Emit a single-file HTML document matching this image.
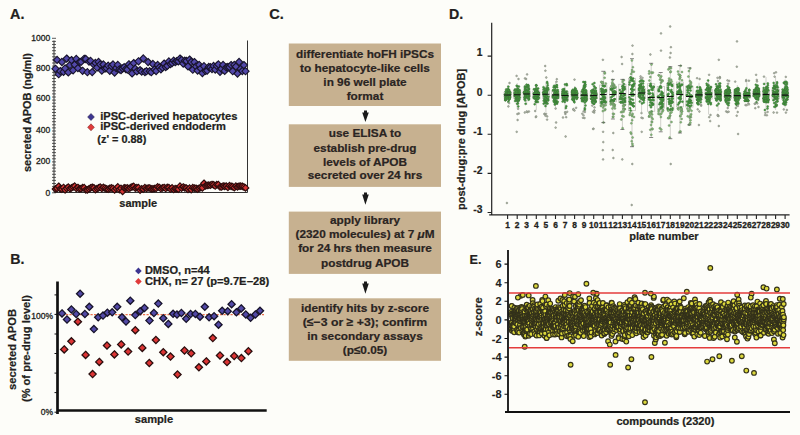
<!DOCTYPE html>
<html><head><meta charset="utf-8"><style>
html,body{margin:0;padding:0;background:#fdfdf9;width:800px;height:435px;overflow:hidden}
svg{display:block;font-family:"Liberation Sans",sans-serif}
</style></head><body>
<svg width="800" height="435" viewBox="0 0 800 435" font-family="Liberation Sans, sans-serif" font-weight="bold"><text x="10.0" y="18.9" font-size="14.4" text-anchor="start" fill="#231f20" stroke="#231f20" stroke-width="0.22">A.</text>
<text x="10.2" y="264.3" font-size="14.2" text-anchor="start" fill="#231f20" stroke="#231f20" stroke-width="0.22">B.</text>
<text x="269.2" y="18.9" font-size="14.6" text-anchor="start" fill="#231f20" stroke="#231f20" stroke-width="0.22">C.</text>
<text x="449.0" y="18.8" font-size="14.2" text-anchor="start" fill="#231f20" stroke="#231f20" stroke-width="0.22">D.</text>
<text x="469.6" y="264.3" font-size="12.6" text-anchor="start" fill="#231f20" stroke="#231f20" stroke-width="0.22">E.</text>
<g stroke="#333" stroke-width="1" fill="none">
<path d="M54 40.5V192.5H247.5V40.5"/>
</g>
<path d="M52 192.8h4M52 189.7h4M52 186.6h4M52 183.5h4M52 180.4h4M52 177.4h4M52 174.3h4M52 171.2h4M52 168.1h4M52 165h4M52 161.9h4M52 158.8h4M52 155.7h4M52 152.6h4M52 149.5h4M52 146.5h4M52 143.4h4M52 140.3h4M52 137.2h4M52 134.1h4M52 131h4M52 127.9h4M52 124.8h4M52 121.7h4M52 118.6h4M52 115.6h4M52 112.5h4M52 109.4h4M52 106.3h4M52 103.2h4M52 100.1h4M52 97h4M52 93.9h4M52 90.8h4M52 87.7h4M52 84.7h4M52 81.6h4M52 78.5h4M52 75.4h4M52 72.3h4M52 69.2h4M52 66.1h4M52 63h4M52 59.9h4M52 56.8h4M52 53.8h4M52 50.7h4M52 47.6h4M52 44.5h4M52 41.4h4M52 38.3h4" stroke="#333" stroke-width="0.8"/>
<text x="50.2" y="196" font-size="8.5" text-anchor="end" fill="#231f20" stroke="#231f20" stroke-width="0.3" font-weight="normal">0</text>
<text x="50.2" y="164.4" font-size="8.5" text-anchor="end" fill="#231f20" stroke="#231f20" stroke-width="0.3" font-weight="normal">200</text>
<text x="50.2" y="133" font-size="8.5" text-anchor="end" fill="#231f20" stroke="#231f20" stroke-width="0.3" font-weight="normal">400</text>
<text x="50.2" y="101.3" font-size="8.5" text-anchor="end" fill="#231f20" stroke="#231f20" stroke-width="0.3" font-weight="normal">600</text>
<text x="50.2" y="70.8" font-size="8.5" text-anchor="end" fill="#231f20" stroke="#231f20" stroke-width="0.3" font-weight="normal">800</text>
<text x="50.2" y="40.8" font-size="8.5" text-anchor="end" fill="#231f20" stroke="#231f20" stroke-width="0.3" font-weight="normal">1000</text>
<text x="31.0" y="112.5" font-size="10.6" text-anchor="middle" fill="#231f20" stroke="#231f20" stroke-width="0.22" textLength="119" lengthAdjust="spacingAndGlyphs" transform="rotate(-90 31.0 112.5)">secreted APOB (ng/ml)</text>
<text x="138.2" y="207.0" font-size="10.8" text-anchor="middle" fill="#231f20" stroke="#231f20" stroke-width="0.22" textLength="37.8" lengthAdjust="spacingAndGlyphs">sample</text>
<g fill="#5248aa" stroke="#18142c" stroke-width="1.1">
<path d="M55.5 65.2L59.1 68.8L55.5 72.4L51.9 68.8Z"/><path d="M57.1 56.3L60.7 59.9L57.1 63.5L53.5 59.9Z"/><path d="M58.7 70.6L62.3 74.2L58.7 77.8L55.1 74.2Z"/><path d="M60.3 67.5L63.9 71.1L60.3 74.7L56.7 71.1Z"/><path d="M61.9 58.4L65.5 62L61.9 65.6L58.3 62Z"/><path d="M63.5 68.3L67.1 71.9L63.5 75.5L59.9 71.9Z"/><path d="M65.1 64.8L68.7 68.4L65.1 72L61.5 68.4Z"/><path d="M66.7 55L70.3 58.6L66.7 62.2L63.1 58.6Z"/><path d="M68.3 68.8L71.9 72.4L68.3 76L64.7 72.4Z"/><path d="M69.9 61.5L73.5 65.1L69.9 68.7L66.3 65.1Z"/><path d="M71.5 56.5L75.1 60.1L71.5 63.7L67.9 60.1Z"/><path d="M73.1 66.7L76.7 70.3L73.1 73.9L69.5 70.3Z"/><path d="M74.7 61.1L78.3 64.7L74.7 68.3L71.1 64.7Z"/><path d="M76.3 55.3L79.9 58.9L76.3 62.5L72.7 58.9Z"/><path d="M77.9 64.5L81.5 68.1L77.9 71.7L74.3 68.1Z"/><path d="M79.4 58.5L83 62.1L79.4 65.7L75.8 62.1Z"/><path d="M81 58.3L84.6 61.9L81 65.5L77.4 61.9Z"/><path d="M82.6 67.2L86.2 70.8L82.6 74.4L79 70.8Z"/><path d="M84.2 55.2L87.8 58.8L84.2 62.4L80.6 58.8Z"/><path d="M85.8 55.4L89.4 59L85.8 62.6L82.2 59Z"/><path d="M87.4 68.6L91 72.2L87.4 75.8L83.8 72.2Z"/><path d="M89 58L92.6 61.6L89 65.2L85.4 61.6Z"/><path d="M90.6 57.3L94.2 60.9L90.6 64.5L87 60.9Z"/><path d="M92.2 68.5L95.8 72.1L92.2 75.7L88.6 72.1Z"/><path d="M93.8 61L97.4 64.6L93.8 68.2L90.2 64.6Z"/><path d="M95.4 59.3L99 62.9L95.4 66.5L91.8 62.9Z"/><path d="M97 64L100.6 67.6L97 71.2L93.4 67.6Z"/><path d="M98.6 58.3L102.2 61.9L98.6 65.5L95 61.9Z"/><path d="M100.2 60.9L103.8 64.5L100.2 68.1L96.6 64.5Z"/><path d="M101.8 67L105.4 70.6L101.8 74.2L98.2 70.6Z"/><path d="M103.4 60.9L107 64.5L103.4 68.1L99.8 64.5Z"/><path d="M105 64.9L108.6 68.5L105 72.1L101.4 68.5Z"/><path d="M106.6 64.5L110.2 68.1L106.6 71.7L103 68.1Z"/><path d="M108.2 62.1L111.8 65.7L108.2 69.3L104.6 65.7Z"/><path d="M109.8 67.2L113.4 70.8L109.8 74.4L106.2 70.8Z"/><path d="M111.4 62.5L115 66.1L111.4 69.7L107.8 66.1Z"/><path d="M113 60.9L116.6 64.5L113 68.1L109.4 64.5Z"/><path d="M114.6 68.9L118.2 72.5L114.6 76.1L111 72.5Z"/><path d="M116.2 64.4L119.8 68L116.2 71.6L112.6 68Z"/><path d="M117.8 61.3L121.4 64.9L117.8 68.5L114.2 64.9Z"/><path d="M119.4 65.8L123 69.4L119.4 73L115.8 69.4Z"/><path d="M121 66.5L124.6 70.1L121 73.7L117.4 70.1Z"/><path d="M122.6 64.9L126.2 68.5L122.6 72.1L119 68.5Z"/><path d="M124.2 63.6L127.8 67.2L124.2 70.8L120.6 67.2Z"/><path d="M125.8 65.5L129.4 69.1L125.8 72.7L122.2 69.1Z"/><path d="M127.3 65.9L130.9 69.5L127.3 73.1L123.7 69.5Z"/><path d="M128.9 60.7L132.5 64.3L128.9 67.9L125.3 64.3Z"/><path d="M130.5 62.9L134.1 66.5L130.5 70.1L126.9 66.5Z"/><path d="M132.1 69.8L135.7 73.4L132.1 77L128.5 73.4Z"/><path d="M133.7 59.5L137.3 63.1L133.7 66.7L130.1 63.1Z"/><path d="M135.3 65.1L138.9 68.7L135.3 72.3L131.7 68.7Z"/><path d="M136.9 67.8L140.5 71.4L136.9 75L133.3 71.4Z"/><path d="M138.5 57.7L142.1 61.3L138.5 64.9L134.9 61.3Z"/><path d="M140.1 66.6L143.7 70.2L140.1 73.8L136.5 70.2Z"/><path d="M141.7 68L145.3 71.6L141.7 75.2L138.1 71.6Z"/><path d="M143.3 54.9L146.9 58.5L143.3 62.1L139.7 58.5Z"/><path d="M144.9 68.5L148.5 72.1L144.9 75.7L141.3 72.1Z"/><path d="M146.5 67.6L150.1 71.2L146.5 74.8L142.9 71.2Z"/><path d="M148.1 58.5L151.7 62.1L148.1 65.7L144.5 62.1Z"/><path d="M149.7 67.6L153.3 71.2L149.7 74.8L146.1 71.2Z"/><path d="M151.3 68.6L154.9 72.2L151.3 75.8L147.7 72.2Z"/><path d="M152.9 60.4L156.5 64L152.9 67.6L149.3 64Z"/><path d="M154.5 65.9L158.1 69.5L154.5 73.1L150.9 69.5Z"/><path d="M156.1 67.4L159.7 71L156.1 74.6L152.5 71Z"/><path d="M157.7 61.4L161.3 65L157.7 68.6L154.1 65Z"/><path d="M159.3 63.9L162.9 67.5L159.3 71.1L155.7 67.5Z"/><path d="M160.9 65.7L164.5 69.3L160.9 72.9L157.3 69.3Z"/><path d="M162.5 64L166.1 67.6L162.5 71.2L158.9 67.6Z"/><path d="M164.1 60L167.7 63.6L164.1 67.2L160.5 63.6Z"/><path d="M165.7 63.4L169.3 67L165.7 70.6L162.1 67Z"/><path d="M167.3 62.3L170.9 65.9L167.3 69.5L163.7 65.9Z"/><path d="M168.9 57.8L172.5 61.4L168.9 65L165.3 61.4Z"/><path d="M170.5 60.4L174.1 64L170.5 67.6L166.9 64Z"/><path d="M172.1 59.4L175.7 63L172.1 66.6L168.5 63Z"/><path d="M173.7 57.1L177.3 60.7L173.7 64.3L170.1 60.7Z"/><path d="M175.2 58.5L178.8 62.1L175.2 65.7L171.6 62.1Z"/><path d="M176.8 57.6L180.4 61.2L176.8 64.8L173.2 61.2Z"/><path d="M178.4 57.8L182 61.4L178.4 65L174.8 61.4Z"/><path d="M180 55L183.6 58.6L180 62.2L176.4 58.6Z"/><path d="M181.6 56.4L185.2 60L181.6 63.6L178 60Z"/><path d="M183.2 60L186.8 63.6L183.2 67.2L179.6 63.6Z"/><path d="M184.8 57.1L188.4 60.7L184.8 64.3L181.2 60.7Z"/><path d="M186.4 57.4L190 61L186.4 64.6L182.8 61Z"/><path d="M188 62.8L191.6 66.4L188 70L184.4 66.4Z"/><path d="M189.6 56L193.2 59.6L189.6 63.2L186 59.6Z"/><path d="M191.2 58.4L194.8 62L191.2 65.6L187.6 62Z"/><path d="M192.8 66.1L196.4 69.7L192.8 73.3L189.2 69.7Z"/><path d="M194.4 58.5L198 62.1L194.4 65.7L190.8 62.1Z"/><path d="M196 62.9L199.6 66.5L196 70.1L192.4 66.5Z"/><path d="M197.6 66.9L201.2 70.5L197.6 74.1L194 70.5Z"/><path d="M199.2 61.3L202.8 64.9L199.2 68.5L195.6 64.9Z"/><path d="M200.8 64.8L204.4 68.4L200.8 72L197.2 68.4Z"/><path d="M202.4 69.5L206 73.1L202.4 76.7L198.8 73.1Z"/><path d="M204 62.6L207.6 66.2L204 69.8L200.4 66.2Z"/><path d="M205.6 67.3L209.2 70.9L205.6 74.5L202 70.9Z"/><path d="M207.2 67L210.8 70.6L207.2 74.2L203.6 70.6Z"/><path d="M208.8 63.4L212.4 67L208.8 70.6L205.2 67Z"/><path d="M210.4 63.6L214 67.2L210.4 70.8L206.8 67.2Z"/><path d="M212 65.4L215.6 69L212 72.6L208.4 69Z"/><path d="M213.6 62.4L217.2 66L213.6 69.6L210 66Z"/><path d="M215.2 65.9L218.8 69.5L215.2 73.1L211.6 69.5Z"/><path d="M216.8 62.2L220.4 65.8L216.8 69.4L213.2 65.8Z"/><path d="M218.4 60.8L222 64.4L218.4 68L214.8 64.4Z"/><path d="M220 68.2L223.6 71.8L220 75.4L216.4 71.8Z"/><path d="M221.6 65.2L225.2 68.8L221.6 72.4L218 68.8Z"/><path d="M223.1 61.3L226.7 64.9L223.1 68.5L219.5 64.9Z"/><path d="M224.7 67.3L228.3 70.9L224.7 74.5L221.1 70.9Z"/><path d="M226.3 63.7L229.9 67.3L226.3 70.9L222.7 67.3Z"/><path d="M227.9 63.4L231.5 67L227.9 70.6L224.3 67Z"/><path d="M229.5 63.5L233.1 67.1L229.5 70.7L225.9 67.1Z"/><path d="M231.1 61.5L234.7 65.1L231.1 68.7L227.5 65.1Z"/><path d="M232.7 67.6L236.3 71.2L232.7 74.8L229.1 71.2Z"/><path d="M234.3 61.3L237.9 64.9L234.3 68.5L230.7 64.9Z"/><path d="M235.9 63L239.5 66.6L235.9 70.2L232.3 66.6Z"/><path d="M237.5 69.9L241.1 73.5L237.5 77.1L233.9 73.5Z"/><path d="M239.1 58.4L242.7 62L239.1 65.6L235.5 62Z"/><path d="M240.7 65.3L244.3 68.9L240.7 72.5L237.1 68.9Z"/><path d="M242.3 67.4L245.9 71L242.3 74.6L238.7 71Z"/><path d="M243.9 61.5L247.5 65.1L243.9 68.7L240.3 65.1Z"/><path d="M245.5 67.6L249.1 71.2L245.5 74.8L241.9 71.2Z"/>
</g>
<g fill="#d43434" stroke="#2e0c0c" stroke-width="1.15">
<path d="M55.5 185.6L58.8 188.9L55.5 192.2L52.2 188.9Z"/><path d="M57.1 185.1L60.4 188.4L57.1 191.7L53.8 188.4Z"/><path d="M58.7 183L62 186.3L58.7 189.6L55.4 186.3Z"/><path d="M60.3 185.5L63.6 188.8L60.3 192.1L57 188.8Z"/><path d="M61.9 185.8L65.2 189.1L61.9 192.4L58.6 189.1Z"/><path d="M63.5 184.2L66.8 187.5L63.5 190.8L60.2 187.5Z"/><path d="M65.1 186.5L68.4 189.8L65.1 193.1L61.8 189.8Z"/><path d="M66.7 185L70 188.3L66.7 191.6L63.4 188.3Z"/><path d="M68.3 183.8L71.6 187.1L68.3 190.4L65 187.1Z"/><path d="M69.9 185.4L73.2 188.7L69.9 192L66.6 188.7Z"/><path d="M71.5 184.6L74.8 187.9L71.5 191.2L68.2 187.9Z"/><path d="M73.1 183.7L76.4 187L73.1 190.3L69.8 187Z"/><path d="M74.7 182.9L78 186.2L74.7 189.5L71.4 186.2Z"/><path d="M76.3 185.1L79.6 188.4L76.3 191.7L73 188.4Z"/><path d="M77.9 184.2L81.2 187.5L77.9 190.8L74.6 187.5Z"/><path d="M79.4 185.5L82.7 188.8L79.4 192.1L76.1 188.8Z"/><path d="M81 185.3L84.3 188.6L81 191.9L77.7 188.6Z"/><path d="M82.6 184.4L85.9 187.7L82.6 191L79.3 187.7Z"/><path d="M84.2 184.4L87.5 187.7L84.2 191L80.9 187.7Z"/><path d="M85.8 186.5L89.1 189.8L85.8 193.1L82.5 189.8Z"/><path d="M87.4 186.5L90.7 189.8L87.4 193.1L84.1 189.8Z"/><path d="M89 185.6L92.3 188.9L89 192.2L85.7 188.9Z"/><path d="M90.6 184.6L93.9 187.9L90.6 191.2L87.3 187.9Z"/><path d="M92.2 184L95.5 187.3L92.2 190.6L88.9 187.3Z"/><path d="M93.8 184.5L97.1 187.8L93.8 191.1L90.5 187.8Z"/><path d="M95.4 186.4L98.7 189.7L95.4 193L92.1 189.7Z"/><path d="M97 185.3L100.3 188.6L97 191.9L93.7 188.6Z"/><path d="M98.6 184.6L101.9 187.9L98.6 191.2L95.3 187.9Z"/><path d="M100.2 183.8L103.5 187.1L100.2 190.4L96.9 187.1Z"/><path d="M101.8 185.1L105.1 188.4L101.8 191.7L98.5 188.4Z"/><path d="M103.4 184.1L106.7 187.4L103.4 190.7L100.1 187.4Z"/><path d="M105 184.9L108.3 188.2L105 191.5L101.7 188.2Z"/><path d="M106.6 185.6L109.9 188.9L106.6 192.2L103.3 188.9Z"/><path d="M108.2 185.9L111.5 189.2L108.2 192.5L104.9 189.2Z"/><path d="M109.8 185L113.1 188.3L109.8 191.6L106.5 188.3Z"/><path d="M111.4 184.6L114.7 187.9L111.4 191.2L108.1 187.9Z"/><path d="M113 185.1L116.3 188.4L113 191.7L109.7 188.4Z"/><path d="M114.6 186.6L117.9 189.9L114.6 193.2L111.3 189.9Z"/><path d="M116.2 185.2L119.5 188.5L116.2 191.8L112.9 188.5Z"/><path d="M117.8 183.6L121.1 186.9L117.8 190.2L114.5 186.9Z"/><path d="M119.4 186.3L122.7 189.6L119.4 192.9L116.1 189.6Z"/><path d="M121 185.1L124.3 188.4L121 191.7L117.7 188.4Z"/><path d="M122.6 188.1L125.9 191.4L122.6 194.7L119.3 191.4Z"/><path d="M124.2 184.5L127.5 187.8L124.2 191.1L120.9 187.8Z"/><path d="M125.8 184.8L129.1 188.1L125.8 191.4L122.5 188.1Z"/><path d="M127.3 184.6L130.6 187.9L127.3 191.2L124 187.9Z"/><path d="M128.9 185.2L132.2 188.5L128.9 191.8L125.6 188.5Z"/><path d="M130.5 184.4L133.8 187.7L130.5 191L127.2 187.7Z"/><path d="M132.1 183.5L135.4 186.8L132.1 190.1L128.8 186.8Z"/><path d="M133.7 183.1L137 186.4L133.7 189.7L130.4 186.4Z"/><path d="M135.3 184.8L138.6 188.1L135.3 191.4L132 188.1Z"/><path d="M136.9 184.4L140.2 187.7L136.9 191L133.6 187.7Z"/><path d="M138.5 184.4L141.8 187.7L138.5 191L135.2 187.7Z"/><path d="M140.1 186.8L143.4 190.1L140.1 193.4L136.8 190.1Z"/><path d="M141.7 185.6L145 188.9L141.7 192.2L138.4 188.9Z"/><path d="M143.3 185.9L146.6 189.2L143.3 192.5L140 189.2Z"/><path d="M144.9 184.4L148.2 187.7L144.9 191L141.6 187.7Z"/><path d="M146.5 185.2L149.8 188.5L146.5 191.8L143.2 188.5Z"/><path d="M148.1 184.7L151.4 188L148.1 191.3L144.8 188Z"/><path d="M149.7 184.7L153 188L149.7 191.3L146.4 188Z"/><path d="M151.3 185.6L154.6 188.9L151.3 192.2L148 188.9Z"/><path d="M152.9 185.5L156.2 188.8L152.9 192.1L149.6 188.8Z"/><path d="M154.5 185.2L157.8 188.5L154.5 191.8L151.2 188.5Z"/><path d="M156.1 185L159.4 188.3L156.1 191.6L152.8 188.3Z"/><path d="M157.7 183.6L161 186.9L157.7 190.2L154.4 186.9Z"/><path d="M159.3 184.2L162.6 187.5L159.3 190.8L156 187.5Z"/><path d="M160.9 185.2L164.2 188.5L160.9 191.8L157.6 188.5Z"/><path d="M162.5 184.6L165.8 187.9L162.5 191.2L159.2 187.9Z"/><path d="M164.1 184.2L167.4 187.5L164.1 190.8L160.8 187.5Z"/><path d="M165.7 185.2L169 188.5L165.7 191.8L162.4 188.5Z"/><path d="M167.3 184.1L170.6 187.4L167.3 190.7L164 187.4Z"/><path d="M168.9 184.3L172.2 187.6L168.9 190.9L165.6 187.6Z"/><path d="M170.5 185.7L173.8 189L170.5 192.3L167.2 189Z"/><path d="M172.1 184.6L175.4 187.9L172.1 191.2L168.8 187.9Z"/><path d="M173.7 186.2L177 189.5L173.7 192.8L170.4 189.5Z"/><path d="M175.2 185.4L178.5 188.7L175.2 192L171.9 188.7Z"/><path d="M176.8 185.6L180.1 188.9L176.8 192.2L173.5 188.9Z"/><path d="M178.4 185.9L181.7 189.2L178.4 192.5L175.1 189.2Z"/><path d="M180 182.9L183.3 186.2L180 189.5L176.7 186.2Z"/><path d="M181.6 184.8L184.9 188.1L181.6 191.4L178.3 188.1Z"/><path d="M183.2 183.7L186.5 187L183.2 190.3L179.9 187Z"/><path d="M184.8 184.5L188.1 187.8L184.8 191.1L181.5 187.8Z"/><path d="M186.4 184.8L189.7 188.1L186.4 191.4L183.1 188.1Z"/><path d="M188 186L191.3 189.3L188 192.6L184.7 189.3Z"/><path d="M189.6 184.9L192.9 188.2L189.6 191.5L186.3 188.2Z"/><path d="M191.2 186.4L194.5 189.7L191.2 193L187.9 189.7Z"/><path d="M192.8 184.4L196.1 187.7L192.8 191L189.5 187.7Z"/><path d="M194.4 184.8L197.7 188.1L194.4 191.4L191.1 188.1Z"/><path d="M196 185L199.3 188.3L196 191.6L192.7 188.3Z"/><path d="M197.6 185.8L200.9 189.1L197.6 192.4L194.3 189.1Z"/><path d="M199.2 184.9L202.5 188.2L199.2 191.5L195.9 188.2Z"/><path d="M200.8 184.3L204.1 187.6L200.8 190.9L197.5 187.6Z"/><path d="M202.4 184.6L205.7 187.9L202.4 191.2L199.1 187.9Z"/><path d="M204 180L207.3 183.3L204 186.6L200.7 183.3Z"/><path d="M205.6 182.5L208.9 185.8L205.6 189.1L202.3 185.8Z"/><path d="M207.2 182.1L210.5 185.4L207.2 188.7L203.9 185.4Z"/><path d="M208.8 181.9L212.1 185.2L208.8 188.5L205.5 185.2Z"/><path d="M210.4 181.9L213.7 185.2L210.4 188.5L207.1 185.2Z"/><path d="M212 181.2L215.3 184.5L212 187.8L208.7 184.5Z"/><path d="M213.6 181.5L216.9 184.8L213.6 188.1L210.3 184.8Z"/><path d="M215.2 182.7L218.5 186L215.2 189.3L211.9 186Z"/><path d="M216.8 181.3L220.1 184.6L216.8 187.9L213.5 184.6Z"/><path d="M218.4 181.4L221.7 184.7L218.4 188L215.1 184.7Z"/><path d="M220 183.7L223.3 187L220 190.3L216.7 187Z"/><path d="M221.6 183.7L224.9 187L221.6 190.3L218.3 187Z"/><path d="M223.1 182.7L226.4 186L223.1 189.3L219.8 186Z"/><path d="M224.7 183L228 186.3L224.7 189.6L221.4 186.3Z"/><path d="M226.3 182.8L229.6 186.1L226.3 189.4L223 186.1Z"/><path d="M227.9 184L231.2 187.3L227.9 190.6L224.6 187.3Z"/><path d="M229.5 182.4L232.8 185.7L229.5 189L226.2 185.7Z"/><path d="M231.1 183L234.4 186.3L231.1 189.6L227.8 186.3Z"/><path d="M232.7 183.4L236 186.7L232.7 190L229.4 186.7Z"/><path d="M234.3 184.4L237.6 187.7L234.3 191L231 187.7Z"/><path d="M235.9 182.9L239.2 186.2L235.9 189.5L232.6 186.2Z"/><path d="M237.5 183.5L240.8 186.8L237.5 190.1L234.2 186.8Z"/><path d="M239.1 182.9L242.4 186.2L239.1 189.5L235.8 186.2Z"/><path d="M240.7 182.9L244 186.2L240.7 189.5L237.4 186.2Z"/><path d="M242.3 183L245.6 186.3L242.3 189.6L239 186.3Z"/><path d="M243.9 183.7L247.2 187L243.9 190.3L240.6 187Z"/><path d="M245.5 184.6L248.8 187.9L245.5 191.2L242.2 187.9Z"/>
</g>
<g stroke="#221d40" stroke-width="0.5">
<path fill="#3d3590" d="M91 113.5L94.4 117L91 120.5L87.6 117Z"/>
<path fill="#e03a3a" stroke="#6a1a1a" d="M91 123.8L94.4 127.3L91 130.8L87.6 127.3Z"/>
</g>
<text x="100.2" y="119.6" font-size="10.4" text-anchor="start" fill="#231f20" stroke="#231f20" stroke-width="0.22" textLength="137.2" lengthAdjust="spacingAndGlyphs">iPSC-derived hepatocytes</text>
<text x="100.2" y="130.3" font-size="10.4" text-anchor="start" fill="#231f20" stroke="#231f20" stroke-width="0.22" textLength="125.8" lengthAdjust="spacingAndGlyphs">iPSC-derived endoderm</text>
<text x="97.3" y="142.6" font-size="10.4" text-anchor="start" fill="#231f20" stroke="#231f20" stroke-width="0.22" textLength="49" lengthAdjust="spacingAndGlyphs">(z' = 0.88)</text>
<path d="M57.5 281.5V414M56.2 410.5H266.7" stroke="#111" stroke-width="2.7" fill="none"/>
<path d="M54.5 412.2h3M54.5 392.6h3M54.5 373.1h3M54.5 353.5h3M54.5 334h3M54.5 314.4h3M54.5 294.9h3" stroke="#111" stroke-width="1"/>
<text x="53.1" y="318.6" font-size="8.5" text-anchor="end" fill="#231f20" stroke="#231f20" stroke-width="0.3" font-weight="normal">100%</text>
<text x="53.1" y="414.9" font-size="8.5" text-anchor="end" fill="#231f20" stroke="#231f20" stroke-width="0.3" font-weight="normal">0%</text>
<path d="M59 314.6H264" stroke="#e8603a" stroke-width="1.2" stroke-dasharray="2.2 1.3" opacity="0.9"/>
<text x="15.9" y="349.5" font-size="10" text-anchor="middle" fill="#231f20" stroke="#231f20" stroke-width="0.22" textLength="81" lengthAdjust="spacingAndGlyphs" transform="rotate(-90 15.9 349.5)">secreted APOB</text>
<text x="29.6" y="348.5" font-size="10" text-anchor="middle" fill="#231f20" stroke="#231f20" stroke-width="0.22" textLength="107" lengthAdjust="spacingAndGlyphs" transform="rotate(-90 29.6 348.5)">(% of pre-drug level)</text>
<text x="154" y="423.3" font-size="10.8" text-anchor="middle" fill="#231f20" stroke="#231f20" stroke-width="0.22" textLength="38.3" lengthAdjust="spacingAndGlyphs">sample</text>
<g fill="#5249a6" stroke="#17132a" stroke-width="1.3">
<path d="M62 309.8L65.6 313.4L62 317L58.4 313.4Z"/><path d="M67 315.9L70.6 319.5L67 323.1L63.4 319.5Z"/><path d="M71.4 305.9L75 309.5L71.4 313.1L67.8 309.5Z"/><path d="M76.2 310.4L79.8 314L76.2 317.6L72.6 314Z"/><path d="M80.1 290.1L83.7 293.7L80.1 297.3L76.5 293.7Z"/><path d="M84.9 310.4L88.5 314L84.9 317.6L81.3 314Z"/><path d="M89.3 303.2L92.9 306.8L89.3 310.4L85.7 306.8Z"/><path d="M93.9 325.5L97.5 329.1L93.9 332.7L90.3 329.1Z"/><path d="M98.2 313.7L101.8 317.3L98.2 320.9L94.6 317.3Z"/><path d="M103 312L106.6 315.6L103 319.2L99.4 315.6Z"/><path d="M107.4 309.1L111 312.7L107.4 316.3L103.8 312.7Z"/><path d="M112.2 308.7L115.8 312.3L112.2 315.9L108.6 312.3Z"/><path d="M117.2 303.2L120.8 306.8L117.2 310.4L113.6 306.8Z"/><path d="M122 313.7L125.6 317.3L122 320.9L118.4 317.3Z"/><path d="M126 317.9L129.6 321.5L126 325.1L122.4 321.5Z"/><path d="M130.3 297.1L133.9 300.7L130.3 304.3L126.7 300.7Z"/><path d="M135.3 311.5L138.9 315.1L135.3 318.7L131.7 315.1Z"/><path d="M140.2 307.6L143.8 311.2L140.2 314.8L136.6 311.2Z"/><path d="M144.5 304.4L148.1 308L144.5 311.6L140.9 308Z"/><path d="M149.5 317L153.1 320.6L149.5 324.2L145.9 320.6Z"/><path d="M153.9 309.4L157.5 313L153.9 316.6L150.3 313Z"/><path d="M158.3 300L161.9 303.6L158.3 307.2L154.7 303.6Z"/><path d="M163.3 314.6L166.9 318.2L163.3 321.8L159.7 318.2Z"/><path d="M168.3 320.3L171.9 323.9L168.3 327.5L164.7 323.9Z"/><path d="M173.1 310.2L176.7 313.8L173.1 317.4L169.5 313.8Z"/><path d="M177 310.9L180.6 314.5L177 318.1L173.4 314.5Z"/><path d="M181.4 309.4L185 313L181.4 316.6L177.8 313Z"/><path d="M186.2 315.2L189.8 318.8L186.2 322.4L182.6 318.8Z"/><path d="M190.6 310.4L194.2 314L190.6 317.6L187 314Z"/><path d="M195.4 310.4L199 314L195.4 317.6L191.8 314Z"/><path d="M200 313.1L203.6 316.7L200 320.3L196.4 316.7Z"/><path d="M204.8 303.2L208.4 306.8L204.8 310.4L201.2 306.8Z"/><path d="M209.1 313.7L212.7 317.3L209.1 320.9L205.5 317.3Z"/><path d="M214.1 312.6L217.7 316.2L214.1 319.8L210.5 316.2Z"/><path d="M218.5 321.1L222.1 324.7L218.5 328.3L214.9 324.7Z"/><path d="M222.2 307.2L225.8 310.8L222.2 314.4L218.6 310.8Z"/><path d="M227.7 307.6L231.3 311.2L227.7 314.8L224.1 311.2Z"/><path d="M231.6 300.6L235.2 304.2L231.6 307.8L228 304.2Z"/><path d="M236.4 308.7L240 312.3L236.4 315.9L232.8 312.3Z"/><path d="M241.2 304.8L244.8 308.4L241.2 312L237.6 308.4Z"/><path d="M245.8 310.9L249.4 314.5L245.8 318.1L242.2 314.5Z"/><path d="M250.6 314.2L254.2 317.8L250.6 321.4L247 317.8Z"/><path d="M255.4 310.9L259 314.5L255.4 318.1L251.8 314.5Z"/><path d="M260 307.2L263.6 310.8L260 314.4L256.4 310.8Z"/>
</g>
<g fill="#dc3434" stroke="#2a0e0e" stroke-width="1.3">
<path d="M64.2 345.8L67.8 349.4L64.2 353L60.6 349.4Z"/><path d="M71.4 337.7L75 341.3L71.4 344.9L67.8 341.3Z"/><path d="M77.9 318.1L81.5 321.7L77.9 325.3L74.3 321.7Z"/><path d="M85.6 351.3L89.2 354.9L85.6 358.5L82 354.9Z"/><path d="M92.6 370.5L96.2 374.1L92.6 377.7L89 374.1Z"/><path d="M99.3 358.3L102.9 361.9L99.3 365.5L95.7 361.9Z"/><path d="M107 341.9L110.6 345.5L107 349.1L103.4 345.5Z"/><path d="M114.4 350.8L118 354.4L114.4 358L110.8 354.4Z"/><path d="M121.2 340.8L124.8 344.4L121.2 348L117.6 344.4Z"/><path d="M128.1 348L131.7 351.6L128.1 355.2L124.5 351.6Z"/><path d="M135.3 326.6L138.9 330.2L135.3 333.8L131.7 330.2Z"/><path d="M142.3 344.3L145.9 347.9L142.3 351.5L138.7 347.9Z"/><path d="M149.3 359.4L152.9 363L149.3 366.6L145.7 363Z"/><path d="M155.9 336.4L159.5 340L155.9 343.6L152.3 340Z"/><path d="M163.3 348.6L166.9 352.2L163.3 355.8L159.7 352.2Z"/><path d="M170.5 353L174.1 356.6L170.5 360.2L166.9 356.6Z"/><path d="M177.5 370.9L181.1 374.5L177.5 378.1L173.9 374.5Z"/><path d="M184.5 346.9L188.1 350.5L184.5 354.1L180.9 350.5Z"/><path d="M191.2 349.7L194.8 353.3L191.2 356.9L187.6 353.3Z"/><path d="M198.9 363.7L202.5 367.3L198.9 370.9L195.3 367.3Z"/><path d="M206.3 357.8L209.9 361.4L206.3 365L202.7 361.4Z"/><path d="M212.8 334.5L216.4 338.1L212.8 341.7L209.2 338.1Z"/><path d="M220 351.9L223.6 355.5L220 359.1L216.4 355.5Z"/><path d="M227 358.5L230.6 362.1L227 365.7L223.4 362.1Z"/><path d="M234.2 352.4L237.8 356L234.2 359.6L230.6 356Z"/><path d="M241.4 354.5L245 358.1L241.4 361.7L237.8 358.1Z"/><path d="M248.4 347.6L252 351.2L248.4 354.8L244.8 351.2Z"/>
</g>
<path fill="#3d3590" d="M138.4 267.6L141.7 270.9L138.4 274.2L135.1 270.9Z"/>
<path fill="#e03a3a" d="M138.4 278.1L141.7 281.4L138.4 284.7L135.1 281.4Z"/>
<text x="144.9" y="274.1" font-size="10.3" text-anchor="start" fill="#231f20" stroke="#231f20" stroke-width="0.22" textLength="64.8" lengthAdjust="spacingAndGlyphs">DMSO, n=44</text>
<text x="144.9" y="284.6" font-size="10.3" text-anchor="start" fill="#231f20" stroke="#231f20" stroke-width="0.22" textLength="124.3" lengthAdjust="spacingAndGlyphs">CHX, n= 27 (p=9.7E−28)</text>
<rect x="288.8" y="43.5" width="152.2" height="62.5" fill="#c7b190"/>
<rect x="288.8" y="124.3" width="152.2" height="62.6" fill="#c7b190"/>
<rect x="288.8" y="211.6" width="152.2" height="62.3" fill="#c7b190"/>
<rect x="288.8" y="298.3" width="152.2" height="62.5" fill="#c7b190"/>
<text x="365" y="58" font-size="11.8" text-anchor="middle" fill="#2a2422" stroke="#2a2422" stroke-width="0.22" textLength="138" lengthAdjust="spacingAndGlyphs">differentiate hoFH iPSCs</text>
<text x="365" y="72.2" font-size="11.8" text-anchor="middle" fill="#2a2422" stroke="#2a2422" stroke-width="0.22">to hepatocyte-like cells</text>
<text x="365" y="86.3" font-size="11.8" text-anchor="middle" fill="#2a2422" stroke="#2a2422" stroke-width="0.22">in 96 well plate</text>
<text x="365" y="100.4" font-size="11.8" text-anchor="middle" fill="#2a2422" stroke="#2a2422" stroke-width="0.22">format</text>
<text x="365" y="137.2" font-size="11.8" text-anchor="middle" fill="#2a2422" stroke="#2a2422" stroke-width="0.22">use ELISA to</text>
<text x="365" y="151.9" font-size="11.8" text-anchor="middle" fill="#2a2422" stroke="#2a2422" stroke-width="0.22">establish pre-drug</text>
<text x="365" y="165.7" font-size="11.8" text-anchor="middle" fill="#2a2422" stroke="#2a2422" stroke-width="0.22">levels of APOB</text>
<text x="365" y="179.4" font-size="11.8" text-anchor="middle" fill="#2a2422" stroke="#2a2422" stroke-width="0.22" textLength="114.5" lengthAdjust="spacingAndGlyphs">secreted over 24 hrs</text>
<text x="365" y="224.3" font-size="11.8" text-anchor="middle" fill="#2a2422" stroke="#2a2422" stroke-width="0.22">apply library</text>
<text x="365" y="238" font-size="11.8" text-anchor="middle" fill="#2a2422" stroke="#2a2422" stroke-width="0.22">(2320 molecules) at 7 <tspan font-style="italic">μ</tspan>M</text>
<text x="365" y="252.4" font-size="11.8" text-anchor="middle" fill="#2a2422" stroke="#2a2422" stroke-width="0.22">for 24 hrs then measure</text>
<text x="365" y="267" font-size="11.8" text-anchor="middle" fill="#2a2422" stroke="#2a2422" stroke-width="0.22">postdrug APOB</text>
<text x="365" y="311.7" font-size="11.8" text-anchor="middle" fill="#2a2422" stroke="#2a2422" stroke-width="0.22" textLength="128" lengthAdjust="spacingAndGlyphs">identify hits by z-score</text>
<text x="365" y="325.6" font-size="11.8" text-anchor="middle" fill="#2a2422" stroke="#2a2422" stroke-width="0.22" textLength="124.5" lengthAdjust="spacingAndGlyphs">(≤−3 or ≥ +3); confirm</text>
<text x="365" y="339.7" font-size="11.8" text-anchor="middle" fill="#2a2422" stroke="#2a2422" stroke-width="0.22">in secondary assays</text>
<text x="365" y="353.8" font-size="11.8" text-anchor="middle" fill="#2a2422" stroke="#2a2422" stroke-width="0.22">(p≤0.05)</text>
<path d="M364 110.5H367V112.5H368.8L365.4 122L362.2 112.5H364Z" fill="#1a1a1a"/>
<path d="M364 192.4H367V194.4H368.8L365.4 204.8L362.2 194.4H364Z" fill="#1a1a1a"/>
<path d="M364 281.4H367V283.4H368.8L365.4 293.8L362.2 283.4H364Z" fill="#1a1a1a"/>
<path d="M491.7 22.8V215.5M489.2 214.8H789.6" stroke="#222" stroke-width="1.2" fill="none"/>
<path d="M487.6 56.1h4M487.6 95.2h4M487.6 134.3h4M487.6 173.4h4M487.6 212.5h4M507.6 215v4M517.2 215v4M526.7 215v4M536.3 215v4M545.9 215v4M555.5 215v4M565 215v4M574.6 215v4M584.2 215v4M593.7 215v4M603.3 215v4M612.9 215v4M622.4 215v4M632 215v4M641.6 215v4M651.2 215v4M660.7 215v4M670.3 215v4M679.9 215v4M689.4 215v4M699 215v4M708.6 215v4M718.1 215v4M727.7 215v4M737.3 215v4M746.9 215v4M756.4 215v4M766 215v4M775.6 215v4M785.1 215v4" stroke="#222" stroke-width="1.1"/>
<text x="482.4" y="56.4" font-size="10.3" text-anchor="end" fill="#231f20" stroke="#231f20" stroke-width="0.22">1</text>
<text x="482.4" y="95.5" font-size="10.3" text-anchor="end" fill="#231f20" stroke="#231f20" stroke-width="0.22">0</text>
<text x="482.4" y="134.6" font-size="10.3" text-anchor="end" fill="#231f20" stroke="#231f20" stroke-width="0.22">-1</text>
<text x="482.4" y="173.7" font-size="10.3" text-anchor="end" fill="#231f20" stroke="#231f20" stroke-width="0.22">-2</text>
<text x="482.4" y="212.8" font-size="10.3" text-anchor="end" fill="#231f20" stroke="#231f20" stroke-width="0.22">-3</text>
<text x="507.6" y="227.7" font-size="8.4" text-anchor="middle" fill="#231f20" stroke="#231f20" stroke-width="0.3">1</text>
<text x="517.2" y="227.7" font-size="8.4" text-anchor="middle" fill="#231f20" stroke="#231f20" stroke-width="0.3">2</text>
<text x="526.7" y="227.7" font-size="8.4" text-anchor="middle" fill="#231f20" stroke="#231f20" stroke-width="0.3">3</text>
<text x="536.3" y="227.7" font-size="8.4" text-anchor="middle" fill="#231f20" stroke="#231f20" stroke-width="0.3">4</text>
<text x="545.9" y="227.7" font-size="8.4" text-anchor="middle" fill="#231f20" stroke="#231f20" stroke-width="0.3">5</text>
<text x="555.5" y="227.7" font-size="8.4" text-anchor="middle" fill="#231f20" stroke="#231f20" stroke-width="0.3">6</text>
<text x="565" y="227.7" font-size="8.4" text-anchor="middle" fill="#231f20" stroke="#231f20" stroke-width="0.3">7</text>
<text x="574.6" y="227.7" font-size="8.4" text-anchor="middle" fill="#231f20" stroke="#231f20" stroke-width="0.3">8</text>
<text x="584.2" y="227.7" font-size="8.4" text-anchor="middle" fill="#231f20" stroke="#231f20" stroke-width="0.3">9</text>
<text x="593.7" y="227.7" font-size="8.4" text-anchor="middle" fill="#231f20" stroke="#231f20" stroke-width="0.3">10</text>
<text x="603.3" y="227.7" font-size="8.4" text-anchor="middle" fill="#231f20" stroke="#231f20" stroke-width="0.3">11</text>
<text x="612.9" y="227.7" font-size="8.4" text-anchor="middle" fill="#231f20" stroke="#231f20" stroke-width="0.3">12</text>
<text x="622.4" y="227.7" font-size="8.4" text-anchor="middle" fill="#231f20" stroke="#231f20" stroke-width="0.3">13</text>
<text x="632" y="227.7" font-size="8.4" text-anchor="middle" fill="#231f20" stroke="#231f20" stroke-width="0.3">14</text>
<text x="641.6" y="227.7" font-size="8.4" text-anchor="middle" fill="#231f20" stroke="#231f20" stroke-width="0.3">15</text>
<text x="651.2" y="227.7" font-size="8.4" text-anchor="middle" fill="#231f20" stroke="#231f20" stroke-width="0.3">16</text>
<text x="660.7" y="227.7" font-size="8.4" text-anchor="middle" fill="#231f20" stroke="#231f20" stroke-width="0.3">17</text>
<text x="670.3" y="227.7" font-size="8.4" text-anchor="middle" fill="#231f20" stroke="#231f20" stroke-width="0.3">18</text>
<text x="679.9" y="227.7" font-size="8.4" text-anchor="middle" fill="#231f20" stroke="#231f20" stroke-width="0.3">19</text>
<text x="689.4" y="227.7" font-size="8.4" text-anchor="middle" fill="#231f20" stroke="#231f20" stroke-width="0.3">20</text>
<text x="699" y="227.7" font-size="8.4" text-anchor="middle" fill="#231f20" stroke="#231f20" stroke-width="0.3">21</text>
<text x="708.6" y="227.7" font-size="8.4" text-anchor="middle" fill="#231f20" stroke="#231f20" stroke-width="0.3">22</text>
<text x="718.1" y="227.7" font-size="8.4" text-anchor="middle" fill="#231f20" stroke="#231f20" stroke-width="0.3">23</text>
<text x="727.7" y="227.7" font-size="8.4" text-anchor="middle" fill="#231f20" stroke="#231f20" stroke-width="0.3">24</text>
<text x="737.3" y="227.7" font-size="8.4" text-anchor="middle" fill="#231f20" stroke="#231f20" stroke-width="0.3">25</text>
<text x="746.9" y="227.7" font-size="8.4" text-anchor="middle" fill="#231f20" stroke="#231f20" stroke-width="0.3">26</text>
<text x="756.4" y="227.7" font-size="8.4" text-anchor="middle" fill="#231f20" stroke="#231f20" stroke-width="0.3">27</text>
<text x="766" y="227.7" font-size="8.4" text-anchor="middle" fill="#231f20" stroke="#231f20" stroke-width="0.3">28</text>
<text x="775.6" y="227.7" font-size="8.4" text-anchor="middle" fill="#231f20" stroke="#231f20" stroke-width="0.3">29</text>
<text x="785.1" y="227.7" font-size="8.4" text-anchor="middle" fill="#231f20" stroke="#231f20" stroke-width="0.3">30</text>
<text x="663.9" y="240" font-size="10.2" text-anchor="middle" fill="#231f20" stroke="#231f20" stroke-width="0.22" textLength="69.4" lengthAdjust="spacingAndGlyphs">plate number</text>
<text x="465.4" y="139.4" font-size="10.8" text-anchor="middle" fill="#231f20" stroke="#231f20" stroke-width="0.22" textLength="141" lengthAdjust="spacingAndGlyphs" transform="rotate(-90 465.4 139.4)">post-drug:pre drug [APOB]</text>
<g fill="none" stroke="#b4b4ac" stroke-width="0.6"><rect x="504" y="92.5" width="7.2" height="5"/><path d="M507.6 85.2V92.5M507.6 97.5V102.8"/><rect x="513.6" y="91.1" width="7.2" height="7.1"/><path d="M517.2 83V91.1M517.2 98.2V108"/><rect x="523.1" y="90.9" width="7.2" height="6.3"/><path d="M526.7 83V90.9M526.7 97.2V105"/><rect x="532.7" y="90.9" width="7.2" height="7.1"/><path d="M536.3 85V90.9M536.3 98V110"/><rect x="542.3" y="89.9" width="7.2" height="8.6"/><path d="M545.9 82V89.9M545.9 98.5V112"/><rect x="551.9" y="91.3" width="7.2" height="7.1"/><path d="M555.5 82V91.3M555.5 98.5V107"/><rect x="561.4" y="91.8" width="7.2" height="7.4"/><path d="M565 84V91.8M565 99.2V110"/><rect x="571" y="92.5" width="7.2" height="5.1"/><path d="M574.6 86V92.5M574.6 97.6V104"/><rect x="580.6" y="91.1" width="7.2" height="8"/><path d="M584.2 82V91.1M584.2 99.1V110"/><rect x="590.1" y="92.3" width="7.2" height="6.4"/><path d="M593.7 83V92.3M593.7 98.7V105.3"/><rect x="599.7" y="85" width="7.2" height="19"/><path d="M603.3 71.3V85M603.3 104V122.6"/><rect x="609.3" y="87.2" width="7.2" height="14.6"/><path d="M612.9 79.4V87.2M612.9 101.8V119"/><rect x="618.8" y="84.2" width="7.2" height="18.5"/><path d="M622.4 79.4V84.2M622.4 102.8V129.5"/><rect x="628.4" y="78.2" width="7.2" height="32.5"/><path d="M632 58.7V78.2M632 110.8V146.7"/><rect x="638" y="88.5" width="7.2" height="9"/><path d="M641.6 80.5V88.5M641.6 97.5V112"/><rect x="647.6" y="83.8" width="7.2" height="27.4"/><path d="M651.2 63.3V83.8M651.2 111.2V137.5"/><rect x="657.1" y="86.5" width="7.2" height="21.9"/><path d="M660.7 72.5V86.5M660.7 108.5V131.8"/><rect x="666.7" y="83.2" width="7.2" height="26.6"/><path d="M670.3 66.7V83.2M670.3 109.8V138.7"/><rect x="676.3" y="82" width="7.2" height="24.9"/><path d="M679.9 65.6V82M679.9 107V133"/><rect x="685.8" y="86" width="7.2" height="21.1"/><path d="M689.4 67.9V86M689.4 107V124.9"/><rect x="695.4" y="91.9" width="7.2" height="6.1"/><path d="M699 82.8V91.9M699 98V104.2"/><rect x="705" y="89.4" width="7.2" height="9.7"/><path d="M708.6 80.5V89.4M708.6 99.1V114.5"/><rect x="714.5" y="90" width="7.2" height="8.4"/><path d="M718.1 81.7V90M718.1 98.3V111"/><rect x="724.1" y="92.6" width="7.2" height="6.1"/><path d="M727.7 85V92.6M727.7 98.7V106.5"/><rect x="733.7" y="92.7" width="7.2" height="5.8"/><path d="M737.3 85V92.7M737.3 98.5V105.3"/><rect x="743.2" y="93" width="7.2" height="5.1"/><path d="M746.9 82.8V93M746.9 98.1V100.7"/><rect x="752.8" y="91.3" width="7.2" height="5.4"/><path d="M756.4 84V91.3M756.4 96.7V103"/><rect x="762.4" y="89.7" width="7.2" height="9.4"/><path d="M766 77V89.7M766 99.1V110"/><rect x="772" y="89.5" width="7.2" height="9.4"/><path d="M775.6 77V89.5M775.6 99V110"/><rect x="781.5" y="91.1" width="7.2" height="8.1"/><path d="M785.1 79.4V91.1M785.1 99.1V107.6"/></g>
<g fill="#40a03a" stroke="#3f6c3a" stroke-width="0.45"><circle cx="508.7" cy="93.1" r="1"/><circle cx="506.2" cy="97.7" r="1"/><circle cx="509.1" cy="99.1" r="1"/><circle cx="505.7" cy="99.8" r="1"/><circle cx="507.5" cy="91.4" r="1"/><circle cx="508.5" cy="90.2" r="1"/><circle cx="508.2" cy="89" r="1"/><circle cx="507.6" cy="97.7" r="1"/><circle cx="509" cy="90.5" r="1"/><circle cx="505.2" cy="94.5" r="1"/><circle cx="509.2" cy="90.1" r="1"/><circle cx="507.3" cy="92.6" r="1"/><circle cx="508.4" cy="93.8" r="1"/><circle cx="509.6" cy="95.9" r="1"/><circle cx="510" cy="97.2" r="1"/><circle cx="506" cy="95.5" r="1"/><circle cx="508.4" cy="101.8" r="1"/><circle cx="508.3" cy="96.7" r="1"/><circle cx="506.2" cy="89.4" r="1"/><circle cx="506.2" cy="95.7" r="1"/><circle cx="509.7" cy="98.8" r="1"/><circle cx="509.2" cy="95" r="1"/><circle cx="505.5" cy="98.6" r="1"/><circle cx="510.1" cy="92" r="1"/><circle cx="505.9" cy="91.6" r="1"/><circle cx="505.3" cy="96.6" r="1"/><circle cx="508.8" cy="96.6" r="1"/><circle cx="508.3" cy="96.1" r="1"/><circle cx="507.3" cy="96.8" r="1"/><circle cx="506.9" cy="97.7" r="1"/><circle cx="507.2" cy="89.8" r="1"/><circle cx="508.9" cy="99.6" r="1"/><circle cx="507.7" cy="96.5" r="1"/><circle cx="505.7" cy="97.1" r="1"/><circle cx="505" cy="94.7" r="1"/><circle cx="509" cy="97" r="1"/><circle cx="508.6" cy="94.4" r="1"/><circle cx="509.7" cy="97.4" r="1"/><circle cx="510.3" cy="94.2" r="1"/><circle cx="507.9" cy="95.1" r="1"/><circle cx="505.7" cy="97.9" r="1"/><circle cx="507.5" cy="93.5" r="1"/><circle cx="508.9" cy="99.7" r="1"/><circle cx="506.3" cy="93.1" r="1"/><circle cx="507.1" cy="93.3" r="1"/><circle cx="505.7" cy="91.6" r="1"/><circle cx="507.8" cy="96.6" r="1"/><circle cx="507.4" cy="94.4" r="1"/><circle cx="508.7" cy="93.6" r="1"/><circle cx="509.2" cy="92.6" r="1"/><circle cx="510" cy="92.5" r="1"/><circle cx="508.4" cy="90.2" r="1"/><circle cx="506.4" cy="96.2" r="1"/><circle cx="507.6" cy="96.9" r="1"/><circle cx="506.3" cy="97.4" r="1"/><circle cx="508.7" cy="95.4" r="1"/><circle cx="509.1" cy="98" r="1"/><circle cx="509.6" cy="96.6" r="1"/><circle cx="509.6" cy="98.2" r="1"/><circle cx="505.3" cy="94.5" r="1"/><circle cx="509" cy="93.6" r="1"/><circle cx="507" cy="98.5" r="1"/><circle cx="509" cy="93.9" r="1"/><circle cx="505.3" cy="100.3" r="1"/><circle cx="506.4" cy="94.6" r="1"/><circle cx="509.9" cy="93" r="1"/><circle cx="505.6" cy="95.3" r="1"/><circle cx="505.4" cy="100" r="1"/><circle cx="505.9" cy="99.5" r="1"/><circle cx="508.6" cy="93.2" r="1"/><circle cx="508.4" cy="86.7" r="1"/><circle cx="505.2" cy="98.9" r="1"/><circle cx="517.7" cy="101.4" r="1"/><circle cx="518.7" cy="100" r="1"/><circle cx="516.5" cy="90.8" r="1"/><circle cx="514.5" cy="93.1" r="1"/><circle cx="517.2" cy="93.8" r="1"/><circle cx="517.6" cy="97.1" r="1"/><circle cx="515.6" cy="90.5" r="1"/><circle cx="516.6" cy="94.7" r="1"/><circle cx="516.3" cy="100.5" r="1"/><circle cx="514.6" cy="95.9" r="1"/><circle cx="516.2" cy="94.6" r="1"/><circle cx="516.5" cy="93.5" r="1"/><circle cx="517.1" cy="103.8" r="1"/><circle cx="518" cy="103.4" r="1"/><circle cx="516.6" cy="97" r="1"/><circle cx="519.6" cy="90.2" r="1"/><circle cx="518.9" cy="94.1" r="1"/><circle cx="518.3" cy="106.4" r="1"/><circle cx="518.1" cy="100.5" r="1"/><circle cx="518.1" cy="95.3" r="1"/><circle cx="517.4" cy="96.9" r="1"/><circle cx="518.8" cy="96.9" r="1"/><circle cx="516.4" cy="92.9" r="1"/><circle cx="517.7" cy="96.9" r="1"/><circle cx="518.1" cy="92.6" r="1"/><circle cx="517.3" cy="92.7" r="1"/><circle cx="516.1" cy="98.4" r="1"/><circle cx="514.9" cy="94.3" r="1"/><circle cx="515.1" cy="89.4" r="1"/><circle cx="516.4" cy="90.5" r="1"/><circle cx="517.6" cy="99.7" r="1"/><circle cx="518.4" cy="101" r="1"/><circle cx="518.3" cy="90" r="1"/><circle cx="516.1" cy="96.7" r="1"/><circle cx="519.4" cy="92.1" r="1"/><circle cx="516" cy="99.1" r="1"/><circle cx="518.3" cy="95.5" r="1"/><circle cx="515.1" cy="101" r="1"/><circle cx="518.5" cy="95.4" r="1"/><circle cx="518.1" cy="96" r="1"/><circle cx="519.6" cy="93.3" r="1"/><circle cx="519.3" cy="92.2" r="1"/><circle cx="518.1" cy="89.2" r="1"/><circle cx="519" cy="95.6" r="1"/><circle cx="518.4" cy="97.2" r="1"/><circle cx="517.8" cy="94.7" r="1"/><circle cx="515.7" cy="98.9" r="1"/><circle cx="517.3" cy="88.8" r="1"/><circle cx="519.3" cy="94.7" r="1"/><circle cx="515.8" cy="94.9" r="1"/><circle cx="519.7" cy="97.6" r="1"/><circle cx="517.4" cy="92.8" r="1"/><circle cx="516.6" cy="93.4" r="1"/><circle cx="514.6" cy="90.4" r="1"/><circle cx="516.6" cy="91.6" r="1"/><circle cx="515.4" cy="95.4" r="1"/><circle cx="518" cy="96.4" r="1"/><circle cx="519.2" cy="91" r="1"/><circle cx="518.9" cy="86.6" r="1"/><circle cx="517.8" cy="93.9" r="1"/><circle cx="516.6" cy="95.7" r="1"/><circle cx="515.2" cy="90.2" r="1"/><circle cx="518.2" cy="97.8" r="1"/><circle cx="517.4" cy="86.5" r="1"/><circle cx="518.2" cy="89.3" r="1"/><circle cx="516.7" cy="85.8" r="1"/><circle cx="519.1" cy="99.8" r="1"/><circle cx="515.6" cy="96.8" r="1"/><circle cx="516.1" cy="93.1" r="1"/><circle cx="515.9" cy="96.8" r="1"/><circle cx="517.8" cy="95" r="1"/><circle cx="519.2" cy="99.3" r="1"/><circle cx="526.5" cy="86.8" r="1"/><circle cx="525.3" cy="90.8" r="1"/><circle cx="529.1" cy="98.9" r="1"/><circle cx="525.6" cy="89.3" r="1"/><circle cx="527.9" cy="90.2" r="1"/><circle cx="524.9" cy="96.2" r="1"/><circle cx="528.2" cy="85.1" r="1"/><circle cx="527" cy="92.4" r="1"/><circle cx="526.4" cy="92.9" r="1"/><circle cx="525.1" cy="97.2" r="1"/><circle cx="527.9" cy="85.4" r="1"/><circle cx="528.3" cy="87.3" r="1"/><circle cx="525.4" cy="94.4" r="1"/><circle cx="526.5" cy="95" r="1"/><circle cx="524.9" cy="98" r="1"/><circle cx="524.6" cy="97.6" r="1"/><circle cx="528.4" cy="91.9" r="1"/><circle cx="524.8" cy="92.4" r="1"/><circle cx="528.4" cy="96.1" r="1"/><circle cx="524.5" cy="99.3" r="1"/><circle cx="527.1" cy="90.1" r="1"/><circle cx="528.9" cy="88.9" r="1"/><circle cx="528.7" cy="93.8" r="1"/><circle cx="524.5" cy="92.5" r="1"/><circle cx="528.5" cy="86.1" r="1"/><circle cx="525.1" cy="94.8" r="1"/><circle cx="528.3" cy="97.6" r="1"/><circle cx="524.1" cy="93" r="1"/><circle cx="526.8" cy="97.6" r="1"/><circle cx="528.9" cy="89.1" r="1"/><circle cx="527.3" cy="96.7" r="1"/><circle cx="528.6" cy="92.7" r="1"/><circle cx="526.6" cy="91.4" r="1"/><circle cx="524.9" cy="86.4" r="1"/><circle cx="524.9" cy="92.1" r="1"/><circle cx="528.2" cy="94.3" r="1"/><circle cx="526.7" cy="94.9" r="1"/><circle cx="528.6" cy="96.3" r="1"/><circle cx="529.1" cy="96" r="1"/><circle cx="527.6" cy="95.3" r="1"/><circle cx="527.4" cy="92.5" r="1"/><circle cx="527.2" cy="92.7" r="1"/><circle cx="525.2" cy="94.4" r="1"/><circle cx="526.4" cy="87.2" r="1"/><circle cx="527.9" cy="97.1" r="1"/><circle cx="528.1" cy="87.1" r="1"/><circle cx="528.5" cy="91.8" r="1"/><circle cx="526.5" cy="84.8" r="1"/><circle cx="528.6" cy="99.7" r="1"/><circle cx="524.1" cy="92.4" r="1"/><circle cx="528.4" cy="95.9" r="1"/><circle cx="524.9" cy="93.6" r="1"/><circle cx="525.9" cy="95.2" r="1"/><circle cx="525.7" cy="94.9" r="1"/><circle cx="525.1" cy="95.1" r="1"/><circle cx="528.4" cy="97.9" r="1"/><circle cx="524.8" cy="87.9" r="1"/><circle cx="526" cy="95.6" r="1"/><circle cx="526.2" cy="93.9" r="1"/><circle cx="525.1" cy="92.3" r="1"/><circle cx="524.9" cy="89.7" r="1"/><circle cx="526" cy="97" r="1"/><circle cx="524.1" cy="92.5" r="1"/><circle cx="527.5" cy="95.5" r="1"/><circle cx="528.1" cy="90.7" r="1"/><circle cx="528.1" cy="91.7" r="1"/><circle cx="524.5" cy="92" r="1"/><circle cx="527.7" cy="89.5" r="1"/><circle cx="525.6" cy="103.8" r="1"/><circle cx="526.3" cy="91.7" r="1"/><circle cx="525.2" cy="100.4" r="1"/><circle cx="527.5" cy="97.1" r="1"/><circle cx="533.9" cy="89.3" r="1"/><circle cx="535" cy="95.9" r="1"/><circle cx="534.6" cy="98.5" r="1"/><circle cx="537.9" cy="96.6" r="1"/><circle cx="537.4" cy="93.9" r="1"/><circle cx="536.8" cy="93.9" r="1"/><circle cx="538.3" cy="95.2" r="1"/><circle cx="538.5" cy="92.6" r="1"/><circle cx="538" cy="99.2" r="1"/><circle cx="536.8" cy="99.6" r="1"/><circle cx="536.7" cy="92.8" r="1"/><circle cx="538.4" cy="97.3" r="1"/><circle cx="535.5" cy="91.7" r="1"/><circle cx="534.7" cy="104.2" r="1"/><circle cx="536.1" cy="99.2" r="1"/><circle cx="537.3" cy="90.7" r="1"/><circle cx="536.9" cy="94" r="1"/><circle cx="537.2" cy="96.7" r="1"/><circle cx="537.1" cy="91.2" r="1"/><circle cx="533.8" cy="96.9" r="1"/><circle cx="535.9" cy="99.5" r="1"/><circle cx="535.8" cy="91.1" r="1"/><circle cx="536.4" cy="85.4" r="1"/><circle cx="536" cy="97.8" r="1"/><circle cx="536.7" cy="97" r="1"/><circle cx="536.5" cy="93.9" r="1"/><circle cx="537.4" cy="95.2" r="1"/><circle cx="537.4" cy="94.6" r="1"/><circle cx="537.5" cy="91.8" r="1"/><circle cx="536.8" cy="96.8" r="1"/><circle cx="533.8" cy="93.6" r="1"/><circle cx="537.5" cy="93.1" r="1"/><circle cx="535.3" cy="97.7" r="1"/><circle cx="536.4" cy="94.8" r="1"/><circle cx="536.5" cy="95.3" r="1"/><circle cx="537.9" cy="102" r="1"/><circle cx="538.8" cy="94.8" r="1"/><circle cx="537.2" cy="98.5" r="1"/><circle cx="535.1" cy="95.6" r="1"/><circle cx="535.8" cy="91.2" r="1"/><circle cx="535.3" cy="91" r="1"/><circle cx="536.1" cy="85.2" r="1"/><circle cx="535.2" cy="95.5" r="1"/><circle cx="538.2" cy="88.5" r="1"/><circle cx="535.4" cy="92.4" r="1"/><circle cx="537.2" cy="95.3" r="1"/><circle cx="536.3" cy="101.9" r="1"/><circle cx="535.7" cy="101.7" r="1"/><circle cx="537.1" cy="91" r="1"/><circle cx="538.7" cy="92.9" r="1"/><circle cx="535.4" cy="88.9" r="1"/><circle cx="536.9" cy="91.3" r="1"/><circle cx="536.1" cy="90.9" r="1"/><circle cx="534.5" cy="97.4" r="1"/><circle cx="538.9" cy="98.1" r="1"/><circle cx="537" cy="89.2" r="1"/><circle cx="536" cy="91.6" r="1"/><circle cx="536.4" cy="88.2" r="1"/><circle cx="535.8" cy="97.6" r="1"/><circle cx="534.7" cy="95.6" r="1"/><circle cx="538.5" cy="92.9" r="1"/><circle cx="534.5" cy="93" r="1"/><circle cx="536.3" cy="85.7" r="1"/><circle cx="538.7" cy="93.7" r="1"/><circle cx="535.5" cy="91.1" r="1"/><circle cx="533.8" cy="98" r="1"/><circle cx="536" cy="92.8" r="1"/><circle cx="536.7" cy="94.9" r="1"/><circle cx="536.3" cy="100.6" r="1"/><circle cx="538.7" cy="94.6" r="1"/><circle cx="534.8" cy="93.2" r="1"/><circle cx="534.9" cy="93.9" r="1"/><circle cx="546.6" cy="90.1" r="1"/><circle cx="547.1" cy="92.8" r="1"/><circle cx="544.6" cy="91.1" r="1"/><circle cx="545.7" cy="101.5" r="1"/><circle cx="546.8" cy="96.2" r="1"/><circle cx="547.4" cy="99.9" r="1"/><circle cx="545.8" cy="98.1" r="1"/><circle cx="544.8" cy="88.5" r="1"/><circle cx="547.7" cy="85.3" r="1"/><circle cx="546.6" cy="95" r="1"/><circle cx="546.8" cy="103.2" r="1"/><circle cx="546.1" cy="99.6" r="1"/><circle cx="546.2" cy="93.2" r="1"/><circle cx="544.3" cy="91.6" r="1"/><circle cx="543.7" cy="103.7" r="1"/><circle cx="546.3" cy="100.8" r="1"/><circle cx="545.8" cy="92.1" r="1"/><circle cx="547.5" cy="103.6" r="1"/><circle cx="547.8" cy="98.5" r="1"/><circle cx="546" cy="103.1" r="1"/><circle cx="546.4" cy="90.8" r="1"/><circle cx="546.4" cy="93.3" r="1"/><circle cx="543.6" cy="89.3" r="1"/><circle cx="544.9" cy="102.6" r="1"/><circle cx="546" cy="103.3" r="1"/><circle cx="544.8" cy="100.8" r="1"/><circle cx="545.2" cy="97.9" r="1"/><circle cx="547.3" cy="90.9" r="1"/><circle cx="544.7" cy="92.8" r="1"/><circle cx="544.3" cy="99.2" r="1"/><circle cx="548.2" cy="100.1" r="1"/><circle cx="543.4" cy="94.2" r="1"/><circle cx="545.8" cy="96.2" r="1"/><circle cx="544" cy="95.1" r="1"/><circle cx="548.4" cy="96.7" r="1"/><circle cx="545.4" cy="94.8" r="1"/><circle cx="544.7" cy="93" r="1"/><circle cx="547.1" cy="82" r="1"/><circle cx="546.4" cy="88.9" r="1"/><circle cx="545.7" cy="97.7" r="1"/><circle cx="548" cy="99.6" r="1"/><circle cx="546" cy="96.8" r="1"/><circle cx="545" cy="100.8" r="1"/><circle cx="546.9" cy="91.5" r="1"/><circle cx="547.4" cy="89.2" r="1"/><circle cx="543.5" cy="87.2" r="1"/><circle cx="546.3" cy="91.8" r="1"/><circle cx="546.7" cy="99.1" r="1"/><circle cx="546.1" cy="99.2" r="1"/><circle cx="545.8" cy="96.8" r="1"/><circle cx="545.7" cy="96.3" r="1"/><circle cx="545.2" cy="98" r="1"/><circle cx="544.4" cy="92.3" r="1"/><circle cx="543.2" cy="92.5" r="1"/><circle cx="548.3" cy="89.4" r="1"/><circle cx="547.1" cy="87.2" r="1"/><circle cx="544.1" cy="92.1" r="1"/><circle cx="544.1" cy="96.1" r="1"/><circle cx="545.9" cy="92" r="1"/><circle cx="546.7" cy="100.1" r="1"/><circle cx="545.3" cy="94.9" r="1"/><circle cx="543.7" cy="92.7" r="1"/><circle cx="545.5" cy="106.1" r="1"/><circle cx="547.4" cy="83.3" r="1"/><circle cx="546.6" cy="99.8" r="1"/><circle cx="548" cy="100.4" r="1"/><circle cx="544.3" cy="95.8" r="1"/><circle cx="544.5" cy="97.6" r="1"/><circle cx="543.7" cy="100.8" r="1"/><circle cx="548.1" cy="88.1" r="1"/><circle cx="545.2" cy="98.6" r="1"/><circle cx="546.3" cy="96.3" r="1"/><circle cx="556.5" cy="97.7" r="1"/><circle cx="555.3" cy="87" r="1"/><circle cx="557.2" cy="93.4" r="1"/><circle cx="556.8" cy="85" r="1"/><circle cx="556.7" cy="94.6" r="1"/><circle cx="557.5" cy="94.8" r="1"/><circle cx="555.4" cy="90.1" r="1"/><circle cx="554.7" cy="97.3" r="1"/><circle cx="558.1" cy="96" r="1"/><circle cx="556.6" cy="97.8" r="1"/><circle cx="554.8" cy="99.6" r="1"/><circle cx="557" cy="103.7" r="1"/><circle cx="554.3" cy="99.2" r="1"/><circle cx="555.8" cy="91.7" r="1"/><circle cx="557.5" cy="94.4" r="1"/><circle cx="554.5" cy="96.7" r="1"/><circle cx="558" cy="95.8" r="1"/><circle cx="555.1" cy="87.6" r="1"/><circle cx="554.9" cy="90.8" r="1"/><circle cx="555.8" cy="91.4" r="1"/><circle cx="557.8" cy="90.1" r="1"/><circle cx="553" cy="90.5" r="1"/><circle cx="555.4" cy="102.7" r="1"/><circle cx="553.5" cy="89.8" r="1"/><circle cx="555.5" cy="96.8" r="1"/><circle cx="556.7" cy="101.5" r="1"/><circle cx="555.4" cy="89.6" r="1"/><circle cx="553.2" cy="96.8" r="1"/><circle cx="556.1" cy="102.1" r="1"/><circle cx="554.5" cy="93.4" r="1"/><circle cx="553.2" cy="96.7" r="1"/><circle cx="554.6" cy="100.5" r="1"/><circle cx="553.7" cy="97.1" r="1"/><circle cx="554.7" cy="93" r="1"/><circle cx="556.9" cy="93.9" r="1"/><circle cx="553" cy="95.7" r="1"/><circle cx="556.1" cy="97.8" r="1"/><circle cx="557" cy="96" r="1"/><circle cx="557.7" cy="98.2" r="1"/><circle cx="557.5" cy="91.5" r="1"/><circle cx="556.9" cy="95.2" r="1"/><circle cx="557.4" cy="92.6" r="1"/><circle cx="556.4" cy="92.6" r="1"/><circle cx="553.2" cy="96.9" r="1"/><circle cx="555.4" cy="101.8" r="1"/><circle cx="557.1" cy="102.4" r="1"/><circle cx="554.2" cy="102.2" r="1"/><circle cx="554.8" cy="104.6" r="1"/><circle cx="555" cy="94" r="1"/><circle cx="556" cy="100.6" r="1"/><circle cx="555.8" cy="97.1" r="1"/><circle cx="557.6" cy="101.8" r="1"/><circle cx="555.5" cy="96.9" r="1"/><circle cx="557.4" cy="91.7" r="1"/><circle cx="557.2" cy="97.8" r="1"/><circle cx="555.9" cy="96.8" r="1"/><circle cx="553.6" cy="87.2" r="1"/><circle cx="554.8" cy="99" r="1"/><circle cx="555" cy="99.5" r="1"/><circle cx="554.2" cy="85.8" r="1"/><circle cx="556" cy="86.6" r="1"/><circle cx="555.1" cy="91.6" r="1"/><circle cx="558.1" cy="94.2" r="1"/><circle cx="557.1" cy="87.2" r="1"/><circle cx="554.7" cy="96.7" r="1"/><circle cx="553.6" cy="100.9" r="1"/><circle cx="554.5" cy="92.9" r="1"/><circle cx="556.7" cy="85.5" r="1"/><circle cx="555.4" cy="103.4" r="1"/><circle cx="553" cy="97.4" r="1"/><circle cx="557.9" cy="97.7" r="1"/><circle cx="556.5" cy="94.4" r="1"/><circle cx="566.6" cy="93.5" r="1"/><circle cx="563.6" cy="100.6" r="1"/><circle cx="564.8" cy="100.2" r="1"/><circle cx="562.6" cy="91.6" r="1"/><circle cx="563" cy="93.3" r="1"/><circle cx="563.4" cy="95.3" r="1"/><circle cx="566.9" cy="85.3" r="1"/><circle cx="564" cy="94.8" r="1"/><circle cx="563.7" cy="92.7" r="1"/><circle cx="562.7" cy="97.2" r="1"/><circle cx="562.9" cy="94" r="1"/><circle cx="566.7" cy="84.1" r="1"/><circle cx="566.3" cy="96.8" r="1"/><circle cx="567.3" cy="96.8" r="1"/><circle cx="566.8" cy="94.9" r="1"/><circle cx="566.5" cy="96.7" r="1"/><circle cx="563.7" cy="96.7" r="1"/><circle cx="563.3" cy="90.5" r="1"/><circle cx="563.8" cy="97.7" r="1"/><circle cx="562.7" cy="94.6" r="1"/><circle cx="563.3" cy="98.2" r="1"/><circle cx="566.2" cy="95.7" r="1"/><circle cx="565" cy="93.3" r="1"/><circle cx="562.6" cy="101.5" r="1"/><circle cx="564.1" cy="89" r="1"/><circle cx="566.8" cy="91.4" r="1"/><circle cx="566.3" cy="106.2" r="1"/><circle cx="566.2" cy="98.8" r="1"/><circle cx="566.3" cy="94.4" r="1"/><circle cx="567.2" cy="99.5" r="1"/><circle cx="565.3" cy="92.2" r="1"/><circle cx="564.4" cy="97" r="1"/><circle cx="565.4" cy="91.7" r="1"/><circle cx="563.9" cy="97.2" r="1"/><circle cx="562.5" cy="93.4" r="1"/><circle cx="563.8" cy="89.8" r="1"/><circle cx="564.8" cy="101.9" r="1"/><circle cx="563" cy="95.4" r="1"/><circle cx="562.9" cy="91.1" r="1"/><circle cx="563.7" cy="98.9" r="1"/><circle cx="564.3" cy="94.1" r="1"/><circle cx="567.5" cy="95.8" r="1"/><circle cx="565" cy="84.4" r="1"/><circle cx="565.9" cy="108" r="1"/><circle cx="566.3" cy="96.7" r="1"/><circle cx="565.5" cy="93.8" r="1"/><circle cx="564.1" cy="91.8" r="1"/><circle cx="564.4" cy="97" r="1"/><circle cx="564.1" cy="99.5" r="1"/><circle cx="565.7" cy="93.3" r="1"/><circle cx="566.9" cy="93.8" r="1"/><circle cx="566.6" cy="93.7" r="1"/><circle cx="564" cy="91.1" r="1"/><circle cx="563.2" cy="98.6" r="1"/><circle cx="562.4" cy="95.2" r="1"/><circle cx="565.5" cy="98.3" r="1"/><circle cx="563.6" cy="97.4" r="1"/><circle cx="562.6" cy="89.6" r="1"/><circle cx="564" cy="93.5" r="1"/><circle cx="563.6" cy="97.9" r="1"/><circle cx="563.4" cy="96.2" r="1"/><circle cx="565.9" cy="95.4" r="1"/><circle cx="565.5" cy="93.8" r="1"/><circle cx="563.9" cy="91.6" r="1"/><circle cx="566.3" cy="96.5" r="1"/><circle cx="563.5" cy="98.2" r="1"/><circle cx="567.2" cy="100.6" r="1"/><circle cx="563" cy="92.3" r="1"/><circle cx="565.5" cy="99.1" r="1"/><circle cx="566.1" cy="98.8" r="1"/><circle cx="566.3" cy="96.6" r="1"/><circle cx="565" cy="98.6" r="1"/><circle cx="572.7" cy="94.5" r="1"/><circle cx="572.6" cy="93.7" r="1"/><circle cx="574.3" cy="96.5" r="1"/><circle cx="574.4" cy="98.6" r="1"/><circle cx="575.4" cy="93.6" r="1"/><circle cx="572" cy="94.6" r="1"/><circle cx="575.5" cy="94.9" r="1"/><circle cx="572.1" cy="91.9" r="1"/><circle cx="575.5" cy="90.9" r="1"/><circle cx="575.6" cy="95.7" r="1"/><circle cx="572.7" cy="96.6" r="1"/><circle cx="572.6" cy="92.6" r="1"/><circle cx="572.4" cy="90.7" r="1"/><circle cx="576" cy="93.3" r="1"/><circle cx="576.4" cy="93.4" r="1"/><circle cx="574.3" cy="92.6" r="1"/><circle cx="572.9" cy="94.3" r="1"/><circle cx="572.7" cy="98.8" r="1"/><circle cx="572.3" cy="91.1" r="1"/><circle cx="576.1" cy="92.1" r="1"/><circle cx="574.3" cy="97.5" r="1"/><circle cx="577.1" cy="97.8" r="1"/><circle cx="574.7" cy="92.9" r="1"/><circle cx="576" cy="94.2" r="1"/><circle cx="574" cy="101.3" r="1"/><circle cx="573.3" cy="99.8" r="1"/><circle cx="573" cy="99" r="1"/><circle cx="574.7" cy="95.6" r="1"/><circle cx="576.5" cy="94.8" r="1"/><circle cx="576.7" cy="95.9" r="1"/><circle cx="573.6" cy="94.8" r="1"/><circle cx="576" cy="97.1" r="1"/><circle cx="574.9" cy="88.9" r="1"/><circle cx="572.3" cy="99.4" r="1"/><circle cx="577.1" cy="97.8" r="1"/><circle cx="573" cy="96.6" r="1"/><circle cx="574.8" cy="93.4" r="1"/><circle cx="573.4" cy="90.5" r="1"/><circle cx="577" cy="97.5" r="1"/><circle cx="573.1" cy="95.4" r="1"/><circle cx="575.5" cy="93.6" r="1"/><circle cx="574.4" cy="102.2" r="1"/><circle cx="572.3" cy="92.6" r="1"/><circle cx="574.6" cy="96" r="1"/><circle cx="576.6" cy="91.1" r="1"/><circle cx="573.2" cy="95.5" r="1"/><circle cx="574.2" cy="98" r="1"/><circle cx="573.2" cy="99.1" r="1"/><circle cx="574.2" cy="94.3" r="1"/><circle cx="573.7" cy="91.2" r="1"/><circle cx="575.8" cy="89.3" r="1"/><circle cx="573.2" cy="93.7" r="1"/><circle cx="573.6" cy="99.6" r="1"/><circle cx="573.2" cy="93.8" r="1"/><circle cx="576.6" cy="98.9" r="1"/><circle cx="576" cy="96.2" r="1"/><circle cx="577.2" cy="93.4" r="1"/><circle cx="572.5" cy="92.4" r="1"/><circle cx="574.9" cy="93.7" r="1"/><circle cx="573.3" cy="92" r="1"/><circle cx="574.7" cy="91.5" r="1"/><circle cx="575.2" cy="91.9" r="1"/><circle cx="572.3" cy="91.3" r="1"/><circle cx="575.2" cy="88.2" r="1"/><circle cx="576.5" cy="93.6" r="1"/><circle cx="572.8" cy="89.8" r="1"/><circle cx="573.5" cy="94.3" r="1"/><circle cx="572.7" cy="92.7" r="1"/><circle cx="576.7" cy="91.4" r="1"/><circle cx="573.2" cy="91.9" r="1"/><circle cx="573.8" cy="100.4" r="1"/><circle cx="572.9" cy="97.2" r="1"/><circle cx="584.2" cy="93.1" r="1"/><circle cx="585" cy="96.8" r="1"/><circle cx="583.5" cy="98.4" r="1"/><circle cx="583.2" cy="89.5" r="1"/><circle cx="584.3" cy="93.3" r="1"/><circle cx="585.5" cy="96.5" r="1"/><circle cx="583.5" cy="98.9" r="1"/><circle cx="585.7" cy="97.7" r="1"/><circle cx="586" cy="92.4" r="1"/><circle cx="583.5" cy="94" r="1"/><circle cx="583.7" cy="93.7" r="1"/><circle cx="584.6" cy="87.7" r="1"/><circle cx="583.8" cy="86.1" r="1"/><circle cx="585.5" cy="105.5" r="1"/><circle cx="582.7" cy="97.9" r="1"/><circle cx="582.5" cy="91.9" r="1"/><circle cx="584.8" cy="82.4" r="1"/><circle cx="586.3" cy="100.4" r="1"/><circle cx="583.4" cy="101.2" r="1"/><circle cx="581.7" cy="95.4" r="1"/><circle cx="585.7" cy="93.9" r="1"/><circle cx="585.2" cy="82" r="1"/><circle cx="583.8" cy="100.3" r="1"/><circle cx="584.3" cy="98.8" r="1"/><circle cx="584.8" cy="109.8" r="1"/><circle cx="585" cy="102.5" r="1"/><circle cx="582.2" cy="100.5" r="1"/><circle cx="586.7" cy="99.6" r="1"/><circle cx="583.5" cy="91.1" r="1"/><circle cx="583.6" cy="90.1" r="1"/><circle cx="584.5" cy="92.4" r="1"/><circle cx="583.5" cy="97.3" r="1"/><circle cx="583.2" cy="92.2" r="1"/><circle cx="582.8" cy="89.7" r="1"/><circle cx="582.4" cy="91.5" r="1"/><circle cx="583.3" cy="94.6" r="1"/><circle cx="586" cy="94.8" r="1"/><circle cx="583.1" cy="93.9" r="1"/><circle cx="583.3" cy="91" r="1"/><circle cx="582.8" cy="91.4" r="1"/><circle cx="586.1" cy="100.9" r="1"/><circle cx="586.3" cy="93.6" r="1"/><circle cx="585.1" cy="84.5" r="1"/><circle cx="583.3" cy="90.8" r="1"/><circle cx="582" cy="98.5" r="1"/><circle cx="584.1" cy="92.8" r="1"/><circle cx="586.7" cy="96" r="1"/><circle cx="582.1" cy="101.2" r="1"/><circle cx="582.3" cy="95" r="1"/><circle cx="583.3" cy="99.3" r="1"/><circle cx="584.9" cy="84.6" r="1"/><circle cx="585.3" cy="85.9" r="1"/><circle cx="583.3" cy="82" r="1"/><circle cx="582.6" cy="90.4" r="1"/><circle cx="583.7" cy="87.8" r="1"/><circle cx="586.7" cy="98.3" r="1"/><circle cx="582.9" cy="93.3" r="1"/><circle cx="584.9" cy="95.4" r="1"/><circle cx="586.3" cy="96.9" r="1"/><circle cx="581.7" cy="98.5" r="1"/><circle cx="585.3" cy="84.4" r="1"/><circle cx="584.7" cy="93.9" r="1"/><circle cx="582.1" cy="98" r="1"/><circle cx="585.5" cy="99.1" r="1"/><circle cx="584.2" cy="91.5" r="1"/><circle cx="585.1" cy="86.6" r="1"/><circle cx="584.5" cy="91.7" r="1"/><circle cx="585.2" cy="96.7" r="1"/><circle cx="584.8" cy="108.3" r="1"/><circle cx="585.9" cy="90.3" r="1"/><circle cx="586.1" cy="90.9" r="1"/><circle cx="584.5" cy="89.5" r="1"/><circle cx="593" cy="99.4" r="1"/><circle cx="595" cy="98.9" r="1"/><circle cx="594.7" cy="91.9" r="1"/><circle cx="593.4" cy="89.4" r="1"/><circle cx="595.7" cy="91.1" r="1"/><circle cx="592.6" cy="84.2" r="1"/><circle cx="593.9" cy="92.8" r="1"/><circle cx="595.4" cy="101.5" r="1"/><circle cx="595.8" cy="96.7" r="1"/><circle cx="592.2" cy="99.6" r="1"/><circle cx="595.3" cy="98.6" r="1"/><circle cx="593.9" cy="100.4" r="1"/><circle cx="594.4" cy="83" r="1"/><circle cx="592.8" cy="96.9" r="1"/><circle cx="594.6" cy="91.8" r="1"/><circle cx="594.5" cy="98.3" r="1"/><circle cx="596.4" cy="94.8" r="1"/><circle cx="592.9" cy="91.9" r="1"/><circle cx="593.2" cy="98.9" r="1"/><circle cx="591.7" cy="96.3" r="1"/><circle cx="594.7" cy="90.9" r="1"/><circle cx="591.5" cy="99" r="1"/><circle cx="595.6" cy="96" r="1"/><circle cx="591.9" cy="92.4" r="1"/><circle cx="592.1" cy="97.2" r="1"/><circle cx="595.7" cy="88.1" r="1"/><circle cx="593.7" cy="97.2" r="1"/><circle cx="595.1" cy="96.5" r="1"/><circle cx="593" cy="90.4" r="1"/><circle cx="592.4" cy="98.9" r="1"/><circle cx="593" cy="98.6" r="1"/><circle cx="596.3" cy="98" r="1"/><circle cx="592.3" cy="101.3" r="1"/><circle cx="595.6" cy="102" r="1"/><circle cx="595.6" cy="101.1" r="1"/><circle cx="594.7" cy="96.8" r="1"/><circle cx="592.5" cy="92.8" r="1"/><circle cx="594.8" cy="101.1" r="1"/><circle cx="595.9" cy="95.1" r="1"/><circle cx="594.1" cy="103.7" r="1"/><circle cx="592.5" cy="103" r="1"/><circle cx="594.3" cy="95.1" r="1"/><circle cx="596.2" cy="93.6" r="1"/><circle cx="594.2" cy="93.5" r="1"/><circle cx="592.1" cy="101.8" r="1"/><circle cx="592.1" cy="93.3" r="1"/><circle cx="594.2" cy="86.3" r="1"/><circle cx="591.3" cy="95.7" r="1"/><circle cx="591.1" cy="98.7" r="1"/><circle cx="593.1" cy="96.9" r="1"/><circle cx="592.5" cy="91.5" r="1"/><circle cx="593.7" cy="91.5" r="1"/><circle cx="591.4" cy="95.6" r="1"/><circle cx="594.1" cy="96.9" r="1"/><circle cx="594.6" cy="99.1" r="1"/><circle cx="592.8" cy="98.4" r="1"/><circle cx="594.1" cy="103.7" r="1"/><circle cx="593.9" cy="99.9" r="1"/><circle cx="595.3" cy="93.9" r="1"/><circle cx="594.1" cy="96.1" r="1"/><circle cx="594.5" cy="95.5" r="1"/><circle cx="594.1" cy="93.6" r="1"/><circle cx="595.4" cy="92.6" r="1"/><circle cx="591.6" cy="95.2" r="1"/><circle cx="591.8" cy="90.5" r="1"/><circle cx="595.6" cy="91.6" r="1"/><circle cx="595.1" cy="87.7" r="1"/><circle cx="591.2" cy="91.1" r="1"/><circle cx="595.7" cy="90.5" r="1"/><circle cx="594.3" cy="95.4" r="1"/><circle cx="595.6" cy="97.3" r="1"/><circle cx="594.8" cy="97" r="1"/><circle cx="602.1" cy="91.4" r="1"/><circle cx="602.6" cy="93.1" r="1"/><circle cx="603.1" cy="89.6" r="1"/><circle cx="605.3" cy="102.6" r="1"/><circle cx="604.3" cy="97.8" r="1"/><circle cx="604.3" cy="101.1" r="1"/><circle cx="603.9" cy="93.1" r="1"/><circle cx="603.1" cy="97.3" r="1"/><circle cx="603.3" cy="92.3" r="1"/><circle cx="603.6" cy="96.7" r="1"/><circle cx="603.8" cy="102.1" r="1"/><circle cx="604.2" cy="91.2" r="1"/><circle cx="603.2" cy="99.4" r="1"/><circle cx="605.7" cy="90.7" r="1"/><circle cx="605.9" cy="102" r="1"/><circle cx="605.9" cy="90.1" r="1"/><circle cx="605.7" cy="91.6" r="1"/><circle cx="600.9" cy="98.9" r="1"/><circle cx="602.4" cy="91.4" r="1"/><circle cx="603.6" cy="98.9" r="1"/><circle cx="602" cy="99.3" r="1"/><circle cx="602" cy="98.7" r="1"/><circle cx="601.4" cy="101.8" r="1"/><circle cx="601.4" cy="91.1" r="1"/><circle cx="604.6" cy="100.3" r="1"/><circle cx="601.7" cy="88.7" r="1"/><circle cx="603.9" cy="92.3" r="1"/><circle cx="601.4" cy="102.8" r="1"/><circle cx="605.1" cy="97.9" r="1"/><circle cx="604.1" cy="98.8" r="1"/><circle cx="605.3" cy="90.4" r="1"/><circle cx="604.5" cy="96.2" r="1"/><circle cx="604.5" cy="86" r="1"/><circle cx="602" cy="93.3" r="1"/><circle cx="602.9" cy="95.7" r="1"/><circle cx="602.7" cy="85.8" r="1"/><circle cx="603" cy="101.7" r="1"/><circle cx="604.9" cy="91.1" r="1"/><circle cx="601.1" cy="89.1" r="1"/><circle cx="601.8" cy="103.8" r="1"/><circle cx="603.7" cy="86.2" r="1"/><circle cx="604.8" cy="86.2" r="1"/><circle cx="601.9" cy="92.3" r="1"/><circle cx="601.9" cy="95" r="1"/><circle cx="615.1" cy="87.6" r="1"/><circle cx="610.7" cy="101.8" r="1"/><circle cx="611" cy="89.5" r="1"/><circle cx="615.3" cy="92.7" r="1"/><circle cx="615.2" cy="92" r="1"/><circle cx="611" cy="97.5" r="1"/><circle cx="613.8" cy="100.9" r="1"/><circle cx="612.7" cy="91.5" r="1"/><circle cx="611.5" cy="100.1" r="1"/><circle cx="614.2" cy="87" r="1"/><circle cx="614.1" cy="91.6" r="1"/><circle cx="612.3" cy="101.2" r="1"/><circle cx="612.7" cy="100.5" r="1"/><circle cx="612" cy="88.7" r="1"/><circle cx="615.4" cy="91.9" r="1"/><circle cx="614.5" cy="91.3" r="1"/><circle cx="611" cy="88.9" r="1"/><circle cx="613.8" cy="94.9" r="1"/><circle cx="615.2" cy="93.9" r="1"/><circle cx="613.5" cy="88.4" r="1"/><circle cx="612.2" cy="96.4" r="1"/><circle cx="614.8" cy="99.1" r="1"/><circle cx="613.6" cy="95.6" r="1"/><circle cx="615" cy="93.9" r="1"/><circle cx="614.4" cy="99.5" r="1"/><circle cx="611.2" cy="100.3" r="1"/><circle cx="614.5" cy="93.8" r="1"/><circle cx="613.3" cy="92.2" r="1"/><circle cx="612.8" cy="94.3" r="1"/><circle cx="612" cy="100.8" r="1"/><circle cx="613.1" cy="101.3" r="1"/><circle cx="613.1" cy="93.1" r="1"/><circle cx="611.7" cy="89.7" r="1"/><circle cx="611.6" cy="88.7" r="1"/><circle cx="613.5" cy="99.7" r="1"/><circle cx="625.1" cy="98.1" r="1"/><circle cx="620.5" cy="102.1" r="1"/><circle cx="621.1" cy="93.2" r="1"/><circle cx="620.8" cy="94.9" r="1"/><circle cx="620.7" cy="98.3" r="1"/><circle cx="624.7" cy="86.9" r="1"/><circle cx="622.8" cy="89.1" r="1"/><circle cx="622.4" cy="98.6" r="1"/><circle cx="622.4" cy="99" r="1"/><circle cx="624.9" cy="89.1" r="1"/><circle cx="620.4" cy="96.8" r="1"/><circle cx="621" cy="102.6" r="1"/><circle cx="622.9" cy="85.9" r="1"/><circle cx="623.9" cy="89.6" r="1"/><circle cx="623" cy="90.6" r="1"/><circle cx="621.5" cy="99" r="1"/><circle cx="624.7" cy="101.2" r="1"/><circle cx="622.6" cy="88.2" r="1"/><circle cx="619.9" cy="90.1" r="1"/><circle cx="623.2" cy="99.5" r="1"/><circle cx="625" cy="102" r="1"/><circle cx="623.1" cy="96.4" r="1"/><circle cx="622.4" cy="92.7" r="1"/><circle cx="622.2" cy="91.6" r="1"/><circle cx="623.1" cy="102.7" r="1"/><circle cx="623" cy="86.4" r="1"/><circle cx="622.4" cy="101.6" r="1"/><circle cx="624.6" cy="95.1" r="1"/><circle cx="624.5" cy="94.8" r="1"/><circle cx="623.9" cy="84.1" r="1"/><circle cx="623.6" cy="93.8" r="1"/><circle cx="620.8" cy="98.1" r="1"/><circle cx="622.4" cy="86.4" r="1"/><circle cx="621.2" cy="102.1" r="1"/><circle cx="624.8" cy="100.3" r="1"/><circle cx="621" cy="93" r="1"/><circle cx="624.1" cy="88.6" r="1"/><circle cx="624.2" cy="99.1" r="1"/><circle cx="619.9" cy="99" r="1"/><circle cx="620.7" cy="92.6" r="1"/><circle cx="621.7" cy="95.3" r="1"/><circle cx="623" cy="99.2" r="1"/><circle cx="620.6" cy="93.2" r="1"/><circle cx="623.3" cy="89.2" r="1"/><circle cx="633.7" cy="84.5" r="1"/><circle cx="630.4" cy="80.2" r="1"/><circle cx="632.9" cy="99.7" r="1"/><circle cx="630.8" cy="77.4" r="1"/><circle cx="630.5" cy="103" r="1"/><circle cx="631.9" cy="85.7" r="1"/><circle cx="634.4" cy="83.5" r="1"/><circle cx="632.1" cy="80.8" r="1"/><circle cx="631.3" cy="89.3" r="1"/><circle cx="631.8" cy="80.1" r="1"/><circle cx="633.1" cy="93.8" r="1"/><circle cx="631.5" cy="88.9" r="1"/><circle cx="632.4" cy="91.2" r="1"/><circle cx="631.6" cy="95.6" r="1"/><circle cx="633.1" cy="78.6" r="1"/><circle cx="631.2" cy="92.9" r="1"/><circle cx="632.7" cy="85.1" r="1"/><circle cx="630.5" cy="77.6" r="1"/><circle cx="631.9" cy="89.4" r="1"/><circle cx="632" cy="78.9" r="1"/><circle cx="629.4" cy="97.3" r="1"/><circle cx="631.8" cy="103.3" r="1"/><circle cx="633.4" cy="95.4" r="1"/><circle cx="633.6" cy="106.3" r="1"/><circle cx="633.9" cy="89.7" r="1"/><circle cx="633.6" cy="103.1" r="1"/><circle cx="630.4" cy="101.7" r="1"/><circle cx="630.1" cy="108.3" r="1"/><circle cx="633.6" cy="86" r="1"/><circle cx="630.3" cy="99.2" r="1"/><circle cx="630.1" cy="104.3" r="1"/><circle cx="630.5" cy="102.7" r="1"/><circle cx="630.7" cy="110.6" r="1"/><circle cx="632.5" cy="95.2" r="1"/><circle cx="633.1" cy="85.5" r="1"/><circle cx="629.6" cy="82.2" r="1"/><circle cx="632.4" cy="87.4" r="1"/><circle cx="632.3" cy="105.1" r="1"/><circle cx="632.1" cy="104.2" r="1"/><circle cx="633.6" cy="106.2" r="1"/><circle cx="633.7" cy="81.3" r="1"/><circle cx="631.1" cy="99.2" r="1"/><circle cx="629.6" cy="101.6" r="1"/><circle cx="629.5" cy="84.5" r="1"/><circle cx="641.8" cy="90.3" r="1"/><circle cx="643.7" cy="89.8" r="1"/><circle cx="639.9" cy="97.6" r="1"/><circle cx="639.3" cy="88" r="1"/><circle cx="642.6" cy="89.1" r="1"/><circle cx="644.2" cy="92.2" r="1"/><circle cx="639.1" cy="96.3" r="1"/><circle cx="643.5" cy="87.1" r="1"/><circle cx="643.7" cy="92.4" r="1"/><circle cx="639.8" cy="81.5" r="1"/><circle cx="640.8" cy="85.1" r="1"/><circle cx="643.4" cy="92" r="1"/><circle cx="639.2" cy="88.7" r="1"/><circle cx="643.6" cy="94" r="1"/><circle cx="640.8" cy="97.1" r="1"/><circle cx="641" cy="80.5" r="1"/><circle cx="643.1" cy="94.5" r="1"/><circle cx="641.7" cy="93.3" r="1"/><circle cx="639.3" cy="90.6" r="1"/><circle cx="639.9" cy="93.5" r="1"/><circle cx="640.9" cy="87.9" r="1"/><circle cx="640.1" cy="95.1" r="1"/><circle cx="639.4" cy="93.6" r="1"/><circle cx="642" cy="103.4" r="1"/><circle cx="643.4" cy="81.2" r="1"/><circle cx="639.9" cy="86.4" r="1"/><circle cx="643" cy="95" r="1"/><circle cx="643.9" cy="98.5" r="1"/><circle cx="639.3" cy="85.3" r="1"/><circle cx="640.9" cy="86.1" r="1"/><circle cx="639.5" cy="89.5" r="1"/><circle cx="639.1" cy="94.7" r="1"/><circle cx="640.9" cy="87.1" r="1"/><circle cx="644" cy="98.1" r="1"/><circle cx="639.8" cy="101.5" r="1"/><circle cx="643.1" cy="91.2" r="1"/><circle cx="642.8" cy="99.4" r="1"/><circle cx="641.3" cy="83.6" r="1"/><circle cx="643.2" cy="86.6" r="1"/><circle cx="639.2" cy="96.1" r="1"/><circle cx="643" cy="97.8" r="1"/><circle cx="640.4" cy="84.7" r="1"/><circle cx="643.6" cy="89.9" r="1"/><circle cx="642.8" cy="95.3" r="1"/><circle cx="641.9" cy="92.4" r="1"/><circle cx="642" cy="88" r="1"/><circle cx="642.1" cy="92.6" r="1"/><circle cx="643.9" cy="97.5" r="1"/><circle cx="639.1" cy="89.7" r="1"/><circle cx="640" cy="85" r="1"/><circle cx="643.9" cy="100.4" r="1"/><circle cx="643.5" cy="89.9" r="1"/><circle cx="642.2" cy="80.6" r="1"/><circle cx="639.8" cy="94.3" r="1"/><circle cx="643.8" cy="98.2" r="1"/><circle cx="642.9" cy="99.1" r="1"/><circle cx="643.5" cy="98.4" r="1"/><circle cx="640" cy="92.6" r="1"/><circle cx="642.6" cy="94.7" r="1"/><circle cx="639.9" cy="95.4" r="1"/><circle cx="643.7" cy="102.6" r="1"/><circle cx="640.3" cy="94.7" r="1"/><circle cx="643" cy="83.5" r="1"/><circle cx="641" cy="98.8" r="1"/><circle cx="641.4" cy="93.7" r="1"/><circle cx="641.7" cy="91.8" r="1"/><circle cx="643.5" cy="91.4" r="1"/><circle cx="642.8" cy="97.4" r="1"/><circle cx="639.8" cy="92.9" r="1"/><circle cx="639.1" cy="94.4" r="1"/><circle cx="643.7" cy="92.8" r="1"/><circle cx="642.6" cy="98.5" r="1"/><circle cx="651" cy="107.3" r="1"/><circle cx="650.8" cy="100.3" r="1"/><circle cx="651.1" cy="85.5" r="1"/><circle cx="649.3" cy="94" r="1"/><circle cx="653.5" cy="100.3" r="1"/><circle cx="649.8" cy="99.7" r="1"/><circle cx="652.8" cy="99.5" r="1"/><circle cx="652.6" cy="88.3" r="1"/><circle cx="653" cy="104.7" r="1"/><circle cx="649.1" cy="90.6" r="1"/><circle cx="649.7" cy="97.4" r="1"/><circle cx="652.1" cy="103.9" r="1"/><circle cx="652.3" cy="97.1" r="1"/><circle cx="650.1" cy="85.8" r="1"/><circle cx="648.7" cy="93.4" r="1"/><circle cx="651.2" cy="86.9" r="1"/><circle cx="649.9" cy="105.3" r="1"/><circle cx="653.7" cy="87" r="1"/><circle cx="651.3" cy="96.7" r="1"/><circle cx="650.2" cy="93.3" r="1"/><circle cx="650.3" cy="102.4" r="1"/><circle cx="653.2" cy="95.1" r="1"/><circle cx="653.5" cy="86.8" r="1"/><circle cx="652.1" cy="103.2" r="1"/><circle cx="648.9" cy="99.4" r="1"/><circle cx="653.5" cy="97.1" r="1"/><circle cx="652" cy="102.7" r="1"/><circle cx="649.4" cy="98.4" r="1"/><circle cx="650.1" cy="85.6" r="1"/><circle cx="651.6" cy="111.4" r="1"/><circle cx="653.1" cy="103.9" r="1"/><circle cx="651.5" cy="105.6" r="1"/><circle cx="652.6" cy="93.4" r="1"/><circle cx="650.6" cy="83.8" r="1"/><circle cx="651.4" cy="89.4" r="1"/><circle cx="651" cy="100.2" r="1"/><circle cx="652.6" cy="89.9" r="1"/><circle cx="648.6" cy="90.8" r="1"/><circle cx="661.8" cy="102.8" r="1"/><circle cx="662.2" cy="101.4" r="1"/><circle cx="661.1" cy="99.9" r="1"/><circle cx="662.7" cy="92.9" r="1"/><circle cx="662.5" cy="107.1" r="1"/><circle cx="660.2" cy="102.7" r="1"/><circle cx="658.5" cy="97.1" r="1"/><circle cx="661.6" cy="94.5" r="1"/><circle cx="661.9" cy="103.6" r="1"/><circle cx="660.5" cy="86.2" r="1"/><circle cx="660.1" cy="99" r="1"/><circle cx="662" cy="106.4" r="1"/><circle cx="658.1" cy="97.1" r="1"/><circle cx="659" cy="91.2" r="1"/><circle cx="661.2" cy="87.7" r="1"/><circle cx="658.6" cy="90.8" r="1"/><circle cx="658.1" cy="96.9" r="1"/><circle cx="661.8" cy="93.3" r="1"/><circle cx="659.4" cy="104.3" r="1"/><circle cx="661.6" cy="107.7" r="1"/><circle cx="662.4" cy="94.1" r="1"/><circle cx="660.6" cy="107.2" r="1"/><circle cx="659.7" cy="87.4" r="1"/><circle cx="658.4" cy="96.4" r="1"/><circle cx="663.4" cy="96" r="1"/><circle cx="663" cy="100.8" r="1"/><circle cx="663" cy="96.2" r="1"/><circle cx="660.6" cy="102.5" r="1"/><circle cx="663.2" cy="99.5" r="1"/><circle cx="660.4" cy="86.9" r="1"/><circle cx="661.7" cy="92.9" r="1"/><circle cx="659.1" cy="90.4" r="1"/><circle cx="660.8" cy="104.1" r="1"/><circle cx="661.6" cy="91.7" r="1"/><circle cx="660.7" cy="108.6" r="1"/><circle cx="660.2" cy="94.7" r="1"/><circle cx="662.6" cy="105.7" r="1"/><circle cx="661.8" cy="98.7" r="1"/><circle cx="662" cy="96.1" r="1"/><circle cx="662.9" cy="104" r="1"/><circle cx="662.8" cy="98.7" r="1"/><circle cx="658.7" cy="89.2" r="1"/><circle cx="668.5" cy="99.3" r="1"/><circle cx="668.1" cy="94.9" r="1"/><circle cx="671.4" cy="89.9" r="1"/><circle cx="672.1" cy="98.5" r="1"/><circle cx="669.5" cy="98.7" r="1"/><circle cx="669.3" cy="84.3" r="1"/><circle cx="672.5" cy="92.8" r="1"/><circle cx="672.2" cy="85" r="1"/><circle cx="671.2" cy="100.8" r="1"/><circle cx="672.7" cy="98.6" r="1"/><circle cx="672.7" cy="95.4" r="1"/><circle cx="668.3" cy="85.5" r="1"/><circle cx="668.1" cy="89.5" r="1"/><circle cx="668.5" cy="83.4" r="1"/><circle cx="670" cy="110.1" r="1"/><circle cx="667.8" cy="108.3" r="1"/><circle cx="671.9" cy="92" r="1"/><circle cx="671.4" cy="96.5" r="1"/><circle cx="671.1" cy="103.5" r="1"/><circle cx="672.5" cy="108.3" r="1"/><circle cx="667.8" cy="94.9" r="1"/><circle cx="669.9" cy="100.8" r="1"/><circle cx="668" cy="87.7" r="1"/><circle cx="672.7" cy="102.1" r="1"/><circle cx="668.1" cy="83.5" r="1"/><circle cx="668.9" cy="101.9" r="1"/><circle cx="672.2" cy="86.1" r="1"/><circle cx="670.8" cy="106.1" r="1"/><circle cx="672.3" cy="110" r="1"/><circle cx="670.7" cy="91.6" r="1"/><circle cx="670" cy="103.1" r="1"/><circle cx="668.6" cy="89.9" r="1"/><circle cx="672.7" cy="94.6" r="1"/><circle cx="668" cy="109.9" r="1"/><circle cx="671.8" cy="102.6" r="1"/><circle cx="669.2" cy="104" r="1"/><circle cx="671.4" cy="85.1" r="1"/><circle cx="670.6" cy="109.1" r="1"/><circle cx="671.6" cy="100.6" r="1"/><circle cx="670.6" cy="83" r="1"/><circle cx="668.5" cy="93.8" r="1"/><circle cx="672" cy="92.9" r="1"/><circle cx="679.1" cy="93.1" r="1"/><circle cx="677.8" cy="86.6" r="1"/><circle cx="680.9" cy="92.2" r="1"/><circle cx="678.4" cy="91.5" r="1"/><circle cx="679.9" cy="85.4" r="1"/><circle cx="679.3" cy="98.4" r="1"/><circle cx="681.2" cy="94.9" r="1"/><circle cx="677.8" cy="87.5" r="1"/><circle cx="680.5" cy="99" r="1"/><circle cx="682.4" cy="101.7" r="1"/><circle cx="679.2" cy="90.3" r="1"/><circle cx="680.6" cy="91.3" r="1"/><circle cx="679.3" cy="102.7" r="1"/><circle cx="681" cy="91.8" r="1"/><circle cx="679.6" cy="86.6" r="1"/><circle cx="679.9" cy="86" r="1"/><circle cx="680.3" cy="101.2" r="1"/><circle cx="680.4" cy="96.9" r="1"/><circle cx="680.2" cy="89.7" r="1"/><circle cx="678.1" cy="104.6" r="1"/><circle cx="681" cy="95.2" r="1"/><circle cx="677.7" cy="93.9" r="1"/><circle cx="682" cy="84.5" r="1"/><circle cx="680.8" cy="98.6" r="1"/><circle cx="677.3" cy="93.5" r="1"/><circle cx="679.1" cy="102.8" r="1"/><circle cx="677.9" cy="93.5" r="1"/><circle cx="680" cy="88" r="1"/><circle cx="681.4" cy="93.9" r="1"/><circle cx="680.5" cy="91.8" r="1"/><circle cx="680.3" cy="96.8" r="1"/><circle cx="677.5" cy="91.7" r="1"/><circle cx="681" cy="107.4" r="1"/><circle cx="681.5" cy="85.3" r="1"/><circle cx="678.6" cy="98" r="1"/><circle cx="679.3" cy="83.6" r="1"/><circle cx="677.4" cy="84.7" r="1"/><circle cx="690.4" cy="97" r="1"/><circle cx="689.4" cy="102.6" r="1"/><circle cx="689.6" cy="102.3" r="1"/><circle cx="690.6" cy="90.5" r="1"/><circle cx="687.3" cy="95.7" r="1"/><circle cx="689.4" cy="106" r="1"/><circle cx="687.1" cy="86.8" r="1"/><circle cx="687" cy="94.7" r="1"/><circle cx="689.3" cy="99.2" r="1"/><circle cx="687.1" cy="95.6" r="1"/><circle cx="691.9" cy="96.3" r="1"/><circle cx="690.2" cy="95.6" r="1"/><circle cx="688.6" cy="101.6" r="1"/><circle cx="689.3" cy="93.2" r="1"/><circle cx="687.9" cy="105.4" r="1"/><circle cx="687.1" cy="101.6" r="1"/><circle cx="689.8" cy="106.8" r="1"/><circle cx="688.6" cy="85.7" r="1"/><circle cx="691.7" cy="102.8" r="1"/><circle cx="691.3" cy="95.6" r="1"/><circle cx="691.2" cy="105.4" r="1"/><circle cx="691.6" cy="86.6" r="1"/><circle cx="691.3" cy="96.4" r="1"/><circle cx="690.3" cy="88.1" r="1"/><circle cx="689.6" cy="95.6" r="1"/><circle cx="690.7" cy="100.4" r="1"/><circle cx="689.4" cy="88" r="1"/><circle cx="689.6" cy="86.1" r="1"/><circle cx="689.6" cy="102.6" r="1"/><circle cx="689.5" cy="100.7" r="1"/><circle cx="690.6" cy="100.7" r="1"/><circle cx="689.7" cy="96.7" r="1"/><circle cx="688.5" cy="90.3" r="1"/><circle cx="687.7" cy="88" r="1"/><circle cx="690" cy="100.9" r="1"/><circle cx="687" cy="104.9" r="1"/><circle cx="687.6" cy="92.3" r="1"/><circle cx="690" cy="102.7" r="1"/><circle cx="687.4" cy="90.2" r="1"/><circle cx="691.6" cy="96.2" r="1"/><circle cx="691" cy="97.3" r="1"/><circle cx="688.2" cy="103.6" r="1"/><circle cx="696.6" cy="96.6" r="1"/><circle cx="700.3" cy="98.5" r="1"/><circle cx="699.6" cy="95.5" r="1"/><circle cx="698.7" cy="96.5" r="1"/><circle cx="697.5" cy="99.9" r="1"/><circle cx="697" cy="99.6" r="1"/><circle cx="700.6" cy="94.3" r="1"/><circle cx="696.3" cy="94.8" r="1"/><circle cx="697.4" cy="102.8" r="1"/><circle cx="699.8" cy="93.6" r="1"/><circle cx="698.5" cy="101" r="1"/><circle cx="698" cy="95.7" r="1"/><circle cx="699.4" cy="95.5" r="1"/><circle cx="698.4" cy="100.7" r="1"/><circle cx="699.9" cy="87.3" r="1"/><circle cx="701" cy="99.4" r="1"/><circle cx="697.3" cy="87.3" r="1"/><circle cx="699.6" cy="92.6" r="1"/><circle cx="698.4" cy="93.5" r="1"/><circle cx="699" cy="95.1" r="1"/><circle cx="701" cy="94.4" r="1"/><circle cx="700.5" cy="97.1" r="1"/><circle cx="698" cy="97.6" r="1"/><circle cx="698.4" cy="93.8" r="1"/><circle cx="696.9" cy="96.5" r="1"/><circle cx="699.1" cy="91" r="1"/><circle cx="699.8" cy="94.6" r="1"/><circle cx="699.8" cy="94" r="1"/><circle cx="697.9" cy="96.2" r="1"/><circle cx="697.9" cy="96" r="1"/><circle cx="700.1" cy="94.8" r="1"/><circle cx="697.1" cy="90.7" r="1"/><circle cx="697.6" cy="97.2" r="1"/><circle cx="698.6" cy="97.5" r="1"/><circle cx="701.1" cy="94.8" r="1"/><circle cx="699.9" cy="89.7" r="1"/><circle cx="697.8" cy="91" r="1"/><circle cx="701.2" cy="90.1" r="1"/><circle cx="697.4" cy="103" r="1"/><circle cx="697.5" cy="100.1" r="1"/><circle cx="698.7" cy="104.2" r="1"/><circle cx="700" cy="96.8" r="1"/><circle cx="699" cy="92.7" r="1"/><circle cx="701.3" cy="96.1" r="1"/><circle cx="699.4" cy="100" r="1"/><circle cx="700.5" cy="91.5" r="1"/><circle cx="700.8" cy="93.6" r="1"/><circle cx="701.1" cy="92.8" r="1"/><circle cx="698.1" cy="100.4" r="1"/><circle cx="700.9" cy="99.3" r="1"/><circle cx="701.2" cy="95" r="1"/><circle cx="696.5" cy="96.5" r="1"/><circle cx="701.1" cy="91.9" r="1"/><circle cx="698.9" cy="98.1" r="1"/><circle cx="699.4" cy="91.3" r="1"/><circle cx="698.1" cy="91.8" r="1"/><circle cx="698.7" cy="92.2" r="1"/><circle cx="697.1" cy="94.2" r="1"/><circle cx="698.7" cy="94.9" r="1"/><circle cx="697.9" cy="104.2" r="1"/><circle cx="700.6" cy="92.8" r="1"/><circle cx="700.3" cy="88.3" r="1"/><circle cx="697.4" cy="96.1" r="1"/><circle cx="700.2" cy="91.8" r="1"/><circle cx="700.7" cy="95.3" r="1"/><circle cx="696.6" cy="95.6" r="1"/><circle cx="699.9" cy="95.1" r="1"/><circle cx="697.1" cy="97" r="1"/><circle cx="700.7" cy="102.2" r="1"/><circle cx="697" cy="91.6" r="1"/><circle cx="697.9" cy="91.6" r="1"/><circle cx="698.9" cy="100.4" r="1"/><circle cx="709.1" cy="90.6" r="1"/><circle cx="710.6" cy="93.9" r="1"/><circle cx="708.8" cy="93.5" r="1"/><circle cx="710.8" cy="94.1" r="1"/><circle cx="708.6" cy="99.5" r="1"/><circle cx="706" cy="89.8" r="1"/><circle cx="709.8" cy="102.5" r="1"/><circle cx="709.7" cy="90.5" r="1"/><circle cx="708" cy="87.4" r="1"/><circle cx="709.4" cy="93.2" r="1"/><circle cx="709.2" cy="90.4" r="1"/><circle cx="707.8" cy="88.9" r="1"/><circle cx="707.6" cy="98.7" r="1"/><circle cx="707.3" cy="88.3" r="1"/><circle cx="710.8" cy="104.3" r="1"/><circle cx="711.1" cy="96.5" r="1"/><circle cx="707.6" cy="96.1" r="1"/><circle cx="706.9" cy="97.6" r="1"/><circle cx="709.3" cy="100.9" r="1"/><circle cx="711.2" cy="96.1" r="1"/><circle cx="709.5" cy="99.9" r="1"/><circle cx="710.3" cy="94.3" r="1"/><circle cx="708.7" cy="90.7" r="1"/><circle cx="710.9" cy="102.9" r="1"/><circle cx="707.2" cy="93" r="1"/><circle cx="709.2" cy="93.1" r="1"/><circle cx="707" cy="99" r="1"/><circle cx="707.8" cy="92" r="1"/><circle cx="708.5" cy="85.2" r="1"/><circle cx="707.3" cy="93.1" r="1"/><circle cx="709.9" cy="89.1" r="1"/><circle cx="707.1" cy="94.5" r="1"/><circle cx="710.9" cy="86.9" r="1"/><circle cx="706" cy="97.7" r="1"/><circle cx="709.9" cy="92.2" r="1"/><circle cx="710.8" cy="87.5" r="1"/><circle cx="705.9" cy="93.7" r="1"/><circle cx="707.5" cy="93.2" r="1"/><circle cx="708.2" cy="103.9" r="1"/><circle cx="707" cy="85.2" r="1"/><circle cx="707.8" cy="90.3" r="1"/><circle cx="711.1" cy="93.9" r="1"/><circle cx="708.9" cy="93.3" r="1"/><circle cx="708.1" cy="80.5" r="1"/><circle cx="707.4" cy="97.4" r="1"/><circle cx="706.2" cy="93" r="1"/><circle cx="710" cy="88.1" r="1"/><circle cx="709.2" cy="89.9" r="1"/><circle cx="709.4" cy="95" r="1"/><circle cx="706.7" cy="83.7" r="1"/><circle cx="710" cy="92.5" r="1"/><circle cx="706.3" cy="96.5" r="1"/><circle cx="708.7" cy="95.1" r="1"/><circle cx="707" cy="89.1" r="1"/><circle cx="711.1" cy="92.9" r="1"/><circle cx="707.2" cy="89.8" r="1"/><circle cx="706.7" cy="101.5" r="1"/><circle cx="707.6" cy="98.4" r="1"/><circle cx="706.8" cy="98.3" r="1"/><circle cx="710.1" cy="90.2" r="1"/><circle cx="707.7" cy="101.6" r="1"/><circle cx="709.6" cy="98.5" r="1"/><circle cx="709.6" cy="98.2" r="1"/><circle cx="707.6" cy="87.6" r="1"/><circle cx="708.8" cy="100.6" r="1"/><circle cx="707.6" cy="98.1" r="1"/><circle cx="708.4" cy="100.7" r="1"/><circle cx="706.8" cy="100.4" r="1"/><circle cx="710.2" cy="97.4" r="1"/><circle cx="708.5" cy="97" r="1"/><circle cx="708.4" cy="86.3" r="1"/><circle cx="708.9" cy="96.6" r="1"/><circle cx="719" cy="98.5" r="1"/><circle cx="715.9" cy="91.9" r="1"/><circle cx="717.1" cy="87" r="1"/><circle cx="716" cy="89.2" r="1"/><circle cx="716.1" cy="93.5" r="1"/><circle cx="717.2" cy="89.2" r="1"/><circle cx="718.3" cy="86.2" r="1"/><circle cx="719.7" cy="91.2" r="1"/><circle cx="717.5" cy="94.3" r="1"/><circle cx="720" cy="85.9" r="1"/><circle cx="718.1" cy="89.8" r="1"/><circle cx="720.5" cy="89.5" r="1"/><circle cx="717.3" cy="88.6" r="1"/><circle cx="717.2" cy="96.4" r="1"/><circle cx="716.4" cy="89.2" r="1"/><circle cx="719.6" cy="87" r="1"/><circle cx="718.6" cy="93.1" r="1"/><circle cx="720.6" cy="96.1" r="1"/><circle cx="718.1" cy="98.4" r="1"/><circle cx="719.6" cy="91.8" r="1"/><circle cx="716.3" cy="95.3" r="1"/><circle cx="720.5" cy="95.6" r="1"/><circle cx="715.9" cy="90.8" r="1"/><circle cx="716.5" cy="93.7" r="1"/><circle cx="720.7" cy="98" r="1"/><circle cx="715.9" cy="89.9" r="1"/><circle cx="720.4" cy="100.5" r="1"/><circle cx="720.2" cy="83.4" r="1"/><circle cx="715.8" cy="92.2" r="1"/><circle cx="717.7" cy="95.1" r="1"/><circle cx="719.7" cy="94.7" r="1"/><circle cx="720.7" cy="92.4" r="1"/><circle cx="718.4" cy="94.3" r="1"/><circle cx="720.3" cy="94" r="1"/><circle cx="717.7" cy="96.9" r="1"/><circle cx="719.5" cy="95.9" r="1"/><circle cx="715.9" cy="98.4" r="1"/><circle cx="719" cy="93.1" r="1"/><circle cx="717" cy="105.4" r="1"/><circle cx="719.3" cy="91" r="1"/><circle cx="717" cy="96.2" r="1"/><circle cx="715.6" cy="90.6" r="1"/><circle cx="717.9" cy="98.9" r="1"/><circle cx="716.8" cy="86.5" r="1"/><circle cx="718.2" cy="92.8" r="1"/><circle cx="716" cy="84.3" r="1"/><circle cx="717.8" cy="96.6" r="1"/><circle cx="716.7" cy="100.6" r="1"/><circle cx="717.4" cy="93.1" r="1"/><circle cx="718.6" cy="103.7" r="1"/><circle cx="719.4" cy="98.4" r="1"/><circle cx="718" cy="89" r="1"/><circle cx="717.8" cy="89.6" r="1"/><circle cx="717" cy="93.8" r="1"/><circle cx="718.7" cy="93.1" r="1"/><circle cx="719.3" cy="87.1" r="1"/><circle cx="716.8" cy="91.3" r="1"/><circle cx="716.2" cy="100" r="1"/><circle cx="719.2" cy="91.9" r="1"/><circle cx="716.9" cy="93.9" r="1"/><circle cx="719.2" cy="83.8" r="1"/><circle cx="718.4" cy="97.6" r="1"/><circle cx="716" cy="90.8" r="1"/><circle cx="717.3" cy="94.1" r="1"/><circle cx="720.4" cy="99.3" r="1"/><circle cx="719.9" cy="95.1" r="1"/><circle cx="719" cy="95.8" r="1"/><circle cx="720.7" cy="99.9" r="1"/><circle cx="720.8" cy="91.5" r="1"/><circle cx="719.7" cy="93.7" r="1"/><circle cx="719.9" cy="86.6" r="1"/><circle cx="718.1" cy="87.2" r="1"/><circle cx="728.8" cy="100.1" r="1"/><circle cx="727.5" cy="86.2" r="1"/><circle cx="729" cy="93.1" r="1"/><circle cx="729.6" cy="90" r="1"/><circle cx="726.8" cy="100.7" r="1"/><circle cx="725.4" cy="99.9" r="1"/><circle cx="727.9" cy="103.2" r="1"/><circle cx="728.7" cy="100.2" r="1"/><circle cx="726.4" cy="98.5" r="1"/><circle cx="729.2" cy="87.8" r="1"/><circle cx="726.8" cy="95.5" r="1"/><circle cx="726.4" cy="92.4" r="1"/><circle cx="725.2" cy="91.9" r="1"/><circle cx="729.8" cy="92.8" r="1"/><circle cx="728.9" cy="99.6" r="1"/><circle cx="729.2" cy="91.8" r="1"/><circle cx="729.5" cy="90.2" r="1"/><circle cx="729.4" cy="99.2" r="1"/><circle cx="725.1" cy="96.7" r="1"/><circle cx="728.7" cy="89.9" r="1"/><circle cx="727.8" cy="91.5" r="1"/><circle cx="729.3" cy="100.1" r="1"/><circle cx="726.7" cy="93.9" r="1"/><circle cx="726.9" cy="94.8" r="1"/><circle cx="726.1" cy="95.4" r="1"/><circle cx="727.2" cy="98" r="1"/><circle cx="725.2" cy="93.7" r="1"/><circle cx="728.9" cy="95.5" r="1"/><circle cx="729.2" cy="96.2" r="1"/><circle cx="727.1" cy="90.2" r="1"/><circle cx="726.8" cy="99.8" r="1"/><circle cx="726.4" cy="100.5" r="1"/><circle cx="726.6" cy="95.9" r="1"/><circle cx="727.9" cy="94.6" r="1"/><circle cx="729.4" cy="95.2" r="1"/><circle cx="729.8" cy="91" r="1"/><circle cx="728.9" cy="103" r="1"/><circle cx="727.8" cy="90.2" r="1"/><circle cx="727.3" cy="90.3" r="1"/><circle cx="725.5" cy="90.7" r="1"/><circle cx="726.9" cy="98.2" r="1"/><circle cx="726" cy="101.9" r="1"/><circle cx="728.2" cy="93.6" r="1"/><circle cx="727.6" cy="89.2" r="1"/><circle cx="727.5" cy="92.8" r="1"/><circle cx="725.9" cy="96.6" r="1"/><circle cx="727.9" cy="93.9" r="1"/><circle cx="726.7" cy="97.4" r="1"/><circle cx="729.8" cy="92.4" r="1"/><circle cx="728.9" cy="90.4" r="1"/><circle cx="726" cy="90.4" r="1"/><circle cx="728.9" cy="90.7" r="1"/><circle cx="725.7" cy="94.4" r="1"/><circle cx="725.8" cy="101.1" r="1"/><circle cx="725.7" cy="97.4" r="1"/><circle cx="727.2" cy="90.1" r="1"/><circle cx="726.2" cy="97.2" r="1"/><circle cx="726.8" cy="98.7" r="1"/><circle cx="727.8" cy="94.3" r="1"/><circle cx="728" cy="99" r="1"/><circle cx="726.9" cy="94.1" r="1"/><circle cx="728.2" cy="92" r="1"/><circle cx="727" cy="98.3" r="1"/><circle cx="728.5" cy="105.3" r="1"/><circle cx="728.5" cy="87.8" r="1"/><circle cx="725.8" cy="91.3" r="1"/><circle cx="725.4" cy="93.8" r="1"/><circle cx="730.3" cy="96.5" r="1"/><circle cx="727.1" cy="103.8" r="1"/><circle cx="726.7" cy="99.5" r="1"/><circle cx="729.5" cy="97.3" r="1"/><circle cx="725.5" cy="95.9" r="1"/><circle cx="738.6" cy="90.1" r="1"/><circle cx="735.1" cy="94.1" r="1"/><circle cx="735.7" cy="99.8" r="1"/><circle cx="739" cy="95.1" r="1"/><circle cx="735.9" cy="94.4" r="1"/><circle cx="737.7" cy="91.6" r="1"/><circle cx="735.6" cy="96.8" r="1"/><circle cx="739" cy="97.1" r="1"/><circle cx="737.7" cy="95.3" r="1"/><circle cx="735.1" cy="96.1" r="1"/><circle cx="736.9" cy="105.3" r="1"/><circle cx="738.2" cy="98" r="1"/><circle cx="735.9" cy="97.3" r="1"/><circle cx="736.1" cy="103.9" r="1"/><circle cx="736.8" cy="91.1" r="1"/><circle cx="735" cy="90.3" r="1"/><circle cx="735" cy="98.1" r="1"/><circle cx="735.4" cy="99.9" r="1"/><circle cx="736.4" cy="101.5" r="1"/><circle cx="738.6" cy="88.8" r="1"/><circle cx="739.3" cy="93.1" r="1"/><circle cx="736.8" cy="88.8" r="1"/><circle cx="738.4" cy="100.4" r="1"/><circle cx="739" cy="97.1" r="1"/><circle cx="739.8" cy="96.2" r="1"/><circle cx="735.8" cy="96.1" r="1"/><circle cx="738" cy="88.1" r="1"/><circle cx="739.4" cy="96.7" r="1"/><circle cx="738.6" cy="96.3" r="1"/><circle cx="734.8" cy="97.5" r="1"/><circle cx="739.1" cy="95.1" r="1"/><circle cx="738.7" cy="97.9" r="1"/><circle cx="737.8" cy="98.1" r="1"/><circle cx="735" cy="91.7" r="1"/><circle cx="735.8" cy="103.7" r="1"/><circle cx="734.9" cy="100.1" r="1"/><circle cx="737.6" cy="92.3" r="1"/><circle cx="737.8" cy="93.4" r="1"/><circle cx="735.1" cy="95.4" r="1"/><circle cx="738.4" cy="103.7" r="1"/><circle cx="736.8" cy="99.4" r="1"/><circle cx="735.7" cy="89.6" r="1"/><circle cx="737.6" cy="102.4" r="1"/><circle cx="736.2" cy="101.2" r="1"/><circle cx="735.7" cy="96.2" r="1"/><circle cx="735.7" cy="94.8" r="1"/><circle cx="738.8" cy="98.7" r="1"/><circle cx="735.1" cy="96" r="1"/><circle cx="735.9" cy="96.7" r="1"/><circle cx="735.4" cy="92.3" r="1"/><circle cx="738.1" cy="90.9" r="1"/><circle cx="738" cy="102.6" r="1"/><circle cx="736.9" cy="98.5" r="1"/><circle cx="735.5" cy="91.7" r="1"/><circle cx="735.1" cy="89.8" r="1"/><circle cx="739.6" cy="96.5" r="1"/><circle cx="737.8" cy="94.8" r="1"/><circle cx="735" cy="92" r="1"/><circle cx="737.9" cy="90.7" r="1"/><circle cx="739" cy="97.8" r="1"/><circle cx="735.7" cy="96" r="1"/><circle cx="739.7" cy="94.1" r="1"/><circle cx="735.5" cy="94.2" r="1"/><circle cx="737" cy="95.3" r="1"/><circle cx="737" cy="98.2" r="1"/><circle cx="739.7" cy="98.3" r="1"/><circle cx="737.2" cy="96.3" r="1"/><circle cx="738.6" cy="95.8" r="1"/><circle cx="738.5" cy="94.8" r="1"/><circle cx="736.2" cy="92.5" r="1"/><circle cx="737.1" cy="97.8" r="1"/><circle cx="737.1" cy="94.2" r="1"/><circle cx="745.3" cy="100.7" r="1"/><circle cx="748.4" cy="100.7" r="1"/><circle cx="745.7" cy="92.5" r="1"/><circle cx="746.3" cy="100.4" r="1"/><circle cx="744.5" cy="91.8" r="1"/><circle cx="745.5" cy="96.3" r="1"/><circle cx="745.9" cy="94.8" r="1"/><circle cx="745.6" cy="96" r="1"/><circle cx="747.6" cy="93" r="1"/><circle cx="744.8" cy="95.2" r="1"/><circle cx="745.9" cy="99.8" r="1"/><circle cx="747.1" cy="93.2" r="1"/><circle cx="747" cy="94.3" r="1"/><circle cx="747.3" cy="100.7" r="1"/><circle cx="745.2" cy="91.4" r="1"/><circle cx="745.6" cy="93.2" r="1"/><circle cx="748.3" cy="95.1" r="1"/><circle cx="749.2" cy="90.1" r="1"/><circle cx="745.1" cy="97" r="1"/><circle cx="744.8" cy="100.7" r="1"/><circle cx="748.9" cy="95.3" r="1"/><circle cx="749.3" cy="89.8" r="1"/><circle cx="746.3" cy="95.5" r="1"/><circle cx="749.3" cy="93.1" r="1"/><circle cx="747.3" cy="100.7" r="1"/><circle cx="749" cy="94.9" r="1"/><circle cx="744.4" cy="98" r="1"/><circle cx="744.3" cy="94.2" r="1"/><circle cx="748.6" cy="93.1" r="1"/><circle cx="746.7" cy="100.7" r="1"/><circle cx="744.9" cy="100.7" r="1"/><circle cx="748.3" cy="95.5" r="1"/><circle cx="744.2" cy="97.2" r="1"/><circle cx="745.2" cy="97.8" r="1"/><circle cx="748.2" cy="95.1" r="1"/><circle cx="748.2" cy="95.4" r="1"/><circle cx="746.9" cy="93.3" r="1"/><circle cx="747.4" cy="99.3" r="1"/><circle cx="747.3" cy="100.2" r="1"/><circle cx="745.6" cy="93.2" r="1"/><circle cx="746.1" cy="97.4" r="1"/><circle cx="747.5" cy="94.1" r="1"/><circle cx="745.4" cy="97.2" r="1"/><circle cx="748.4" cy="93.8" r="1"/><circle cx="749.1" cy="95.5" r="1"/><circle cx="747.5" cy="100.6" r="1"/><circle cx="745" cy="95.6" r="1"/><circle cx="745.7" cy="96.1" r="1"/><circle cx="747.3" cy="95.2" r="1"/><circle cx="746.6" cy="94.4" r="1"/><circle cx="746.3" cy="94.5" r="1"/><circle cx="744.3" cy="94.3" r="1"/><circle cx="746.4" cy="88.3" r="1"/><circle cx="746.2" cy="95.3" r="1"/><circle cx="744.8" cy="93.6" r="1"/><circle cx="749.5" cy="96.7" r="1"/><circle cx="748.2" cy="100.7" r="1"/><circle cx="749.2" cy="90.8" r="1"/><circle cx="745.6" cy="90.1" r="1"/><circle cx="747.8" cy="96.5" r="1"/><circle cx="748" cy="95.6" r="1"/><circle cx="745.5" cy="96.2" r="1"/><circle cx="747.4" cy="96.3" r="1"/><circle cx="748" cy="100.1" r="1"/><circle cx="747.4" cy="96" r="1"/><circle cx="747.1" cy="93.7" r="1"/><circle cx="745.5" cy="97.4" r="1"/><circle cx="745.6" cy="97.8" r="1"/><circle cx="745.9" cy="95.4" r="1"/><circle cx="746.9" cy="98.7" r="1"/><circle cx="746.4" cy="95.6" r="1"/><circle cx="745.3" cy="92.3" r="1"/><circle cx="757.6" cy="97.4" r="1"/><circle cx="753.9" cy="93.8" r="1"/><circle cx="758.2" cy="99.8" r="1"/><circle cx="758.5" cy="89" r="1"/><circle cx="754.1" cy="95.2" r="1"/><circle cx="758.9" cy="96" r="1"/><circle cx="759" cy="94" r="1"/><circle cx="754.4" cy="94.3" r="1"/><circle cx="756.4" cy="94.9" r="1"/><circle cx="756.4" cy="98.9" r="1"/><circle cx="757.9" cy="93.3" r="1"/><circle cx="754.9" cy="91.9" r="1"/><circle cx="755.9" cy="88.9" r="1"/><circle cx="757.8" cy="93.1" r="1"/><circle cx="758.6" cy="93.1" r="1"/><circle cx="758.7" cy="88.6" r="1"/><circle cx="756.9" cy="94.1" r="1"/><circle cx="754.3" cy="92.5" r="1"/><circle cx="755.5" cy="98" r="1"/><circle cx="757.9" cy="98.2" r="1"/><circle cx="757.3" cy="88.6" r="1"/><circle cx="753.8" cy="95.9" r="1"/><circle cx="756.7" cy="93.1" r="1"/><circle cx="756.1" cy="87.8" r="1"/><circle cx="758.9" cy="93.1" r="1"/><circle cx="755.4" cy="90.3" r="1"/><circle cx="756.2" cy="98.4" r="1"/><circle cx="758.6" cy="90.9" r="1"/><circle cx="757" cy="87.3" r="1"/><circle cx="754.5" cy="94.8" r="1"/><circle cx="757.9" cy="92.2" r="1"/><circle cx="758.4" cy="96.8" r="1"/><circle cx="757.6" cy="85.6" r="1"/><circle cx="757.4" cy="88.3" r="1"/><circle cx="755.6" cy="95.1" r="1"/><circle cx="758.1" cy="96.8" r="1"/><circle cx="758.1" cy="98.2" r="1"/><circle cx="757.3" cy="97.2" r="1"/><circle cx="754.8" cy="89.9" r="1"/><circle cx="759.1" cy="94.6" r="1"/><circle cx="754.2" cy="91.8" r="1"/><circle cx="757.8" cy="96.7" r="1"/><circle cx="757.2" cy="92.1" r="1"/><circle cx="757.7" cy="93" r="1"/><circle cx="758.2" cy="92" r="1"/><circle cx="756.4" cy="94.3" r="1"/><circle cx="758.7" cy="89.8" r="1"/><circle cx="758.3" cy="93.7" r="1"/><circle cx="757.9" cy="91.3" r="1"/><circle cx="757.9" cy="95.7" r="1"/><circle cx="756" cy="94.8" r="1"/><circle cx="756.7" cy="91.5" r="1"/><circle cx="755.8" cy="84.8" r="1"/><circle cx="757.9" cy="92.4" r="1"/><circle cx="756.7" cy="91.5" r="1"/><circle cx="757.5" cy="96.8" r="1"/><circle cx="754.7" cy="92.3" r="1"/><circle cx="754.9" cy="90.1" r="1"/><circle cx="759" cy="95.5" r="1"/><circle cx="756.9" cy="86.6" r="1"/><circle cx="755.7" cy="94.4" r="1"/><circle cx="757" cy="98.3" r="1"/><circle cx="754.1" cy="90.1" r="1"/><circle cx="758.7" cy="94.7" r="1"/><circle cx="758.7" cy="92.5" r="1"/><circle cx="758.5" cy="92.2" r="1"/><circle cx="754" cy="93.5" r="1"/><circle cx="754.8" cy="96.7" r="1"/><circle cx="758.8" cy="91.1" r="1"/><circle cx="757.3" cy="95.2" r="1"/><circle cx="758.9" cy="91.4" r="1"/><circle cx="756.5" cy="102.3" r="1"/><circle cx="764.5" cy="94.5" r="1"/><circle cx="765.1" cy="96" r="1"/><circle cx="767.5" cy="108.5" r="1"/><circle cx="767.8" cy="83.4" r="1"/><circle cx="765.3" cy="90.2" r="1"/><circle cx="767.1" cy="90.3" r="1"/><circle cx="768.4" cy="99.7" r="1"/><circle cx="766.8" cy="100.5" r="1"/><circle cx="765.6" cy="92.1" r="1"/><circle cx="768.2" cy="101" r="1"/><circle cx="766.4" cy="95.1" r="1"/><circle cx="766.9" cy="100.7" r="1"/><circle cx="768.2" cy="95.6" r="1"/><circle cx="763.7" cy="98.8" r="1"/><circle cx="763.9" cy="98.9" r="1"/><circle cx="764.9" cy="110" r="1"/><circle cx="764.8" cy="95.2" r="1"/><circle cx="768.4" cy="99.8" r="1"/><circle cx="767.1" cy="87.1" r="1"/><circle cx="765.3" cy="98.6" r="1"/><circle cx="766.5" cy="88.2" r="1"/><circle cx="765.7" cy="90.8" r="1"/><circle cx="765.9" cy="99.3" r="1"/><circle cx="765.2" cy="94.6" r="1"/><circle cx="767.9" cy="85.3" r="1"/><circle cx="767.3" cy="92.4" r="1"/><circle cx="764.1" cy="83.9" r="1"/><circle cx="766.6" cy="91" r="1"/><circle cx="768.3" cy="90.6" r="1"/><circle cx="765.4" cy="96.8" r="1"/><circle cx="764.2" cy="101.5" r="1"/><circle cx="763.7" cy="88" r="1"/><circle cx="766.2" cy="101.6" r="1"/><circle cx="765.3" cy="92.5" r="1"/><circle cx="766.3" cy="92.8" r="1"/><circle cx="766.9" cy="100.7" r="1"/><circle cx="765.6" cy="93.3" r="1"/><circle cx="766.5" cy="88.2" r="1"/><circle cx="766.5" cy="99.4" r="1"/><circle cx="766.4" cy="93.9" r="1"/><circle cx="766.1" cy="102.3" r="1"/><circle cx="764.4" cy="93.1" r="1"/><circle cx="764.8" cy="98.3" r="1"/><circle cx="766.9" cy="98.7" r="1"/><circle cx="768.1" cy="102.2" r="1"/><circle cx="763.9" cy="95.8" r="1"/><circle cx="763.7" cy="100.7" r="1"/><circle cx="765.7" cy="100.1" r="1"/><circle cx="767.7" cy="106.5" r="1"/><circle cx="768" cy="97" r="1"/><circle cx="764.5" cy="95.7" r="1"/><circle cx="766.6" cy="101.1" r="1"/><circle cx="763.7" cy="98.4" r="1"/><circle cx="767.5" cy="101.7" r="1"/><circle cx="763.7" cy="98.1" r="1"/><circle cx="768.3" cy="99.5" r="1"/><circle cx="765.2" cy="94" r="1"/><circle cx="765" cy="95.7" r="1"/><circle cx="765.2" cy="98.6" r="1"/><circle cx="764" cy="90" r="1"/><circle cx="765.2" cy="96.3" r="1"/><circle cx="764.6" cy="101.3" r="1"/><circle cx="763.5" cy="91.5" r="1"/><circle cx="765.8" cy="96.8" r="1"/><circle cx="767.7" cy="89.7" r="1"/><circle cx="767.4" cy="97.6" r="1"/><circle cx="766.2" cy="87.2" r="1"/><circle cx="764.1" cy="101.8" r="1"/><circle cx="765.8" cy="96.7" r="1"/><circle cx="764.7" cy="96.4" r="1"/><circle cx="765.8" cy="100.4" r="1"/><circle cx="767.9" cy="87.8" r="1"/><circle cx="774.7" cy="87.3" r="1"/><circle cx="773.4" cy="92.8" r="1"/><circle cx="777.5" cy="92" r="1"/><circle cx="773" cy="95.1" r="1"/><circle cx="776.6" cy="105.7" r="1"/><circle cx="777.8" cy="87.5" r="1"/><circle cx="775.6" cy="96.9" r="1"/><circle cx="775.4" cy="106.6" r="1"/><circle cx="777.1" cy="82.3" r="1"/><circle cx="775.2" cy="97.7" r="1"/><circle cx="775.1" cy="93.5" r="1"/><circle cx="773.2" cy="96.2" r="1"/><circle cx="773.4" cy="100.2" r="1"/><circle cx="774.4" cy="93.8" r="1"/><circle cx="776.2" cy="98.5" r="1"/><circle cx="773.5" cy="95.4" r="1"/><circle cx="773.6" cy="88.3" r="1"/><circle cx="775.8" cy="104.5" r="1"/><circle cx="774.5" cy="99.2" r="1"/><circle cx="774.7" cy="93.2" r="1"/><circle cx="774.8" cy="96.5" r="1"/><circle cx="774.1" cy="96.4" r="1"/><circle cx="777.5" cy="101.4" r="1"/><circle cx="773.6" cy="93.6" r="1"/><circle cx="775.4" cy="97.9" r="1"/><circle cx="776.4" cy="98.2" r="1"/><circle cx="774" cy="85.5" r="1"/><circle cx="776.1" cy="93.5" r="1"/><circle cx="777" cy="83.7" r="1"/><circle cx="775.4" cy="92" r="1"/><circle cx="773.7" cy="82.9" r="1"/><circle cx="776.5" cy="98.2" r="1"/><circle cx="773" cy="90.8" r="1"/><circle cx="774.3" cy="86.4" r="1"/><circle cx="777.7" cy="98.7" r="1"/><circle cx="776.1" cy="97.4" r="1"/><circle cx="774" cy="92" r="1"/><circle cx="774.4" cy="106.8" r="1"/><circle cx="777.3" cy="101" r="1"/><circle cx="776.7" cy="87.2" r="1"/><circle cx="773.8" cy="92.8" r="1"/><circle cx="777.4" cy="91.2" r="1"/><circle cx="776.4" cy="96.8" r="1"/><circle cx="777.5" cy="94.5" r="1"/><circle cx="775" cy="89.3" r="1"/><circle cx="773.5" cy="96" r="1"/><circle cx="775.6" cy="97.1" r="1"/><circle cx="777.8" cy="94.1" r="1"/><circle cx="777.7" cy="90.4" r="1"/><circle cx="777.4" cy="90.5" r="1"/><circle cx="776.8" cy="99" r="1"/><circle cx="776.6" cy="104.7" r="1"/><circle cx="776.1" cy="97.4" r="1"/><circle cx="775.4" cy="87.8" r="1"/><circle cx="777.5" cy="91.1" r="1"/><circle cx="774.9" cy="94.6" r="1"/><circle cx="777.1" cy="85.9" r="1"/><circle cx="773.1" cy="88" r="1"/><circle cx="774.2" cy="103.1" r="1"/><circle cx="775.8" cy="86.6" r="1"/><circle cx="777.6" cy="95.7" r="1"/><circle cx="776.6" cy="90.4" r="1"/><circle cx="777.8" cy="96.6" r="1"/><circle cx="776.1" cy="93" r="1"/><circle cx="772.9" cy="94.9" r="1"/><circle cx="775.9" cy="102.1" r="1"/><circle cx="776.8" cy="92.1" r="1"/><circle cx="775.5" cy="85.5" r="1"/><circle cx="776.9" cy="86.8" r="1"/><circle cx="774.1" cy="87.7" r="1"/><circle cx="774" cy="92.7" r="1"/><circle cx="773" cy="95.3" r="1"/><circle cx="783" cy="92.4" r="1"/><circle cx="782.8" cy="94.3" r="1"/><circle cx="786.4" cy="89.6" r="1"/><circle cx="782.8" cy="95.9" r="1"/><circle cx="782.7" cy="97" r="1"/><circle cx="784.3" cy="83.2" r="1"/><circle cx="784.6" cy="89.3" r="1"/><circle cx="785.1" cy="102.3" r="1"/><circle cx="785.5" cy="84.7" r="1"/><circle cx="786.5" cy="96" r="1"/><circle cx="787.4" cy="93" r="1"/><circle cx="783.9" cy="98.1" r="1"/><circle cx="784.9" cy="89.4" r="1"/><circle cx="784.6" cy="104.6" r="1"/><circle cx="783.5" cy="100.2" r="1"/><circle cx="785.5" cy="95" r="1"/><circle cx="786.9" cy="99.5" r="1"/><circle cx="783.8" cy="102.3" r="1"/><circle cx="783.3" cy="92.1" r="1"/><circle cx="782.9" cy="92.7" r="1"/><circle cx="784.6" cy="90.2" r="1"/><circle cx="786.8" cy="82.6" r="1"/><circle cx="785.9" cy="93.3" r="1"/><circle cx="783.1" cy="91.1" r="1"/><circle cx="787.4" cy="87.9" r="1"/><circle cx="783.8" cy="103.7" r="1"/><circle cx="785" cy="81.9" r="1"/><circle cx="785.6" cy="91.9" r="1"/><circle cx="787.7" cy="95.8" r="1"/><circle cx="787.1" cy="91.5" r="1"/><circle cx="784.3" cy="93.6" r="1"/><circle cx="787.6" cy="93.2" r="1"/><circle cx="785.6" cy="92.7" r="1"/><circle cx="786.6" cy="86.3" r="1"/><circle cx="784.1" cy="90.9" r="1"/><circle cx="785.7" cy="104.6" r="1"/><circle cx="786.3" cy="92.1" r="1"/><circle cx="787" cy="84" r="1"/><circle cx="786.1" cy="81.8" r="1"/><circle cx="785.7" cy="92.4" r="1"/><circle cx="783.2" cy="103.8" r="1"/><circle cx="786.2" cy="102.6" r="1"/><circle cx="783.1" cy="96.9" r="1"/><circle cx="787.4" cy="99.6" r="1"/><circle cx="787.6" cy="96.9" r="1"/><circle cx="787.1" cy="95.3" r="1"/><circle cx="783.8" cy="82.8" r="1"/><circle cx="785.6" cy="101.4" r="1"/><circle cx="785.8" cy="100" r="1"/><circle cx="786.6" cy="98.9" r="1"/><circle cx="787" cy="89.9" r="1"/><circle cx="783.1" cy="93.8" r="1"/><circle cx="783.6" cy="91.1" r="1"/><circle cx="782.6" cy="89.6" r="1"/><circle cx="787.6" cy="89.8" r="1"/><circle cx="785.1" cy="87.3" r="1"/><circle cx="785.6" cy="95" r="1"/><circle cx="787.1" cy="92.5" r="1"/><circle cx="783.5" cy="98.3" r="1"/><circle cx="784.2" cy="95.4" r="1"/><circle cx="785.9" cy="96.2" r="1"/><circle cx="784.4" cy="102" r="1"/><circle cx="786.4" cy="90.8" r="1"/><circle cx="784.6" cy="92.5" r="1"/><circle cx="785.5" cy="89" r="1"/><circle cx="785.4" cy="91.7" r="1"/><circle cx="784.5" cy="96.4" r="1"/><circle cx="787.7" cy="96.7" r="1"/><circle cx="786.6" cy="87.3" r="1"/><circle cx="784" cy="91.8" r="1"/><circle cx="785.4" cy="95.2" r="1"/><circle cx="785.7" cy="95.2" r="1"/></g>
<g fill="#80c070" stroke="#6a8064" stroke-width="0.45"><circle cx="602.9" cy="82.3" r="1"/><circle cx="603.7" cy="105" r="1"/><circle cx="600.9" cy="105.9" r="1"/><circle cx="605.6" cy="105.2" r="1"/><circle cx="605.8" cy="83.6" r="1"/><circle cx="604.6" cy="77.8" r="1"/><circle cx="605.3" cy="109.3" r="1"/><circle cx="602.3" cy="83.2" r="1"/><circle cx="601.2" cy="81.9" r="1"/><circle cx="604.8" cy="110.2" r="1"/><circle cx="601.3" cy="105.4" r="1"/><circle cx="601.7" cy="82.2" r="1"/><circle cx="602.8" cy="111.1" r="1"/><circle cx="604.8" cy="73.4" r="1"/><circle cx="603.9" cy="105.9" r="1"/><circle cx="602.7" cy="83.8" r="1"/><circle cx="603.1" cy="107.5" r="1"/><circle cx="602.9" cy="82.8" r="1"/><circle cx="604.7" cy="72.6" r="1"/><circle cx="603.5" cy="122.5" r="1"/><circle cx="613.9" cy="84.9" r="1"/><circle cx="612.6" cy="80.1" r="1"/><circle cx="613.5" cy="103.8" r="1"/><circle cx="612.9" cy="86.2" r="1"/><circle cx="613.9" cy="84.7" r="1"/><circle cx="610.9" cy="103.3" r="1"/><circle cx="612.5" cy="83.9" r="1"/><circle cx="614.3" cy="86.5" r="1"/><circle cx="612.5" cy="103.8" r="1"/><circle cx="612.8" cy="84.4" r="1"/><circle cx="612.7" cy="83.8" r="1"/><circle cx="613.9" cy="114" r="1"/><circle cx="612.1" cy="102.5" r="1"/><circle cx="614.8" cy="104.8" r="1"/><circle cx="610.8" cy="104.5" r="1"/><circle cx="612.7" cy="104.2" r="1"/><circle cx="613" cy="113.8" r="1"/><circle cx="611.6" cy="86.2" r="1"/><circle cx="612.4" cy="108.5" r="1"/><circle cx="611.5" cy="86.2" r="1"/><circle cx="614.7" cy="106.1" r="1"/><circle cx="613.7" cy="104.5" r="1"/><circle cx="615.4" cy="86.7" r="1"/><circle cx="612.9" cy="117" r="1"/><circle cx="614.9" cy="108.4" r="1"/><circle cx="613.8" cy="105.6" r="1"/><circle cx="613.7" cy="106.8" r="1"/><circle cx="612.3" cy="82.4" r="1"/><circle cx="613.3" cy="116.7" r="1"/><circle cx="624.6" cy="109.1" r="1"/><circle cx="624.3" cy="109.3" r="1"/><circle cx="625" cy="104.8" r="1"/><circle cx="622.2" cy="116" r="1"/><circle cx="624.2" cy="105.5" r="1"/><circle cx="624.3" cy="105.2" r="1"/><circle cx="623.6" cy="116.5" r="1"/><circle cx="624.8" cy="109.2" r="1"/><circle cx="623.6" cy="111.7" r="1"/><circle cx="622.6" cy="81.9" r="1"/><circle cx="621.1" cy="112.2" r="1"/><circle cx="623.5" cy="108.3" r="1"/><circle cx="621.3" cy="119.5" r="1"/><circle cx="622" cy="111.7" r="1"/><circle cx="623.2" cy="105.9" r="1"/><circle cx="623.5" cy="109.5" r="1"/><circle cx="623.9" cy="80.2" r="1"/><circle cx="623.9" cy="105.2" r="1"/><circle cx="622.8" cy="80.3" r="1"/><circle cx="622.6" cy="128.2" r="1"/><circle cx="632.6" cy="137.5" r="1"/><circle cx="632.1" cy="115.9" r="1"/><circle cx="632" cy="72" r="1"/><circle cx="631.7" cy="141.2" r="1"/><circle cx="629.7" cy="114.9" r="1"/><circle cx="631.4" cy="123.3" r="1"/><circle cx="632" cy="70" r="1"/><circle cx="631.2" cy="133.7" r="1"/><circle cx="632.9" cy="67.2" r="1"/><circle cx="630.1" cy="113" r="1"/><circle cx="632.7" cy="145.6" r="1"/><circle cx="630.7" cy="132.5" r="1"/><circle cx="631.1" cy="74" r="1"/><circle cx="634" cy="117" r="1"/><circle cx="632.2" cy="120.2" r="1"/><circle cx="633.8" cy="71.7" r="1"/><circle cx="631.9" cy="115.2" r="1"/><circle cx="632.7" cy="113.9" r="1"/><circle cx="631.9" cy="60.5" r="1"/><circle cx="632.4" cy="143.8" r="1"/><circle cx="649.4" cy="80.6" r="1"/><circle cx="652.4" cy="129.2" r="1"/><circle cx="651" cy="112.5" r="1"/><circle cx="649" cy="116.7" r="1"/><circle cx="652.3" cy="128.7" r="1"/><circle cx="651.8" cy="121.7" r="1"/><circle cx="649.2" cy="71.3" r="1"/><circle cx="652.1" cy="114.4" r="1"/><circle cx="650.3" cy="77" r="1"/><circle cx="649.4" cy="116.1" r="1"/><circle cx="651.4" cy="72.4" r="1"/><circle cx="649.1" cy="73.6" r="1"/><circle cx="649.6" cy="115.5" r="1"/><circle cx="650.4" cy="112.1" r="1"/><circle cx="652.9" cy="72.6" r="1"/><circle cx="651.7" cy="117.4" r="1"/><circle cx="651.1" cy="112.9" r="1"/><circle cx="649.5" cy="112.7" r="1"/><circle cx="651.9" cy="73.1" r="1"/><circle cx="652" cy="122.2" r="1"/><circle cx="650.3" cy="113.6" r="1"/><circle cx="652.7" cy="119.1" r="1"/><circle cx="650.3" cy="129.8" r="1"/><circle cx="651.1" cy="124.9" r="1"/><circle cx="651.5" cy="64.5" r="1"/><circle cx="651.3" cy="134.8" r="1"/><circle cx="658.9" cy="75.4" r="1"/><circle cx="661" cy="82.8" r="1"/><circle cx="658.8" cy="109.8" r="1"/><circle cx="660" cy="79.6" r="1"/><circle cx="662.5" cy="80.4" r="1"/><circle cx="660.9" cy="117" r="1"/><circle cx="662.3" cy="111.8" r="1"/><circle cx="662.7" cy="109.9" r="1"/><circle cx="658.5" cy="113.9" r="1"/><circle cx="661.3" cy="113.7" r="1"/><circle cx="661.9" cy="81" r="1"/><circle cx="661.3" cy="76.2" r="1"/><circle cx="659.8" cy="128.3" r="1"/><circle cx="663.1" cy="110.4" r="1"/><circle cx="661.2" cy="80.1" r="1"/><circle cx="660.5" cy="77.6" r="1"/><circle cx="662.4" cy="81.2" r="1"/><circle cx="658.7" cy="110.1" r="1"/><circle cx="658.6" cy="111.8" r="1"/><circle cx="660" cy="114.4" r="1"/><circle cx="658.7" cy="75.2" r="1"/><circle cx="661.3" cy="129.6" r="1"/><circle cx="668.3" cy="110.8" r="1"/><circle cx="669.4" cy="117.9" r="1"/><circle cx="669.1" cy="78.6" r="1"/><circle cx="670.4" cy="72.2" r="1"/><circle cx="669.1" cy="125.5" r="1"/><circle cx="669" cy="80.5" r="1"/><circle cx="670.3" cy="113.2" r="1"/><circle cx="671.7" cy="81.5" r="1"/><circle cx="670.2" cy="115.6" r="1"/><circle cx="670.7" cy="71.5" r="1"/><circle cx="668.4" cy="69.4" r="1"/><circle cx="671.5" cy="122" r="1"/><circle cx="671.1" cy="79.8" r="1"/><circle cx="671.5" cy="112.3" r="1"/><circle cx="669.3" cy="68.4" r="1"/><circle cx="668.2" cy="118.3" r="1"/><circle cx="669.8" cy="116" r="1"/><circle cx="668.5" cy="117.7" r="1"/><circle cx="671" cy="68.2" r="1"/><circle cx="669.1" cy="81.8" r="1"/><circle cx="670" cy="67.4" r="1"/><circle cx="669.7" cy="137.6" r="1"/><circle cx="681.4" cy="111.6" r="1"/><circle cx="681.7" cy="109.1" r="1"/><circle cx="680" cy="75.5" r="1"/><circle cx="680.3" cy="116.2" r="1"/><circle cx="681.6" cy="113.9" r="1"/><circle cx="680.4" cy="115.8" r="1"/><circle cx="681.4" cy="110.3" r="1"/><circle cx="678.6" cy="74.3" r="1"/><circle cx="680.5" cy="131.5" r="1"/><circle cx="677.8" cy="108.6" r="1"/><circle cx="681.5" cy="109" r="1"/><circle cx="682" cy="72" r="1"/><circle cx="682.2" cy="111.4" r="1"/><circle cx="681.4" cy="111.4" r="1"/><circle cx="680.1" cy="77.3" r="1"/><circle cx="680.2" cy="75.7" r="1"/><circle cx="680.1" cy="75.6" r="1"/><circle cx="678.5" cy="109.4" r="1"/><circle cx="680.8" cy="122.3" r="1"/><circle cx="679.5" cy="79.1" r="1"/><circle cx="682" cy="80.2" r="1"/><circle cx="678.9" cy="107.7" r="1"/><circle cx="681.6" cy="118.9" r="1"/><circle cx="678" cy="71.6" r="1"/><circle cx="680.1" cy="77.7" r="1"/><circle cx="680.7" cy="65.7" r="1"/><circle cx="679.7" cy="131.9" r="1"/><circle cx="690.9" cy="117.2" r="1"/><circle cx="688.8" cy="110.9" r="1"/><circle cx="687.5" cy="108.7" r="1"/><circle cx="688.9" cy="71.1" r="1"/><circle cx="690.4" cy="122.8" r="1"/><circle cx="691" cy="82.3" r="1"/><circle cx="688.4" cy="76.6" r="1"/><circle cx="687.7" cy="116.3" r="1"/><circle cx="690.5" cy="120.3" r="1"/><circle cx="689.9" cy="81.1" r="1"/><circle cx="691.2" cy="114.2" r="1"/><circle cx="690" cy="109.1" r="1"/><circle cx="689" cy="124.7" r="1"/><circle cx="689.7" cy="117.6" r="1"/><circle cx="690.2" cy="84.5" r="1"/><circle cx="690.9" cy="83.7" r="1"/><circle cx="689.7" cy="116.9" r="1"/><circle cx="688.1" cy="111" r="1"/><circle cx="690.6" cy="115.6" r="1"/><circle cx="691.5" cy="110.8" r="1"/><circle cx="690.1" cy="68.5" r="1"/><circle cx="689.6" cy="124.4" r="1"/></g>
<g fill="#b0b8a8" stroke="#7a8074" stroke-width="0.5"><circle cx="508.4" cy="106.4" r="0.9"/><circle cx="509.1" cy="103.1" r="0.9"/><circle cx="509.5" cy="83" r="0.9"/><circle cx="506.9" cy="203" r="0.9"/><circle cx="518.1" cy="108.8" r="0.9"/><circle cx="518.5" cy="79" r="0.9"/><circle cx="518.8" cy="113.5" r="0.9"/><circle cx="516.6" cy="75.9" r="0.9"/><circle cx="517.4" cy="114" r="0.9"/><circle cx="517.6" cy="120" r="0.9"/><circle cx="516.7" cy="131.8" r="0.9"/><circle cx="528.9" cy="111.5" r="0.9"/><circle cx="526.1" cy="79" r="0.9"/><circle cx="527.4" cy="112.2" r="0.9"/><circle cx="525" cy="78.4" r="0.9"/><circle cx="524.8" cy="112.5" r="0.9"/><circle cx="527.1" cy="74.4" r="0.9"/><circle cx="526.7" cy="111.5" r="0.9"/><circle cx="535.8" cy="117.1" r="0.9"/><circle cx="536.2" cy="116.5" r="0.9"/><circle cx="535.2" cy="111" r="0.9"/><circle cx="547.2" cy="116.4" r="0.9"/><circle cx="544.4" cy="114" r="0.9"/><circle cx="545.5" cy="115.7" r="0.9"/><circle cx="546.3" cy="77.5" r="0.9"/><circle cx="547.1" cy="119.6" r="0.9"/><circle cx="544.8" cy="113.9" r="0.9"/><circle cx="545.4" cy="70.7" r="0.9"/><circle cx="545.2" cy="66" r="0.9"/><circle cx="546" cy="113.8" r="0.9"/><circle cx="556.8" cy="79.2" r="0.9"/><circle cx="555.6" cy="108.5" r="0.9"/><circle cx="556.5" cy="81.7" r="0.9"/><circle cx="556.1" cy="122.5" r="0.9"/><circle cx="555.6" cy="127.6" r="0.9"/><circle cx="565.4" cy="114" r="0.9"/><circle cx="566.2" cy="117.2" r="0.9"/><circle cx="565.5" cy="112.7" r="0.9"/><circle cx="563" cy="117.5" r="0.9"/><circle cx="565.1" cy="112.2" r="0.9"/><circle cx="567.2" cy="111.8" r="0.9"/><circle cx="565.6" cy="136.5" r="0.9"/><circle cx="576.1" cy="107.8" r="0.9"/><circle cx="574.5" cy="110.5" r="0.9"/><circle cx="573.4" cy="109.1" r="0.9"/><circle cx="573.4" cy="109.7" r="0.9"/><circle cx="574.5" cy="79.6" r="0.9"/><circle cx="583.6" cy="111.3" r="0.9"/><circle cx="582.3" cy="113.7" r="0.9"/><circle cx="583.5" cy="115.3" r="0.9"/><circle cx="583" cy="117.8" r="0.9"/><circle cx="584.9" cy="112" r="0.9"/><circle cx="584.5" cy="118" r="0.9"/><circle cx="594.2" cy="112.6" r="0.9"/><circle cx="594.3" cy="110.5" r="0.9"/><circle cx="594.5" cy="107.4" r="0.9"/><circle cx="592.3" cy="105.6" r="0.9"/><circle cx="594.4" cy="110.8" r="0.9"/><circle cx="593" cy="111.8" r="0.9"/><circle cx="593.5" cy="128.7" r="0.9"/><circle cx="593.1" cy="129" r="0.9"/><circle cx="602.9" cy="59.8" r="0.9"/><circle cx="603.1" cy="131.8" r="0.9"/><circle cx="603.3" cy="142.1" r="0.9"/><circle cx="602.8" cy="150.2" r="0.9"/><circle cx="603.1" cy="159.4" r="0.9"/><circle cx="612.7" cy="71.3" r="0.9"/><circle cx="613.3" cy="133" r="0.9"/><circle cx="612.7" cy="150" r="0.9"/><circle cx="613.4" cy="158" r="0.9"/><circle cx="621.6" cy="57" r="0.9"/><circle cx="622.1" cy="64" r="0.9"/><circle cx="622.3" cy="159.4" r="0.9"/><circle cx="632.5" cy="45.6" r="0.9"/><circle cx="632.4" cy="54" r="0.9"/><circle cx="632.3" cy="164" r="0.9"/><circle cx="631.7" cy="205" r="0.9"/><circle cx="641.5" cy="117.7" r="0.9"/><circle cx="640.6" cy="78.3" r="0.9"/><circle cx="642.5" cy="77.8" r="0.9"/><circle cx="641.5" cy="113.1" r="0.9"/><circle cx="640.6" cy="76.4" r="0.9"/><circle cx="642.7" cy="118.2" r="0.9"/><circle cx="641.7" cy="131.8" r="0.9"/><circle cx="650.4" cy="54.5" r="0.9"/><circle cx="661" cy="33.4" r="0.9"/><circle cx="661" cy="50.6" r="0.9"/><circle cx="670.2" cy="26.5" r="0.9"/><circle cx="670.9" cy="47.2" r="0.9"/><circle cx="670.6" cy="53" r="0.9"/><circle cx="669.9" cy="57.5" r="0.9"/><circle cx="670.7" cy="164" r="0.9"/><circle cx="697.1" cy="78.2" r="0.9"/><circle cx="701.2" cy="105.7" r="0.9"/><circle cx="699.4" cy="111.5" r="0.9"/><circle cx="700.9" cy="104.6" r="0.9"/><circle cx="697.7" cy="109.3" r="0.9"/><circle cx="699.6" cy="79" r="0.9"/><circle cx="698.9" cy="125" r="0.9"/><circle cx="710.5" cy="115" r="0.9"/><circle cx="710.2" cy="121.1" r="0.9"/><circle cx="709.2" cy="117.2" r="0.9"/><circle cx="709.1" cy="74.8" r="0.9"/><circle cx="719.8" cy="77.1" r="0.9"/><circle cx="719.8" cy="77.4" r="0.9"/><circle cx="717.5" cy="77.8" r="0.9"/><circle cx="718.5" cy="116" r="0.9"/><circle cx="719.7" cy="78.3" r="0.9"/><circle cx="717.9" cy="81" r="0.9"/><circle cx="717.7" cy="115" r="0.9"/><circle cx="718.8" cy="59.8" r="0.9"/><circle cx="717.8" cy="115.7" r="0.9"/><circle cx="718.8" cy="126" r="0.9"/><circle cx="728.1" cy="83.7" r="0.9"/><circle cx="726.2" cy="111.4" r="0.9"/><circle cx="727.4" cy="112.2" r="0.9"/><circle cx="728.6" cy="111.7" r="0.9"/><circle cx="727.7" cy="108" r="0.9"/><circle cx="729.2" cy="80.9" r="0.9"/><circle cx="727.5" cy="80.4" r="0.9"/><circle cx="737.7" cy="112" r="0.9"/><circle cx="735.2" cy="81.6" r="0.9"/><circle cx="735.8" cy="108" r="0.9"/><circle cx="737.8" cy="106" r="0.9"/><circle cx="737" cy="41.4" r="0.9"/><circle cx="736.8" cy="66.7" r="0.9"/><circle cx="736.7" cy="115.7" r="0.9"/><circle cx="738.1" cy="134" r="0.9"/><circle cx="748.9" cy="80.7" r="0.9"/><circle cx="745.5" cy="105.1" r="0.9"/><circle cx="748.4" cy="103.5" r="0.9"/><circle cx="746.2" cy="80.1" r="0.9"/><circle cx="746.7" cy="105.2" r="0.9"/><circle cx="746.2" cy="81.2" r="0.9"/><circle cx="748.9" cy="104.4" r="0.9"/><circle cx="756.8" cy="79.9" r="0.9"/><circle cx="755.2" cy="103.6" r="0.9"/><circle cx="754.7" cy="103.8" r="0.9"/><circle cx="755.3" cy="108.2" r="0.9"/><circle cx="757.3" cy="103.4" r="0.9"/><circle cx="757" cy="81.4" r="0.9"/><circle cx="758.5" cy="107" r="0.9"/><circle cx="756.1" cy="74.8" r="0.9"/><circle cx="767.6" cy="111.9" r="0.9"/><circle cx="765.4" cy="112.8" r="0.9"/><circle cx="765.1" cy="115.1" r="0.9"/><circle cx="764" cy="76.6" r="0.9"/><circle cx="766.9" cy="115.3" r="0.9"/><circle cx="773.6" cy="112.5" r="0.9"/><circle cx="776" cy="72.3" r="0.9"/><circle cx="774.6" cy="76.6" r="0.9"/><circle cx="777" cy="112.6" r="0.9"/><circle cx="774.2" cy="73.2" r="0.9"/><circle cx="785.8" cy="76.9" r="0.9"/><circle cx="785.9" cy="112.6" r="0.9"/><circle cx="783.8" cy="109.4" r="0.9"/><circle cx="786.9" cy="110" r="0.9"/></g>
<path d="M504.2 95h6.8M513.8 94.7h6.8M523.3 94h6.8M532.9 94.5h6.8M542.5 94.2h6.8M552.1 94.9h6.8M561.6 95.5h6.8M571.2 95h6.8M580.8 95.1h6.8M590.3 95.5h6.8M599.9 94.5h6.8M609.5 94.5h6.8M619 93.5h6.8M628.6 94.5h6.8M638.2 93h6.8M647.8 97.5h6.8M657.3 97.5h6.8M666.9 96.5h6.8M676.5 94.5h6.8M686 96.5h6.8M695.6 94.9h6.8M705.2 94.3h6.8M714.7 94.2h6.8M724.3 95.7h6.8M733.9 95.6h6.8M743.5 95.6h6.8M753 94h6.8M762.6 94.4h6.8M772.2 94.3h6.8M781.7 95.1h6.8" stroke="#111" stroke-width="1.1"/>
<path d="M601.3 71.3h4M601.3 122.6h4M610.9 79.4h4M610.9 119h4M620.4 79.4h4M620.4 129.5h4M630 58.7h4M630 146.7h4M649.2 63.3h4M649.2 137.5h4M658.7 72.5h4M658.7 131.8h4M668.3 66.7h4M668.3 138.7h4M677.9 65.6h4M677.9 133h4M687.4 67.9h4M687.4 124.9h4" stroke="#555" stroke-width="0.7"/>
<g fill="#dcd83c" stroke="#33311a" stroke-width="1.15"><circle cx="511" cy="314.6" r="2.35"/><circle cx="511.2" cy="311.9" r="2.35"/><circle cx="511.3" cy="329" r="2.35"/><circle cx="511.4" cy="322.5" r="2.35"/><circle cx="511.5" cy="325.1" r="2.35"/><circle cx="511.7" cy="305.9" r="2.35"/><circle cx="511.7" cy="306.1" r="2.35"/><circle cx="511.9" cy="330.8" r="2.35"/><circle cx="512" cy="322.6" r="2.35"/><circle cx="512.1" cy="313.5" r="2.35"/><circle cx="512.2" cy="314.1" r="2.35"/><circle cx="512.4" cy="317.6" r="2.35"/><circle cx="512.5" cy="314.6" r="2.35"/><circle cx="512.6" cy="317.2" r="2.35"/><circle cx="512.7" cy="326.5" r="2.35"/><circle cx="512.8" cy="318.3" r="2.35"/><circle cx="513" cy="329.6" r="2.35"/><circle cx="513.1" cy="324.7" r="2.35"/><circle cx="513.2" cy="325.2" r="2.35"/><circle cx="513.3" cy="326.3" r="2.35"/><circle cx="513.5" cy="330.4" r="2.35"/><circle cx="513.6" cy="323.9" r="2.35"/><circle cx="513.6" cy="323.9" r="2.35"/><circle cx="513.8" cy="313.1" r="2.35"/><circle cx="513.9" cy="328.7" r="2.35"/><circle cx="514" cy="325.3" r="2.35"/><circle cx="514.1" cy="326.6" r="2.35"/><circle cx="514.2" cy="332.2" r="2.35"/><circle cx="514.4" cy="307.7" r="2.35"/><circle cx="514.5" cy="318.2" r="2.35"/><circle cx="514.6" cy="311.3" r="2.35"/><circle cx="514.7" cy="313" r="2.35"/><circle cx="514.8" cy="315.5" r="2.35"/><circle cx="514.9" cy="320.7" r="2.35"/><circle cx="515.1" cy="310.5" r="2.35"/><circle cx="515.1" cy="317" r="2.35"/><circle cx="515.3" cy="322.2" r="2.35"/><circle cx="515.4" cy="322.4" r="2.35"/><circle cx="515.5" cy="323.1" r="2.35"/><circle cx="515.7" cy="310.2" r="2.35"/><circle cx="515.7" cy="316.4" r="2.35"/><circle cx="515.9" cy="319" r="2.35"/><circle cx="516" cy="311" r="2.35"/><circle cx="516.1" cy="322.6" r="2.35"/><circle cx="516.2" cy="313.7" r="2.35"/><circle cx="516.4" cy="316.5" r="2.35"/><circle cx="516.5" cy="308.6" r="2.35"/><circle cx="516.6" cy="313.3" r="2.35"/><circle cx="516.8" cy="317.6" r="2.35"/><circle cx="516.8" cy="314.6" r="2.35"/><circle cx="517" cy="308.4" r="2.35"/><circle cx="517" cy="330.3" r="2.35"/><circle cx="517.2" cy="329.6" r="2.35"/><circle cx="517.3" cy="322" r="2.35"/><circle cx="517.4" cy="324.2" r="2.35"/><circle cx="517.6" cy="319.6" r="2.35"/><circle cx="517.7" cy="313.3" r="2.35"/><circle cx="517.8" cy="332.3" r="2.35"/><circle cx="517.9" cy="319.4" r="2.35"/><circle cx="518" cy="330.7" r="2.35"/><circle cx="518.1" cy="308.2" r="2.35"/><circle cx="518.2" cy="315.6" r="2.35"/><circle cx="518.4" cy="314" r="2.35"/><circle cx="518.5" cy="315.1" r="2.35"/><circle cx="518.5" cy="315.9" r="2.35"/><circle cx="518.8" cy="310.2" r="2.35"/><circle cx="518.9" cy="318.1" r="2.35"/><circle cx="518.9" cy="318.6" r="2.35"/><circle cx="519.1" cy="329.1" r="2.35"/><circle cx="519.2" cy="332.6" r="2.35"/><circle cx="519.3" cy="315.4" r="2.35"/><circle cx="519.5" cy="326.6" r="2.35"/><circle cx="519.5" cy="317.8" r="2.35"/><circle cx="519.6" cy="318.2" r="2.35"/><circle cx="519.7" cy="316.7" r="2.35"/><circle cx="519.9" cy="319.7" r="2.35"/><circle cx="520" cy="324.6" r="2.35"/><circle cx="520.1" cy="307.6" r="2.35"/><circle cx="520.2" cy="309.3" r="2.35"/><circle cx="520.4" cy="314.3" r="2.35"/><circle cx="520.5" cy="321.5" r="2.35"/><circle cx="520.6" cy="316.1" r="2.35"/><circle cx="520.8" cy="328" r="2.35"/><circle cx="520.8" cy="311.5" r="2.35"/><circle cx="520.9" cy="295.8" r="2.35"/><circle cx="521" cy="308.9" r="2.35"/><circle cx="521.2" cy="314.5" r="2.35"/><circle cx="521.4" cy="311.7" r="2.35"/><circle cx="521.4" cy="310.7" r="2.35"/><circle cx="521.5" cy="319.2" r="2.35"/><circle cx="521.6" cy="306.9" r="2.35"/><circle cx="521.8" cy="316.3" r="2.35"/><circle cx="521.9" cy="307.9" r="2.35"/><circle cx="522" cy="321.4" r="2.35"/><circle cx="522.1" cy="309.1" r="2.35"/><circle cx="522.3" cy="314.1" r="2.35"/><circle cx="522.4" cy="331.6" r="2.35"/><circle cx="522.5" cy="326.7" r="2.35"/><circle cx="522.6" cy="316.3" r="2.35"/><circle cx="522.8" cy="294.9" r="2.35"/><circle cx="522.8" cy="320.5" r="2.35"/><circle cx="522.9" cy="315.9" r="2.35"/><circle cx="523" cy="326.9" r="2.35"/><circle cx="523.2" cy="316.5" r="2.35"/><circle cx="523.3" cy="319.1" r="2.35"/><circle cx="523.5" cy="319.1" r="2.35"/><circle cx="523.5" cy="321.5" r="2.35"/><circle cx="523.6" cy="322" r="2.35"/><circle cx="523.8" cy="332.2" r="2.35"/><circle cx="523.9" cy="334.4" r="2.35"/><circle cx="524" cy="311.3" r="2.35"/><circle cx="524.1" cy="320.9" r="2.35"/><circle cx="524.2" cy="326.8" r="2.35"/><circle cx="524.4" cy="332.8" r="2.35"/><circle cx="524.5" cy="321.7" r="2.35"/><circle cx="524.6" cy="315.3" r="2.35"/><circle cx="524.7" cy="312.1" r="2.35"/><circle cx="524.9" cy="317.6" r="2.35"/><circle cx="525" cy="315.7" r="2.35"/><circle cx="525.1" cy="321.5" r="2.35"/><circle cx="525.1" cy="333.9" r="2.35"/><circle cx="525.3" cy="336.6" r="2.35"/><circle cx="525.5" cy="319" r="2.35"/><circle cx="525.6" cy="325.3" r="2.35"/><circle cx="525.7" cy="329" r="2.35"/><circle cx="525.7" cy="335.8" r="2.35"/><circle cx="525.9" cy="319" r="2.35"/><circle cx="526" cy="320" r="2.35"/><circle cx="526.1" cy="326.6" r="2.35"/><circle cx="526.2" cy="316.8" r="2.35"/><circle cx="526.4" cy="309.8" r="2.35"/><circle cx="526.4" cy="330.9" r="2.35"/><circle cx="526.6" cy="330.1" r="2.35"/><circle cx="526.7" cy="304.8" r="2.35"/><circle cx="526.8" cy="319.6" r="2.35"/><circle cx="526.9" cy="317.4" r="2.35"/><circle cx="527" cy="317.9" r="2.35"/><circle cx="527.2" cy="329.6" r="2.35"/><circle cx="527.2" cy="315.6" r="2.35"/><circle cx="527.4" cy="315.4" r="2.35"/><circle cx="527.5" cy="324.5" r="2.35"/><circle cx="527.7" cy="310" r="2.35"/><circle cx="527.8" cy="322.3" r="2.35"/><circle cx="527.9" cy="319.5" r="2.35"/><circle cx="528" cy="306.9" r="2.35"/><circle cx="528.2" cy="317.7" r="2.35"/><circle cx="528.3" cy="312.1" r="2.35"/><circle cx="528.3" cy="320.9" r="2.35"/><circle cx="528.4" cy="307.7" r="2.35"/><circle cx="528.6" cy="314.7" r="2.35"/><circle cx="528.7" cy="321.8" r="2.35"/><circle cx="528.8" cy="335.7" r="2.35"/><circle cx="528.9" cy="320.8" r="2.35"/><circle cx="529" cy="317.2" r="2.35"/><circle cx="529.2" cy="316.4" r="2.35"/><circle cx="529.3" cy="323.6" r="2.35"/><circle cx="529.4" cy="316.2" r="2.35"/><circle cx="529.5" cy="311.8" r="2.35"/><circle cx="529.7" cy="316" r="2.35"/><circle cx="529.8" cy="333.8" r="2.35"/><circle cx="529.9" cy="305.7" r="2.35"/><circle cx="530" cy="326.6" r="2.35"/><circle cx="530.2" cy="310.3" r="2.35"/><circle cx="530.2" cy="319" r="2.35"/><circle cx="530.4" cy="313.2" r="2.35"/><circle cx="530.5" cy="312.4" r="2.35"/><circle cx="530.6" cy="317.3" r="2.35"/><circle cx="530.8" cy="328.8" r="2.35"/><circle cx="530.8" cy="312.2" r="2.35"/><circle cx="531" cy="328.1" r="2.35"/><circle cx="531.1" cy="310.5" r="2.35"/><circle cx="531.2" cy="334.1" r="2.35"/><circle cx="531.3" cy="328.4" r="2.35"/><circle cx="531.4" cy="315.3" r="2.35"/><circle cx="531.6" cy="317" r="2.35"/><circle cx="531.6" cy="320.4" r="2.35"/><circle cx="531.7" cy="324.8" r="2.35"/><circle cx="531.8" cy="313.6" r="2.35"/><circle cx="532" cy="316.6" r="2.35"/><circle cx="532.1" cy="309" r="2.35"/><circle cx="532.3" cy="306.1" r="2.35"/><circle cx="532.3" cy="318.8" r="2.35"/><circle cx="532.5" cy="316.4" r="2.35"/><circle cx="532.6" cy="300" r="2.35"/><circle cx="532.7" cy="309.1" r="2.35"/><circle cx="532.9" cy="327.2" r="2.35"/><circle cx="532.9" cy="303.2" r="2.35"/><circle cx="533.1" cy="328.5" r="2.35"/><circle cx="533.2" cy="314.9" r="2.35"/><circle cx="533.3" cy="321.5" r="2.35"/><circle cx="533.4" cy="323" r="2.35"/><circle cx="533.5" cy="325.2" r="2.35"/><circle cx="533.6" cy="312" r="2.35"/><circle cx="533.8" cy="312.1" r="2.35"/><circle cx="533.9" cy="312.9" r="2.35"/><circle cx="534" cy="305.3" r="2.35"/><circle cx="534.1" cy="306.8" r="2.35"/><circle cx="534.3" cy="315.4" r="2.35"/><circle cx="534.4" cy="331.4" r="2.35"/><circle cx="534.5" cy="325.5" r="2.35"/><circle cx="534.7" cy="322.7" r="2.35"/><circle cx="534.8" cy="323.1" r="2.35"/><circle cx="534.9" cy="334" r="2.35"/><circle cx="535" cy="308.4" r="2.35"/><circle cx="535.1" cy="323.8" r="2.35"/><circle cx="535.2" cy="317" r="2.35"/><circle cx="535.3" cy="322.8" r="2.35"/><circle cx="535.4" cy="324.4" r="2.35"/><circle cx="535.6" cy="313.1" r="2.35"/><circle cx="535.6" cy="326.5" r="2.35"/><circle cx="535.8" cy="310.9" r="2.35"/><circle cx="535.9" cy="316.5" r="2.35"/><circle cx="536.1" cy="319.5" r="2.35"/><circle cx="536.1" cy="323.8" r="2.35"/><circle cx="536.3" cy="319.1" r="2.35"/><circle cx="536.3" cy="308.1" r="2.35"/><circle cx="536.5" cy="335.5" r="2.35"/><circle cx="536.6" cy="329.8" r="2.35"/><circle cx="536.7" cy="307.6" r="2.35"/><circle cx="536.9" cy="315.2" r="2.35"/><circle cx="537" cy="323" r="2.35"/><circle cx="537.1" cy="311.5" r="2.35"/><circle cx="537.2" cy="320.1" r="2.35"/><circle cx="537.3" cy="315.3" r="2.35"/><circle cx="537.4" cy="304.5" r="2.35"/><circle cx="537.5" cy="326" r="2.35"/><circle cx="537.6" cy="308.9" r="2.35"/><circle cx="537.8" cy="317.8" r="2.35"/><circle cx="537.8" cy="326.8" r="2.35"/><circle cx="538" cy="315.7" r="2.35"/><circle cx="538.1" cy="332" r="2.35"/><circle cx="538.2" cy="315.6" r="2.35"/><circle cx="538.4" cy="330.7" r="2.35"/><circle cx="538.5" cy="318.1" r="2.35"/><circle cx="538.6" cy="318" r="2.35"/><circle cx="538.7" cy="319.7" r="2.35"/><circle cx="538.8" cy="323.4" r="2.35"/><circle cx="538.9" cy="324.3" r="2.35"/><circle cx="539.1" cy="335.4" r="2.35"/><circle cx="539.2" cy="309.1" r="2.35"/><circle cx="539.3" cy="312.1" r="2.35"/><circle cx="539.4" cy="317.3" r="2.35"/><circle cx="539.5" cy="315.6" r="2.35"/><circle cx="539.6" cy="313.5" r="2.35"/><circle cx="539.8" cy="331.4" r="2.35"/><circle cx="539.9" cy="317" r="2.35"/><circle cx="540" cy="328.5" r="2.35"/><circle cx="540.1" cy="314.6" r="2.35"/><circle cx="540.2" cy="304" r="2.35"/><circle cx="540.4" cy="320.8" r="2.35"/><circle cx="540.4" cy="317.2" r="2.35"/><circle cx="540.6" cy="307.8" r="2.35"/><circle cx="540.7" cy="314.9" r="2.35"/><circle cx="540.8" cy="330.1" r="2.35"/><circle cx="541" cy="312.3" r="2.35"/><circle cx="541.1" cy="323.8" r="2.35"/><circle cx="541.1" cy="326.9" r="2.35"/><circle cx="541.3" cy="329.1" r="2.35"/><circle cx="541.5" cy="315.7" r="2.35"/><circle cx="541.5" cy="315.6" r="2.35"/><circle cx="541.7" cy="306.7" r="2.35"/><circle cx="541.7" cy="317.6" r="2.35"/><circle cx="541.9" cy="333.4" r="2.35"/><circle cx="542" cy="319.5" r="2.35"/><circle cx="542.2" cy="326.7" r="2.35"/><circle cx="542.2" cy="299.9" r="2.35"/><circle cx="542.3" cy="328.3" r="2.35"/><circle cx="542.5" cy="301.1" r="2.35"/><circle cx="542.6" cy="309.2" r="2.35"/><circle cx="542.7" cy="311.3" r="2.35"/><circle cx="542.8" cy="329.9" r="2.35"/><circle cx="543" cy="307.7" r="2.35"/><circle cx="543.1" cy="323.5" r="2.35"/><circle cx="543.2" cy="322.8" r="2.35"/><circle cx="543.3" cy="312.1" r="2.35"/><circle cx="543.4" cy="319.5" r="2.35"/><circle cx="543.6" cy="320.5" r="2.35"/><circle cx="543.7" cy="323.8" r="2.35"/><circle cx="543.8" cy="329.4" r="2.35"/><circle cx="543.8" cy="315.7" r="2.35"/><circle cx="544.1" cy="326.9" r="2.35"/><circle cx="544.1" cy="311.7" r="2.35"/><circle cx="544.3" cy="330.2" r="2.35"/><circle cx="544.4" cy="313.3" r="2.35"/><circle cx="544.5" cy="335.7" r="2.35"/><circle cx="544.6" cy="319.7" r="2.35"/><circle cx="544.7" cy="330.3" r="2.35"/><circle cx="544.8" cy="318.8" r="2.35"/><circle cx="545" cy="333.3" r="2.35"/><circle cx="545.1" cy="311.3" r="2.35"/><circle cx="545.1" cy="319" r="2.35"/><circle cx="545.3" cy="324.6" r="2.35"/><circle cx="545.4" cy="296.6" r="2.35"/><circle cx="545.5" cy="315.1" r="2.35"/><circle cx="545.7" cy="329" r="2.35"/><circle cx="545.8" cy="324" r="2.35"/><circle cx="545.9" cy="305.9" r="2.35"/><circle cx="546" cy="323.2" r="2.35"/><circle cx="546.1" cy="318.4" r="2.35"/><circle cx="546.2" cy="322" r="2.35"/><circle cx="546.3" cy="325.3" r="2.35"/><circle cx="546.5" cy="338.1" r="2.35"/><circle cx="546.6" cy="304.5" r="2.35"/><circle cx="546.7" cy="338" r="2.35"/><circle cx="546.8" cy="318.5" r="2.35"/><circle cx="547" cy="323.7" r="2.35"/><circle cx="547.1" cy="326.8" r="2.35"/><circle cx="547.2" cy="321.2" r="2.35"/><circle cx="547.3" cy="326.1" r="2.35"/><circle cx="547.4" cy="317.2" r="2.35"/><circle cx="547.6" cy="315.2" r="2.35"/><circle cx="547.6" cy="321.2" r="2.35"/><circle cx="547.8" cy="314.5" r="2.35"/><circle cx="547.9" cy="329.7" r="2.35"/><circle cx="548" cy="323.8" r="2.35"/><circle cx="548.2" cy="316.5" r="2.35"/><circle cx="548.2" cy="318.3" r="2.35"/><circle cx="548.3" cy="300.3" r="2.35"/><circle cx="548.5" cy="315.2" r="2.35"/><circle cx="548.6" cy="324.5" r="2.35"/><circle cx="548.8" cy="312.8" r="2.35"/><circle cx="548.9" cy="323.9" r="2.35"/><circle cx="549" cy="317.7" r="2.35"/><circle cx="549" cy="331.9" r="2.35"/><circle cx="549.2" cy="310.8" r="2.35"/><circle cx="549.3" cy="306" r="2.35"/><circle cx="549.4" cy="335.3" r="2.35"/><circle cx="549.5" cy="319.6" r="2.35"/><circle cx="549.6" cy="311.9" r="2.35"/><circle cx="549.8" cy="308.7" r="2.35"/><circle cx="549.9" cy="313" r="2.35"/><circle cx="550" cy="318.6" r="2.35"/><circle cx="550.1" cy="315.6" r="2.35"/><circle cx="550.2" cy="303.6" r="2.35"/><circle cx="550.4" cy="328.8" r="2.35"/><circle cx="550.5" cy="322.9" r="2.35"/><circle cx="550.6" cy="318" r="2.35"/><circle cx="550.7" cy="313" r="2.35"/><circle cx="550.9" cy="328.6" r="2.35"/><circle cx="551" cy="319.7" r="2.35"/><circle cx="551" cy="309.7" r="2.35"/><circle cx="551.2" cy="311.5" r="2.35"/><circle cx="551.3" cy="312.5" r="2.35"/><circle cx="551.4" cy="321.1" r="2.35"/><circle cx="551.6" cy="321.3" r="2.35"/><circle cx="551.6" cy="320.3" r="2.35"/><circle cx="551.7" cy="320.6" r="2.35"/><circle cx="551.9" cy="317.9" r="2.35"/><circle cx="552" cy="325.6" r="2.35"/><circle cx="552.1" cy="322" r="2.35"/><circle cx="552.3" cy="326.3" r="2.35"/><circle cx="552.4" cy="317.4" r="2.35"/><circle cx="552.5" cy="311.2" r="2.35"/><circle cx="552.6" cy="325.9" r="2.35"/><circle cx="552.7" cy="309" r="2.35"/><circle cx="552.9" cy="331.1" r="2.35"/><circle cx="552.9" cy="311.9" r="2.35"/><circle cx="553.1" cy="325.9" r="2.35"/><circle cx="553.1" cy="334.4" r="2.35"/><circle cx="553.3" cy="320.5" r="2.35"/><circle cx="553.5" cy="325.3" r="2.35"/><circle cx="553.6" cy="316.7" r="2.35"/><circle cx="553.7" cy="310" r="2.35"/><circle cx="553.8" cy="323.9" r="2.35"/><circle cx="553.8" cy="315" r="2.35"/><circle cx="554" cy="322.8" r="2.35"/><circle cx="554.1" cy="323.3" r="2.35"/><circle cx="554.2" cy="324.9" r="2.35"/><circle cx="554.4" cy="327.7" r="2.35"/><circle cx="554.5" cy="323.6" r="2.35"/><circle cx="554.6" cy="312.1" r="2.35"/><circle cx="554.7" cy="323.8" r="2.35"/><circle cx="554.8" cy="323.4" r="2.35"/><circle cx="554.9" cy="325.9" r="2.35"/><circle cx="555.1" cy="334.5" r="2.35"/><circle cx="555.2" cy="331" r="2.35"/><circle cx="555.3" cy="308.4" r="2.35"/><circle cx="555.4" cy="325.9" r="2.35"/><circle cx="555.5" cy="313.9" r="2.35"/><circle cx="555.7" cy="307.1" r="2.35"/><circle cx="555.8" cy="309.6" r="2.35"/><circle cx="555.9" cy="316.6" r="2.35"/><circle cx="556" cy="318.9" r="2.35"/><circle cx="556.2" cy="316.1" r="2.35"/><circle cx="556.3" cy="314.2" r="2.35"/><circle cx="556.3" cy="330.3" r="2.35"/><circle cx="556.5" cy="319.4" r="2.35"/><circle cx="556.6" cy="317.3" r="2.35"/><circle cx="556.7" cy="330.1" r="2.35"/><circle cx="556.8" cy="311.8" r="2.35"/><circle cx="556.9" cy="309.8" r="2.35"/><circle cx="557.1" cy="320.4" r="2.35"/><circle cx="557.2" cy="333.9" r="2.35"/><circle cx="557.3" cy="310.8" r="2.35"/><circle cx="557.4" cy="312.7" r="2.35"/><circle cx="557.5" cy="323.9" r="2.35"/><circle cx="557.7" cy="309.8" r="2.35"/><circle cx="557.8" cy="324.4" r="2.35"/><circle cx="557.9" cy="327.5" r="2.35"/><circle cx="558" cy="328.1" r="2.35"/><circle cx="558.2" cy="316.5" r="2.35"/><circle cx="558.3" cy="300.7" r="2.35"/><circle cx="558.3" cy="310.7" r="2.35"/><circle cx="558.5" cy="307.1" r="2.35"/><circle cx="558.6" cy="317.3" r="2.35"/><circle cx="558.7" cy="314.7" r="2.35"/><circle cx="558.8" cy="319.1" r="2.35"/><circle cx="558.9" cy="327.6" r="2.35"/><circle cx="559.1" cy="334.3" r="2.35"/><circle cx="559.2" cy="313.8" r="2.35"/><circle cx="559.3" cy="320.4" r="2.35"/><circle cx="559.4" cy="313.9" r="2.35"/><circle cx="559.5" cy="316.6" r="2.35"/><circle cx="559.6" cy="313.7" r="2.35"/><circle cx="559.8" cy="307.9" r="2.35"/><circle cx="559.9" cy="331.5" r="2.35"/><circle cx="560.1" cy="312.9" r="2.35"/><circle cx="560.1" cy="321.6" r="2.35"/><circle cx="560.3" cy="311.6" r="2.35"/><circle cx="560.3" cy="319.9" r="2.35"/><circle cx="560.5" cy="298.5" r="2.35"/><circle cx="560.6" cy="309.1" r="2.35"/><circle cx="560.8" cy="326.8" r="2.35"/><circle cx="560.9" cy="325.6" r="2.35"/><circle cx="560.9" cy="321" r="2.35"/><circle cx="561.1" cy="325.4" r="2.35"/><circle cx="561.2" cy="327.2" r="2.35"/><circle cx="561.3" cy="332.5" r="2.35"/><circle cx="561.4" cy="311.8" r="2.35"/><circle cx="561.6" cy="336.5" r="2.35"/><circle cx="561.6" cy="337.4" r="2.35"/><circle cx="561.8" cy="316.3" r="2.35"/><circle cx="561.9" cy="318" r="2.35"/><circle cx="562" cy="333.5" r="2.35"/><circle cx="562.1" cy="325" r="2.35"/><circle cx="562.2" cy="322" r="2.35"/><circle cx="562.4" cy="300" r="2.35"/><circle cx="562.5" cy="329.5" r="2.35"/><circle cx="562.7" cy="306.4" r="2.35"/><circle cx="562.7" cy="312.9" r="2.35"/><circle cx="562.8" cy="305.7" r="2.35"/><circle cx="562.9" cy="321.2" r="2.35"/><circle cx="563.1" cy="328.2" r="2.35"/><circle cx="563.1" cy="313.6" r="2.35"/><circle cx="563.4" cy="318.6" r="2.35"/><circle cx="563.4" cy="319.2" r="2.35"/><circle cx="563.6" cy="319.6" r="2.35"/><circle cx="563.6" cy="323.6" r="2.35"/><circle cx="563.8" cy="314" r="2.35"/><circle cx="563.9" cy="322.1" r="2.35"/><circle cx="564" cy="309.6" r="2.35"/><circle cx="564.2" cy="301.2" r="2.35"/><circle cx="564.2" cy="323.4" r="2.35"/><circle cx="564.3" cy="326.4" r="2.35"/><circle cx="564.5" cy="319.7" r="2.35"/><circle cx="564.6" cy="318.2" r="2.35"/><circle cx="564.8" cy="305.1" r="2.35"/><circle cx="564.8" cy="295" r="2.35"/><circle cx="565" cy="314.4" r="2.35"/><circle cx="565.1" cy="333" r="2.35"/><circle cx="565.1" cy="317" r="2.35"/><circle cx="565.3" cy="322" r="2.35"/><circle cx="565.5" cy="318.8" r="2.35"/><circle cx="565.6" cy="326.1" r="2.35"/><circle cx="565.7" cy="309.7" r="2.35"/><circle cx="565.8" cy="314.7" r="2.35"/><circle cx="565.9" cy="310.4" r="2.35"/><circle cx="566" cy="314" r="2.35"/><circle cx="566.1" cy="316.4" r="2.35"/><circle cx="566.3" cy="315.1" r="2.35"/><circle cx="566.4" cy="322" r="2.35"/><circle cx="566.4" cy="318.4" r="2.35"/><circle cx="566.6" cy="324.5" r="2.35"/><circle cx="566.7" cy="303.1" r="2.35"/><circle cx="566.9" cy="317.8" r="2.35"/><circle cx="566.9" cy="320.2" r="2.35"/><circle cx="567.1" cy="332.4" r="2.35"/><circle cx="567.1" cy="336.2" r="2.35"/><circle cx="567.4" cy="326.9" r="2.35"/><circle cx="567.4" cy="316.1" r="2.35"/><circle cx="567.5" cy="317.7" r="2.35"/><circle cx="567.6" cy="318.1" r="2.35"/><circle cx="567.8" cy="312.3" r="2.35"/><circle cx="567.9" cy="308" r="2.35"/><circle cx="568.1" cy="318.3" r="2.35"/><circle cx="568.1" cy="314.7" r="2.35"/><circle cx="568.2" cy="310.7" r="2.35"/><circle cx="568.4" cy="318" r="2.35"/><circle cx="568.5" cy="317.6" r="2.35"/><circle cx="568.6" cy="335.8" r="2.35"/><circle cx="568.8" cy="299.6" r="2.35"/><circle cx="568.8" cy="322.1" r="2.35"/><circle cx="569" cy="314.3" r="2.35"/><circle cx="569.1" cy="303.5" r="2.35"/><circle cx="569.2" cy="308.4" r="2.35"/><circle cx="569.3" cy="299.6" r="2.35"/><circle cx="569.4" cy="305.7" r="2.35"/><circle cx="569.5" cy="330.2" r="2.35"/><circle cx="569.7" cy="305.9" r="2.35"/><circle cx="569.7" cy="328.5" r="2.35"/><circle cx="569.9" cy="315.9" r="2.35"/><circle cx="570" cy="316" r="2.35"/><circle cx="570.2" cy="336.3" r="2.35"/><circle cx="570.2" cy="315.5" r="2.35"/><circle cx="570.4" cy="323.1" r="2.35"/><circle cx="570.4" cy="339" r="2.35"/><circle cx="570.6" cy="325.1" r="2.35"/><circle cx="570.7" cy="319.1" r="2.35"/><circle cx="570.9" cy="313.2" r="2.35"/><circle cx="571" cy="321.2" r="2.35"/><circle cx="571.1" cy="322.6" r="2.35"/><circle cx="571.2" cy="325" r="2.35"/><circle cx="571.3" cy="321.3" r="2.35"/><circle cx="571.5" cy="326.7" r="2.35"/><circle cx="571.6" cy="312.4" r="2.35"/><circle cx="571.6" cy="328.2" r="2.35"/><circle cx="571.7" cy="325.5" r="2.35"/><circle cx="571.9" cy="322" r="2.35"/><circle cx="572" cy="324.4" r="2.35"/><circle cx="572.2" cy="312.6" r="2.35"/><circle cx="572.3" cy="318.3" r="2.35"/><circle cx="572.3" cy="318.4" r="2.35"/><circle cx="572.5" cy="327.7" r="2.35"/><circle cx="572.6" cy="326.3" r="2.35"/><circle cx="572.7" cy="341.2" r="2.35"/><circle cx="572.9" cy="316.1" r="2.35"/><circle cx="573" cy="322.1" r="2.35"/><circle cx="573.1" cy="296.2" r="2.35"/><circle cx="573.1" cy="313.3" r="2.35"/><circle cx="573.3" cy="316.9" r="2.35"/><circle cx="573.4" cy="325.3" r="2.35"/><circle cx="573.5" cy="322.3" r="2.35"/><circle cx="573.7" cy="311.4" r="2.35"/><circle cx="573.8" cy="329.7" r="2.35"/><circle cx="573.8" cy="330.9" r="2.35"/><circle cx="574.1" cy="301.4" r="2.35"/><circle cx="574.1" cy="335.8" r="2.35"/><circle cx="574.2" cy="319.1" r="2.35"/><circle cx="574.4" cy="318.9" r="2.35"/><circle cx="574.5" cy="331.8" r="2.35"/><circle cx="574.6" cy="311" r="2.35"/><circle cx="574.7" cy="323.5" r="2.35"/><circle cx="574.8" cy="313.2" r="2.35"/><circle cx="574.9" cy="326.4" r="2.35"/><circle cx="575" cy="296.8" r="2.35"/><circle cx="575.2" cy="325" r="2.35"/><circle cx="575.3" cy="318.4" r="2.35"/><circle cx="575.4" cy="316.8" r="2.35"/><circle cx="575.6" cy="331.5" r="2.35"/><circle cx="575.6" cy="333.6" r="2.35"/><circle cx="575.8" cy="305.9" r="2.35"/><circle cx="575.9" cy="326.8" r="2.35"/><circle cx="576" cy="335.2" r="2.35"/><circle cx="576.1" cy="317.2" r="2.35"/><circle cx="576.3" cy="311.5" r="2.35"/><circle cx="576.3" cy="330.4" r="2.35"/><circle cx="576.5" cy="314.5" r="2.35"/><circle cx="576.6" cy="318.3" r="2.35"/><circle cx="576.7" cy="324.1" r="2.35"/><circle cx="576.8" cy="315.7" r="2.35"/><circle cx="576.9" cy="317.4" r="2.35"/><circle cx="577.1" cy="314.3" r="2.35"/><circle cx="577.2" cy="310.6" r="2.35"/><circle cx="577.3" cy="320.7" r="2.35"/><circle cx="577.5" cy="304.7" r="2.35"/><circle cx="577.5" cy="308.1" r="2.35"/><circle cx="577.6" cy="323.9" r="2.35"/><circle cx="577.8" cy="304.8" r="2.35"/><circle cx="577.9" cy="308" r="2.35"/><circle cx="578" cy="331.8" r="2.35"/><circle cx="578.2" cy="316.6" r="2.35"/><circle cx="578.3" cy="336.7" r="2.35"/><circle cx="578.3" cy="294.3" r="2.35"/><circle cx="578.5" cy="324.7" r="2.35"/><circle cx="578.6" cy="310" r="2.35"/><circle cx="578.7" cy="331.5" r="2.35"/><circle cx="578.9" cy="319.9" r="2.35"/><circle cx="578.9" cy="305.9" r="2.35"/><circle cx="579.1" cy="320.4" r="2.35"/><circle cx="579.2" cy="315.6" r="2.35"/><circle cx="579.3" cy="304.6" r="2.35"/><circle cx="579.5" cy="301.7" r="2.35"/><circle cx="579.6" cy="315" r="2.35"/><circle cx="579.6" cy="330.7" r="2.35"/><circle cx="579.8" cy="318.7" r="2.35"/><circle cx="579.9" cy="317.8" r="2.35"/><circle cx="580" cy="327.7" r="2.35"/><circle cx="580.2" cy="323.6" r="2.35"/><circle cx="580.3" cy="324.8" r="2.35"/><circle cx="580.4" cy="332.8" r="2.35"/><circle cx="580.5" cy="311" r="2.35"/><circle cx="580.6" cy="325.2" r="2.35"/><circle cx="580.8" cy="322.2" r="2.35"/><circle cx="580.8" cy="317" r="2.35"/><circle cx="581" cy="300.2" r="2.35"/><circle cx="581.1" cy="315.3" r="2.35"/><circle cx="581.2" cy="326.6" r="2.35"/><circle cx="581.3" cy="312.5" r="2.35"/><circle cx="581.4" cy="325.1" r="2.35"/><circle cx="581.5" cy="325.1" r="2.35"/><circle cx="581.6" cy="319.2" r="2.35"/><circle cx="581.8" cy="321.1" r="2.35"/><circle cx="581.9" cy="309.7" r="2.35"/><circle cx="582.1" cy="317.4" r="2.35"/><circle cx="582.1" cy="311.9" r="2.35"/><circle cx="582.3" cy="315.9" r="2.35"/><circle cx="582.4" cy="310.1" r="2.35"/><circle cx="582.4" cy="313.7" r="2.35"/><circle cx="582.6" cy="312.2" r="2.35"/><circle cx="582.7" cy="329.1" r="2.35"/><circle cx="582.8" cy="322.5" r="2.35"/><circle cx="583" cy="330.7" r="2.35"/><circle cx="583.1" cy="326.9" r="2.35"/><circle cx="583.2" cy="321" r="2.35"/><circle cx="583.3" cy="311.5" r="2.35"/><circle cx="583.4" cy="323.5" r="2.35"/><circle cx="583.6" cy="317.6" r="2.35"/><circle cx="583.7" cy="336.1" r="2.35"/><circle cx="583.8" cy="309.4" r="2.35"/><circle cx="583.8" cy="306.1" r="2.35"/><circle cx="584.1" cy="318.8" r="2.35"/><circle cx="584.1" cy="314.7" r="2.35"/><circle cx="584.3" cy="313.6" r="2.35"/><circle cx="584.4" cy="327.8" r="2.35"/><circle cx="584.5" cy="312.5" r="2.35"/><circle cx="584.6" cy="317.7" r="2.35"/><circle cx="584.7" cy="305.7" r="2.35"/><circle cx="584.8" cy="327.7" r="2.35"/><circle cx="584.9" cy="330.3" r="2.35"/><circle cx="585.1" cy="327.2" r="2.35"/><circle cx="585.1" cy="317.1" r="2.35"/><circle cx="585.3" cy="308.7" r="2.35"/><circle cx="585.5" cy="307.1" r="2.35"/><circle cx="585.5" cy="326.1" r="2.35"/><circle cx="585.7" cy="324.6" r="2.35"/><circle cx="585.8" cy="318.3" r="2.35"/><circle cx="585.9" cy="318.8" r="2.35"/><circle cx="586" cy="314.8" r="2.35"/><circle cx="586.2" cy="318.9" r="2.35"/><circle cx="586.2" cy="322.1" r="2.35"/><circle cx="586.3" cy="323.3" r="2.35"/><circle cx="586.5" cy="311.7" r="2.35"/><circle cx="586.6" cy="321.5" r="2.35"/><circle cx="586.7" cy="331.4" r="2.35"/><circle cx="586.8" cy="327.8" r="2.35"/><circle cx="587" cy="320.2" r="2.35"/><circle cx="587.1" cy="316.4" r="2.35"/><circle cx="587.1" cy="318.9" r="2.35"/><circle cx="587.3" cy="328.6" r="2.35"/><circle cx="587.4" cy="326.8" r="2.35"/><circle cx="587.6" cy="325.3" r="2.35"/><circle cx="587.6" cy="322.9" r="2.35"/><circle cx="587.7" cy="330.9" r="2.35"/><circle cx="587.9" cy="312.7" r="2.35"/><circle cx="588" cy="322.7" r="2.35"/><circle cx="588.1" cy="318.1" r="2.35"/><circle cx="588.3" cy="329.5" r="2.35"/><circle cx="588.4" cy="315" r="2.35"/><circle cx="588.5" cy="328.4" r="2.35"/><circle cx="588.6" cy="316.8" r="2.35"/><circle cx="588.7" cy="325.6" r="2.35"/><circle cx="588.9" cy="324.4" r="2.35"/><circle cx="589" cy="334" r="2.35"/><circle cx="589.1" cy="322.2" r="2.35"/><circle cx="589.2" cy="328.9" r="2.35"/><circle cx="589.3" cy="337.1" r="2.35"/><circle cx="589.4" cy="298.4" r="2.35"/><circle cx="589.5" cy="303" r="2.35"/><circle cx="589.6" cy="315.6" r="2.35"/><circle cx="589.7" cy="315.3" r="2.35"/><circle cx="589.9" cy="334" r="2.35"/><circle cx="590.1" cy="321.1" r="2.35"/><circle cx="590.1" cy="324.5" r="2.35"/><circle cx="590.3" cy="312.2" r="2.35"/><circle cx="590.4" cy="310" r="2.35"/><circle cx="590.5" cy="325.2" r="2.35"/><circle cx="590.7" cy="328.7" r="2.35"/><circle cx="590.7" cy="323.8" r="2.35"/><circle cx="590.8" cy="336.2" r="2.35"/><circle cx="591" cy="318.5" r="2.35"/><circle cx="591" cy="314.7" r="2.35"/><circle cx="591.2" cy="314.1" r="2.35"/><circle cx="591.3" cy="308.2" r="2.35"/><circle cx="591.4" cy="332.4" r="2.35"/><circle cx="591.5" cy="319.2" r="2.35"/><circle cx="591.6" cy="313.3" r="2.35"/><circle cx="591.7" cy="312.7" r="2.35"/><circle cx="591.9" cy="324.5" r="2.35"/><circle cx="592.1" cy="306" r="2.35"/><circle cx="592.1" cy="323.8" r="2.35"/><circle cx="592.3" cy="316.6" r="2.35"/><circle cx="592.4" cy="312.1" r="2.35"/><circle cx="592.4" cy="313.7" r="2.35"/><circle cx="592.6" cy="320.7" r="2.35"/><circle cx="592.7" cy="311.5" r="2.35"/><circle cx="592.8" cy="322.4" r="2.35"/><circle cx="592.9" cy="324.4" r="2.35"/><circle cx="593.1" cy="319.8" r="2.35"/><circle cx="593.2" cy="315.6" r="2.35"/><circle cx="593.4" cy="318.4" r="2.35"/><circle cx="593.4" cy="317.4" r="2.35"/><circle cx="593.5" cy="317.4" r="2.35"/><circle cx="593.7" cy="315.9" r="2.35"/><circle cx="593.8" cy="302.7" r="2.35"/><circle cx="593.8" cy="325" r="2.35"/><circle cx="594" cy="320" r="2.35"/><circle cx="594.2" cy="321.5" r="2.35"/><circle cx="594.2" cy="319.6" r="2.35"/><circle cx="594.4" cy="316.6" r="2.35"/><circle cx="594.5" cy="334.4" r="2.35"/><circle cx="594.6" cy="326" r="2.35"/><circle cx="594.7" cy="314.4" r="2.35"/><circle cx="594.8" cy="309.8" r="2.35"/><circle cx="594.9" cy="308.5" r="2.35"/><circle cx="595.1" cy="329.7" r="2.35"/><circle cx="595.2" cy="319.3" r="2.35"/><circle cx="595.3" cy="317.6" r="2.35"/><circle cx="595.4" cy="316.8" r="2.35"/><circle cx="595.5" cy="333.1" r="2.35"/><circle cx="595.6" cy="320.8" r="2.35"/><circle cx="595.8" cy="330.9" r="2.35"/><circle cx="595.9" cy="297.9" r="2.35"/><circle cx="596" cy="304.1" r="2.35"/><circle cx="596.1" cy="316.8" r="2.35"/><circle cx="596.3" cy="306.6" r="2.35"/><circle cx="596.3" cy="318.8" r="2.35"/><circle cx="596.4" cy="312" r="2.35"/><circle cx="596.6" cy="319.3" r="2.35"/><circle cx="596.7" cy="293.7" r="2.35"/><circle cx="596.9" cy="312.6" r="2.35"/><circle cx="597" cy="321.2" r="2.35"/><circle cx="597.1" cy="324.5" r="2.35"/><circle cx="597.2" cy="323.7" r="2.35"/><circle cx="597.3" cy="327.2" r="2.35"/><circle cx="597.5" cy="333" r="2.35"/><circle cx="597.6" cy="300.1" r="2.35"/><circle cx="597.7" cy="315.2" r="2.35"/><circle cx="597.8" cy="306.6" r="2.35"/><circle cx="597.9" cy="314.1" r="2.35"/><circle cx="598" cy="312" r="2.35"/><circle cx="598.2" cy="329.7" r="2.35"/><circle cx="598.3" cy="324.2" r="2.35"/><circle cx="598.4" cy="322" r="2.35"/><circle cx="598.4" cy="319" r="2.35"/><circle cx="598.6" cy="322.5" r="2.35"/><circle cx="598.8" cy="330.7" r="2.35"/><circle cx="598.9" cy="324.8" r="2.35"/><circle cx="599" cy="303.9" r="2.35"/><circle cx="599.1" cy="319.4" r="2.35"/><circle cx="599.2" cy="329.9" r="2.35"/><circle cx="599.4" cy="307.4" r="2.35"/><circle cx="599.5" cy="303" r="2.35"/><circle cx="599.5" cy="311.6" r="2.35"/><circle cx="599.7" cy="319.1" r="2.35"/><circle cx="599.8" cy="317.3" r="2.35"/><circle cx="599.9" cy="319.6" r="2.35"/><circle cx="600" cy="329.6" r="2.35"/><circle cx="600.1" cy="324.1" r="2.35"/><circle cx="600.2" cy="315.3" r="2.35"/><circle cx="600.4" cy="311.7" r="2.35"/><circle cx="600.4" cy="309" r="2.35"/><circle cx="600.6" cy="325.1" r="2.35"/><circle cx="600.7" cy="309.5" r="2.35"/><circle cx="600.8" cy="311.9" r="2.35"/><circle cx="601" cy="322.1" r="2.35"/><circle cx="601.1" cy="315.6" r="2.35"/><circle cx="601.1" cy="315.7" r="2.35"/><circle cx="601.4" cy="308.4" r="2.35"/><circle cx="601.4" cy="332.4" r="2.35"/><circle cx="601.6" cy="323.3" r="2.35"/><circle cx="601.7" cy="335.5" r="2.35"/><circle cx="601.8" cy="331.1" r="2.35"/><circle cx="601.9" cy="320.1" r="2.35"/><circle cx="602" cy="324" r="2.35"/><circle cx="602.1" cy="307.8" r="2.35"/><circle cx="602.3" cy="316.4" r="2.35"/><circle cx="602.3" cy="314" r="2.35"/><circle cx="602.5" cy="307.7" r="2.35"/><circle cx="602.6" cy="320.9" r="2.35"/><circle cx="602.7" cy="321.3" r="2.35"/><circle cx="602.9" cy="329" r="2.35"/><circle cx="602.9" cy="302.9" r="2.35"/><circle cx="603" cy="316.4" r="2.35"/><circle cx="603.2" cy="310.1" r="2.35"/><circle cx="603.3" cy="315.3" r="2.35"/><circle cx="603.5" cy="330.5" r="2.35"/><circle cx="603.6" cy="320.2" r="2.35"/><circle cx="603.6" cy="314.9" r="2.35"/><circle cx="603.8" cy="313.7" r="2.35"/><circle cx="603.9" cy="310.5" r="2.35"/><circle cx="604" cy="313.9" r="2.35"/><circle cx="604.1" cy="316.3" r="2.35"/><circle cx="604.3" cy="334.1" r="2.35"/><circle cx="604.4" cy="333.2" r="2.35"/><circle cx="604.5" cy="325.3" r="2.35"/><circle cx="604.6" cy="318.4" r="2.35"/><circle cx="604.8" cy="321.6" r="2.35"/><circle cx="604.9" cy="330" r="2.35"/><circle cx="605" cy="314.9" r="2.35"/><circle cx="605" cy="318.2" r="2.35"/><circle cx="605.2" cy="310.2" r="2.35"/><circle cx="605.3" cy="309.5" r="2.35"/><circle cx="605.5" cy="322.2" r="2.35"/><circle cx="605.6" cy="326.3" r="2.35"/><circle cx="605.7" cy="311" r="2.35"/><circle cx="605.7" cy="318" r="2.35"/><circle cx="605.9" cy="319.6" r="2.35"/><circle cx="606.1" cy="321.1" r="2.35"/><circle cx="606.2" cy="332.2" r="2.35"/><circle cx="606.3" cy="318.6" r="2.35"/><circle cx="606.4" cy="310.1" r="2.35"/><circle cx="606.5" cy="305.3" r="2.35"/><circle cx="606.6" cy="305.5" r="2.35"/><circle cx="606.7" cy="320.5" r="2.35"/><circle cx="606.8" cy="309.9" r="2.35"/><circle cx="606.9" cy="329.4" r="2.35"/><circle cx="607" cy="325.9" r="2.35"/><circle cx="607.2" cy="316.3" r="2.35"/><circle cx="607.3" cy="317.6" r="2.35"/><circle cx="607.5" cy="317.5" r="2.35"/><circle cx="607.6" cy="313.6" r="2.35"/><circle cx="607.6" cy="313.3" r="2.35"/><circle cx="607.8" cy="319.7" r="2.35"/><circle cx="607.9" cy="327.5" r="2.35"/><circle cx="608" cy="329.5" r="2.35"/><circle cx="608.1" cy="341.3" r="2.35"/><circle cx="608.3" cy="315" r="2.35"/><circle cx="608.4" cy="307.3" r="2.35"/><circle cx="608.4" cy="320.1" r="2.35"/><circle cx="608.6" cy="328.2" r="2.35"/><circle cx="608.7" cy="318.7" r="2.35"/><circle cx="608.8" cy="322" r="2.35"/><circle cx="609" cy="326.3" r="2.35"/><circle cx="609.1" cy="325.8" r="2.35"/><circle cx="609.2" cy="316.4" r="2.35"/><circle cx="609.4" cy="318.1" r="2.35"/><circle cx="609.4" cy="319.8" r="2.35"/><circle cx="609.6" cy="325.8" r="2.35"/><circle cx="609.6" cy="321.3" r="2.35"/><circle cx="609.8" cy="344.6" r="2.35"/><circle cx="609.9" cy="331.6" r="2.35"/><circle cx="610" cy="318.4" r="2.35"/><circle cx="610.1" cy="315.8" r="2.35"/><circle cx="610.2" cy="324.2" r="2.35"/><circle cx="610.3" cy="321.1" r="2.35"/><circle cx="610.5" cy="322.5" r="2.35"/><circle cx="610.6" cy="314.4" r="2.35"/><circle cx="610.8" cy="332.2" r="2.35"/><circle cx="610.9" cy="307" r="2.35"/><circle cx="611" cy="313.2" r="2.35"/><circle cx="611" cy="313.8" r="2.35"/><circle cx="611.2" cy="312.7" r="2.35"/><circle cx="611.4" cy="333.2" r="2.35"/><circle cx="611.5" cy="302.7" r="2.35"/><circle cx="611.5" cy="335.9" r="2.35"/><circle cx="611.6" cy="309.3" r="2.35"/><circle cx="611.8" cy="303" r="2.35"/><circle cx="611.9" cy="316.8" r="2.35"/><circle cx="612.1" cy="312.5" r="2.35"/><circle cx="612.2" cy="328.6" r="2.35"/><circle cx="612.3" cy="334" r="2.35"/><circle cx="612.4" cy="316.1" r="2.35"/><circle cx="612.5" cy="326" r="2.35"/><circle cx="612.6" cy="310.5" r="2.35"/><circle cx="612.7" cy="316.4" r="2.35"/><circle cx="612.8" cy="318.8" r="2.35"/><circle cx="613" cy="316.2" r="2.35"/><circle cx="613" cy="316.8" r="2.35"/><circle cx="613.2" cy="318.1" r="2.35"/><circle cx="613.3" cy="306.2" r="2.35"/><circle cx="613.4" cy="323.2" r="2.35"/><circle cx="613.6" cy="310.2" r="2.35"/><circle cx="613.7" cy="320.8" r="2.35"/><circle cx="613.7" cy="318.1" r="2.35"/><circle cx="613.9" cy="312.5" r="2.35"/><circle cx="614" cy="331.6" r="2.35"/><circle cx="614.2" cy="309.7" r="2.35"/><circle cx="614.2" cy="307.7" r="2.35"/><circle cx="614.4" cy="328.1" r="2.35"/><circle cx="614.5" cy="318.7" r="2.35"/><circle cx="614.6" cy="329.3" r="2.35"/><circle cx="614.7" cy="325.2" r="2.35"/><circle cx="614.8" cy="310.8" r="2.35"/><circle cx="614.9" cy="319" r="2.35"/><circle cx="615" cy="319.5" r="2.35"/><circle cx="615.2" cy="316.2" r="2.35"/><circle cx="615.3" cy="308.3" r="2.35"/><circle cx="615.5" cy="325.6" r="2.35"/><circle cx="615.5" cy="341.5" r="2.35"/><circle cx="615.7" cy="321.1" r="2.35"/><circle cx="615.7" cy="321.7" r="2.35"/><circle cx="615.9" cy="313.2" r="2.35"/><circle cx="616" cy="319.1" r="2.35"/><circle cx="616.1" cy="315.1" r="2.35"/><circle cx="616.3" cy="308.9" r="2.35"/><circle cx="616.4" cy="329.9" r="2.35"/><circle cx="616.5" cy="325.9" r="2.35"/><circle cx="616.6" cy="321.9" r="2.35"/><circle cx="616.7" cy="321.4" r="2.35"/><circle cx="616.8" cy="327.6" r="2.35"/><circle cx="617" cy="323.3" r="2.35"/><circle cx="617.1" cy="315.1" r="2.35"/><circle cx="617.2" cy="317.1" r="2.35"/><circle cx="617.4" cy="315.3" r="2.35"/><circle cx="617.5" cy="314.2" r="2.35"/><circle cx="617.5" cy="310" r="2.35"/><circle cx="617.6" cy="323.9" r="2.35"/><circle cx="617.8" cy="325" r="2.35"/><circle cx="617.9" cy="327.3" r="2.35"/><circle cx="618" cy="323.7" r="2.35"/><circle cx="618.2" cy="314.7" r="2.35"/><circle cx="618.2" cy="318.2" r="2.35"/><circle cx="618.4" cy="326.8" r="2.35"/><circle cx="618.4" cy="321.4" r="2.35"/><circle cx="618.6" cy="337.2" r="2.35"/><circle cx="618.8" cy="338.2" r="2.35"/><circle cx="618.9" cy="312.8" r="2.35"/><circle cx="618.9" cy="321.2" r="2.35"/><circle cx="619.1" cy="309.2" r="2.35"/><circle cx="619.2" cy="318.5" r="2.35"/><circle cx="619.3" cy="318.5" r="2.35"/><circle cx="619.4" cy="313.3" r="2.35"/><circle cx="619.6" cy="321.9" r="2.35"/><circle cx="619.7" cy="304.1" r="2.35"/><circle cx="619.8" cy="310.1" r="2.35"/><circle cx="619.9" cy="318.2" r="2.35"/><circle cx="620" cy="308.3" r="2.35"/><circle cx="620.1" cy="331.7" r="2.35"/><circle cx="620.2" cy="318.3" r="2.35"/><circle cx="620.4" cy="329.5" r="2.35"/><circle cx="620.5" cy="323.9" r="2.35"/><circle cx="620.6" cy="325.8" r="2.35"/><circle cx="620.7" cy="315.3" r="2.35"/><circle cx="620.8" cy="325.3" r="2.35"/><circle cx="620.9" cy="318.1" r="2.35"/><circle cx="621.1" cy="326.5" r="2.35"/><circle cx="621.1" cy="316.3" r="2.35"/><circle cx="621.4" cy="323.4" r="2.35"/><circle cx="621.4" cy="311.8" r="2.35"/><circle cx="621.5" cy="318.7" r="2.35"/><circle cx="621.7" cy="315.1" r="2.35"/><circle cx="621.8" cy="320.8" r="2.35"/><circle cx="621.9" cy="324.2" r="2.35"/><circle cx="622" cy="322.7" r="2.35"/><circle cx="622.1" cy="310.3" r="2.35"/><circle cx="622.3" cy="339" r="2.35"/><circle cx="622.4" cy="317.9" r="2.35"/><circle cx="622.5" cy="310.6" r="2.35"/><circle cx="622.6" cy="318.7" r="2.35"/><circle cx="622.7" cy="318.3" r="2.35"/><circle cx="622.9" cy="330.5" r="2.35"/><circle cx="623" cy="313.6" r="2.35"/><circle cx="623.1" cy="329.1" r="2.35"/><circle cx="623.2" cy="331" r="2.35"/><circle cx="623.4" cy="315.6" r="2.35"/><circle cx="623.4" cy="314.3" r="2.35"/><circle cx="623.6" cy="325.6" r="2.35"/><circle cx="623.7" cy="311.9" r="2.35"/><circle cx="623.7" cy="320.8" r="2.35"/><circle cx="623.9" cy="322" r="2.35"/><circle cx="624.1" cy="319" r="2.35"/><circle cx="624.2" cy="304.9" r="2.35"/><circle cx="624.3" cy="307.5" r="2.35"/><circle cx="624.4" cy="339.5" r="2.35"/><circle cx="624.5" cy="320.8" r="2.35"/><circle cx="624.6" cy="336.3" r="2.35"/><circle cx="624.8" cy="323.4" r="2.35"/><circle cx="624.8" cy="335.1" r="2.35"/><circle cx="624.9" cy="306.6" r="2.35"/><circle cx="625.1" cy="326.8" r="2.35"/><circle cx="625.2" cy="314.2" r="2.35"/><circle cx="625.3" cy="325.7" r="2.35"/><circle cx="625.4" cy="321" r="2.35"/><circle cx="625.6" cy="320.5" r="2.35"/><circle cx="625.6" cy="312.1" r="2.35"/><circle cx="625.7" cy="308.3" r="2.35"/><circle cx="625.9" cy="330.7" r="2.35"/><circle cx="626.1" cy="314.8" r="2.35"/><circle cx="626.1" cy="318.1" r="2.35"/><circle cx="626.3" cy="329.5" r="2.35"/><circle cx="626.3" cy="341.6" r="2.35"/><circle cx="626.5" cy="321.9" r="2.35"/><circle cx="626.6" cy="317.5" r="2.35"/><circle cx="626.7" cy="312.3" r="2.35"/><circle cx="626.8" cy="324.8" r="2.35"/><circle cx="626.9" cy="320.5" r="2.35"/><circle cx="627.1" cy="327.7" r="2.35"/><circle cx="627.2" cy="321.9" r="2.35"/><circle cx="627.3" cy="321.8" r="2.35"/><circle cx="627.4" cy="302.3" r="2.35"/><circle cx="627.5" cy="316.9" r="2.35"/><circle cx="627.7" cy="318.1" r="2.35"/><circle cx="627.8" cy="312.2" r="2.35"/><circle cx="627.9" cy="334.1" r="2.35"/><circle cx="628" cy="317.1" r="2.35"/><circle cx="628.1" cy="328.5" r="2.35"/><circle cx="628.2" cy="311.5" r="2.35"/><circle cx="628.3" cy="318" r="2.35"/><circle cx="628.5" cy="319.3" r="2.35"/><circle cx="628.6" cy="308.3" r="2.35"/><circle cx="628.7" cy="307.2" r="2.35"/><circle cx="628.9" cy="331.7" r="2.35"/><circle cx="628.9" cy="336.2" r="2.35"/><circle cx="629.1" cy="316.6" r="2.35"/><circle cx="629.2" cy="312" r="2.35"/><circle cx="629.3" cy="319.7" r="2.35"/><circle cx="629.4" cy="332.6" r="2.35"/><circle cx="629.5" cy="318.8" r="2.35"/><circle cx="629.7" cy="305.8" r="2.35"/><circle cx="629.8" cy="300" r="2.35"/><circle cx="629.9" cy="315.5" r="2.35"/><circle cx="630" cy="319.7" r="2.35"/><circle cx="630.1" cy="323.4" r="2.35"/><circle cx="630.2" cy="329.7" r="2.35"/><circle cx="630.4" cy="328.2" r="2.35"/><circle cx="630.5" cy="306.9" r="2.35"/><circle cx="630.7" cy="307.9" r="2.35"/><circle cx="630.7" cy="322.5" r="2.35"/><circle cx="630.8" cy="323.8" r="2.35"/><circle cx="631" cy="305.6" r="2.35"/><circle cx="631.1" cy="323" r="2.35"/><circle cx="631.2" cy="310.4" r="2.35"/><circle cx="631.3" cy="318.4" r="2.35"/><circle cx="631.4" cy="309.7" r="2.35"/><circle cx="631.6" cy="317.2" r="2.35"/><circle cx="631.7" cy="315.3" r="2.35"/><circle cx="631.8" cy="318.5" r="2.35"/><circle cx="631.9" cy="302.8" r="2.35"/><circle cx="632" cy="319.4" r="2.35"/><circle cx="632.2" cy="318.9" r="2.35"/><circle cx="632.3" cy="335.1" r="2.35"/><circle cx="632.3" cy="312.3" r="2.35"/><circle cx="632.5" cy="323.8" r="2.35"/><circle cx="632.6" cy="321.8" r="2.35"/><circle cx="632.7" cy="327.8" r="2.35"/><circle cx="632.8" cy="322.4" r="2.35"/><circle cx="632.9" cy="321.8" r="2.35"/><circle cx="633.1" cy="307.4" r="2.35"/><circle cx="633.2" cy="319.5" r="2.35"/><circle cx="633.3" cy="321.7" r="2.35"/><circle cx="633.4" cy="308.4" r="2.35"/><circle cx="633.6" cy="319.1" r="2.35"/><circle cx="633.7" cy="309.3" r="2.35"/><circle cx="633.8" cy="316.3" r="2.35"/><circle cx="633.9" cy="316.5" r="2.35"/><circle cx="634" cy="324.1" r="2.35"/><circle cx="634.1" cy="307.5" r="2.35"/><circle cx="634.2" cy="309" r="2.35"/><circle cx="634.4" cy="325.5" r="2.35"/><circle cx="634.5" cy="315.5" r="2.35"/><circle cx="634.6" cy="297.3" r="2.35"/><circle cx="634.7" cy="314.1" r="2.35"/><circle cx="634.8" cy="329.7" r="2.35"/><circle cx="635" cy="320.9" r="2.35"/><circle cx="635.1" cy="308.3" r="2.35"/><circle cx="635.2" cy="327.5" r="2.35"/><circle cx="635.3" cy="299" r="2.35"/><circle cx="635.5" cy="324.7" r="2.35"/><circle cx="635.6" cy="312.3" r="2.35"/><circle cx="635.6" cy="318.3" r="2.35"/><circle cx="635.8" cy="320.3" r="2.35"/><circle cx="635.9" cy="305.5" r="2.35"/><circle cx="636" cy="328.1" r="2.35"/><circle cx="636.2" cy="333.2" r="2.35"/><circle cx="636.3" cy="312.7" r="2.35"/><circle cx="636.4" cy="330.9" r="2.35"/><circle cx="636.5" cy="314.7" r="2.35"/><circle cx="636.7" cy="325.8" r="2.35"/><circle cx="636.7" cy="323.2" r="2.35"/><circle cx="636.9" cy="328.2" r="2.35"/><circle cx="636.9" cy="316.6" r="2.35"/><circle cx="637.1" cy="323.4" r="2.35"/><circle cx="637.2" cy="312.5" r="2.35"/><circle cx="637.3" cy="319.4" r="2.35"/><circle cx="637.5" cy="321.1" r="2.35"/><circle cx="637.6" cy="323" r="2.35"/><circle cx="637.7" cy="315.3" r="2.35"/><circle cx="637.8" cy="311.4" r="2.35"/><circle cx="637.9" cy="309.3" r="2.35"/><circle cx="638" cy="312.2" r="2.35"/><circle cx="638.2" cy="305.9" r="2.35"/><circle cx="638.3" cy="317.8" r="2.35"/><circle cx="638.4" cy="302.8" r="2.35"/><circle cx="638.5" cy="328.5" r="2.35"/><circle cx="638.7" cy="317" r="2.35"/><circle cx="638.8" cy="321.2" r="2.35"/><circle cx="638.9" cy="312.7" r="2.35"/><circle cx="639" cy="319.8" r="2.35"/><circle cx="639.1" cy="327.9" r="2.35"/><circle cx="639.2" cy="327.7" r="2.35"/><circle cx="639.3" cy="328" r="2.35"/><circle cx="639.5" cy="306.8" r="2.35"/><circle cx="639.5" cy="325.7" r="2.35"/><circle cx="639.6" cy="331.9" r="2.35"/><circle cx="639.8" cy="316.7" r="2.35"/><circle cx="639.9" cy="323.1" r="2.35"/><circle cx="640.1" cy="316.6" r="2.35"/><circle cx="640.2" cy="306.5" r="2.35"/><circle cx="640.3" cy="325.4" r="2.35"/><circle cx="640.4" cy="318.8" r="2.35"/><circle cx="640.5" cy="325.1" r="2.35"/><circle cx="640.7" cy="310.4" r="2.35"/><circle cx="640.7" cy="324.9" r="2.35"/><circle cx="640.9" cy="310.6" r="2.35"/><circle cx="641" cy="313.2" r="2.35"/><circle cx="641.1" cy="311.7" r="2.35"/><circle cx="641.2" cy="306.5" r="2.35"/><circle cx="641.3" cy="321.6" r="2.35"/><circle cx="641.4" cy="331" r="2.35"/><circle cx="641.5" cy="312.7" r="2.35"/><circle cx="641.7" cy="303.4" r="2.35"/><circle cx="641.7" cy="318.8" r="2.35"/><circle cx="641.9" cy="320.2" r="2.35"/><circle cx="642" cy="307.5" r="2.35"/><circle cx="642.1" cy="329.8" r="2.35"/><circle cx="642.2" cy="323.9" r="2.35"/><circle cx="642.4" cy="318" r="2.35"/><circle cx="642.5" cy="332.7" r="2.35"/><circle cx="642.6" cy="328.3" r="2.35"/><circle cx="642.7" cy="320.5" r="2.35"/><circle cx="642.8" cy="309.3" r="2.35"/><circle cx="643" cy="315.6" r="2.35"/><circle cx="643.1" cy="317" r="2.35"/><circle cx="643.2" cy="313.5" r="2.35"/><circle cx="643.4" cy="320.2" r="2.35"/><circle cx="643.5" cy="313.1" r="2.35"/><circle cx="643.5" cy="337.1" r="2.35"/><circle cx="643.7" cy="315.1" r="2.35"/><circle cx="643.7" cy="323.3" r="2.35"/><circle cx="643.9" cy="313.8" r="2.35"/><circle cx="644.1" cy="333.8" r="2.35"/><circle cx="644.1" cy="323.9" r="2.35"/><circle cx="644.2" cy="331" r="2.35"/><circle cx="644.4" cy="321.3" r="2.35"/><circle cx="644.5" cy="304.1" r="2.35"/><circle cx="644.6" cy="321.3" r="2.35"/><circle cx="644.8" cy="321" r="2.35"/><circle cx="644.8" cy="330.5" r="2.35"/><circle cx="645" cy="321.3" r="2.35"/><circle cx="645" cy="326.2" r="2.35"/><circle cx="645.2" cy="325.3" r="2.35"/><circle cx="645.4" cy="304.1" r="2.35"/><circle cx="645.4" cy="311.3" r="2.35"/><circle cx="645.6" cy="322.1" r="2.35"/><circle cx="645.6" cy="335.6" r="2.35"/><circle cx="645.7" cy="329.7" r="2.35"/><circle cx="645.9" cy="311.6" r="2.35"/><circle cx="646" cy="321.3" r="2.35"/><circle cx="646.2" cy="319.5" r="2.35"/><circle cx="646.2" cy="317" r="2.35"/><circle cx="646.4" cy="316.9" r="2.35"/><circle cx="646.5" cy="313.6" r="2.35"/><circle cx="646.6" cy="324.9" r="2.35"/><circle cx="646.7" cy="323.9" r="2.35"/><circle cx="646.9" cy="317.2" r="2.35"/><circle cx="647" cy="324.6" r="2.35"/><circle cx="647.1" cy="324.9" r="2.35"/><circle cx="647.2" cy="324.3" r="2.35"/><circle cx="647.3" cy="310.1" r="2.35"/><circle cx="647.4" cy="332.4" r="2.35"/><circle cx="647.5" cy="332.1" r="2.35"/><circle cx="647.7" cy="317.3" r="2.35"/><circle cx="647.8" cy="319.1" r="2.35"/><circle cx="647.9" cy="329.8" r="2.35"/><circle cx="648" cy="316" r="2.35"/><circle cx="648.2" cy="309.2" r="2.35"/><circle cx="648.3" cy="329.8" r="2.35"/><circle cx="648.4" cy="323.4" r="2.35"/><circle cx="648.5" cy="324.7" r="2.35"/><circle cx="648.6" cy="307.1" r="2.35"/><circle cx="648.7" cy="325.5" r="2.35"/><circle cx="648.8" cy="320.2" r="2.35"/><circle cx="649" cy="326.3" r="2.35"/><circle cx="649.1" cy="323" r="2.35"/><circle cx="649.2" cy="312.7" r="2.35"/><circle cx="649.4" cy="322.2" r="2.35"/><circle cx="649.4" cy="322.7" r="2.35"/><circle cx="649.6" cy="313.7" r="2.35"/><circle cx="649.6" cy="330.2" r="2.35"/><circle cx="649.7" cy="309.3" r="2.35"/><circle cx="650" cy="326.7" r="2.35"/><circle cx="650" cy="327.3" r="2.35"/><circle cx="650.1" cy="313.5" r="2.35"/><circle cx="650.3" cy="321.3" r="2.35"/><circle cx="650.4" cy="314.6" r="2.35"/><circle cx="650.5" cy="310.3" r="2.35"/><circle cx="650.6" cy="312.2" r="2.35"/><circle cx="650.7" cy="311.5" r="2.35"/><circle cx="650.9" cy="322" r="2.35"/><circle cx="651" cy="316.6" r="2.35"/><circle cx="651.1" cy="305.1" r="2.35"/><circle cx="651.2" cy="326.6" r="2.35"/><circle cx="651.4" cy="324.4" r="2.35"/><circle cx="651.4" cy="306.5" r="2.35"/><circle cx="651.5" cy="331.1" r="2.35"/><circle cx="651.6" cy="308" r="2.35"/><circle cx="651.8" cy="308.9" r="2.35"/><circle cx="652" cy="327.3" r="2.35"/><circle cx="652" cy="319.9" r="2.35"/><circle cx="652.2" cy="326.4" r="2.35"/><circle cx="652.2" cy="314.5" r="2.35"/><circle cx="652.4" cy="330.9" r="2.35"/><circle cx="652.6" cy="326.3" r="2.35"/><circle cx="652.6" cy="319.8" r="2.35"/><circle cx="652.8" cy="316.3" r="2.35"/><circle cx="652.8" cy="324.9" r="2.35"/><circle cx="653" cy="322.4" r="2.35"/><circle cx="653.1" cy="320.1" r="2.35"/><circle cx="653.2" cy="320.2" r="2.35"/><circle cx="653.3" cy="321" r="2.35"/><circle cx="653.4" cy="317.1" r="2.35"/><circle cx="653.5" cy="311.4" r="2.35"/><circle cx="653.7" cy="297.9" r="2.35"/><circle cx="653.8" cy="321" r="2.35"/><circle cx="653.9" cy="296.6" r="2.35"/><circle cx="654" cy="335.8" r="2.35"/><circle cx="654.1" cy="324" r="2.35"/><circle cx="654.3" cy="326.9" r="2.35"/><circle cx="654.4" cy="329.2" r="2.35"/><circle cx="654.4" cy="317.8" r="2.35"/><circle cx="654.7" cy="315.3" r="2.35"/><circle cx="654.8" cy="315.3" r="2.35"/><circle cx="654.8" cy="343" r="2.35"/><circle cx="655" cy="318.3" r="2.35"/><circle cx="655.1" cy="308.7" r="2.35"/><circle cx="655.3" cy="310.4" r="2.35"/><circle cx="655.4" cy="320.9" r="2.35"/><circle cx="655.5" cy="307.6" r="2.35"/><circle cx="655.5" cy="308.4" r="2.35"/><circle cx="655.7" cy="339.4" r="2.35"/><circle cx="655.8" cy="323.4" r="2.35"/><circle cx="655.9" cy="334.4" r="2.35"/><circle cx="656" cy="309.9" r="2.35"/><circle cx="656.1" cy="331.8" r="2.35"/><circle cx="656.2" cy="337.4" r="2.35"/><circle cx="656.4" cy="317" r="2.35"/><circle cx="656.6" cy="319.1" r="2.35"/><circle cx="656.6" cy="330.4" r="2.35"/><circle cx="656.7" cy="312.6" r="2.35"/><circle cx="656.9" cy="309.9" r="2.35"/><circle cx="657" cy="316.8" r="2.35"/><circle cx="657" cy="319.8" r="2.35"/><circle cx="657.2" cy="320.7" r="2.35"/><circle cx="657.3" cy="316.1" r="2.35"/><circle cx="657.4" cy="333.3" r="2.35"/><circle cx="657.6" cy="309.8" r="2.35"/><circle cx="657.7" cy="331.4" r="2.35"/><circle cx="657.8" cy="309.5" r="2.35"/><circle cx="658" cy="322.2" r="2.35"/><circle cx="658.1" cy="321.5" r="2.35"/><circle cx="658.2" cy="316.3" r="2.35"/><circle cx="658.3" cy="335.8" r="2.35"/><circle cx="658.4" cy="325.9" r="2.35"/><circle cx="658.5" cy="326.6" r="2.35"/><circle cx="658.6" cy="306.4" r="2.35"/><circle cx="658.7" cy="334.3" r="2.35"/><circle cx="658.9" cy="325.4" r="2.35"/><circle cx="659" cy="330.9" r="2.35"/><circle cx="659.1" cy="322.7" r="2.35"/><circle cx="659.3" cy="309.1" r="2.35"/><circle cx="659.3" cy="320" r="2.35"/><circle cx="659.4" cy="316.7" r="2.35"/><circle cx="659.6" cy="314.5" r="2.35"/><circle cx="659.7" cy="316.2" r="2.35"/><circle cx="659.8" cy="319" r="2.35"/><circle cx="659.9" cy="306.9" r="2.35"/><circle cx="660" cy="312.9" r="2.35"/><circle cx="660.2" cy="336.1" r="2.35"/><circle cx="660.2" cy="321.5" r="2.35"/><circle cx="660.3" cy="314.9" r="2.35"/><circle cx="660.5" cy="325.6" r="2.35"/><circle cx="660.7" cy="315.4" r="2.35"/><circle cx="660.7" cy="313.2" r="2.35"/><circle cx="660.8" cy="321.9" r="2.35"/><circle cx="661" cy="325.9" r="2.35"/><circle cx="661.1" cy="335.1" r="2.35"/><circle cx="661.2" cy="328.7" r="2.35"/><circle cx="661.4" cy="308.6" r="2.35"/><circle cx="661.4" cy="320.8" r="2.35"/><circle cx="661.6" cy="325.5" r="2.35"/><circle cx="661.7" cy="309.7" r="2.35"/><circle cx="661.8" cy="323.5" r="2.35"/><circle cx="661.9" cy="309.7" r="2.35"/><circle cx="662" cy="319.7" r="2.35"/><circle cx="662.1" cy="334.8" r="2.35"/><circle cx="662.3" cy="312" r="2.35"/><circle cx="662.4" cy="321" r="2.35"/><circle cx="662.5" cy="321.3" r="2.35"/><circle cx="662.6" cy="323.7" r="2.35"/><circle cx="662.7" cy="311.1" r="2.35"/><circle cx="662.8" cy="316" r="2.35"/><circle cx="662.9" cy="330.4" r="2.35"/><circle cx="663.1" cy="317" r="2.35"/><circle cx="663.2" cy="300.5" r="2.35"/><circle cx="663.3" cy="320" r="2.35"/><circle cx="663.5" cy="299.8" r="2.35"/><circle cx="663.6" cy="316" r="2.35"/><circle cx="663.7" cy="322.1" r="2.35"/><circle cx="663.8" cy="319.8" r="2.35"/><circle cx="664" cy="329" r="2.35"/><circle cx="664.1" cy="306.5" r="2.35"/><circle cx="664.1" cy="323.8" r="2.35"/><circle cx="664.2" cy="318.1" r="2.35"/><circle cx="664.4" cy="313" r="2.35"/><circle cx="664.5" cy="323.7" r="2.35"/><circle cx="664.6" cy="324.3" r="2.35"/><circle cx="664.8" cy="324.2" r="2.35"/><circle cx="664.9" cy="342.8" r="2.35"/><circle cx="664.9" cy="318.6" r="2.35"/><circle cx="665.1" cy="321.8" r="2.35"/><circle cx="665.2" cy="318" r="2.35"/><circle cx="665.3" cy="330.2" r="2.35"/><circle cx="665.4" cy="326.4" r="2.35"/><circle cx="665.6" cy="322.4" r="2.35"/><circle cx="665.6" cy="305.3" r="2.35"/><circle cx="665.8" cy="319" r="2.35"/><circle cx="665.9" cy="326.8" r="2.35"/><circle cx="666" cy="316.4" r="2.35"/><circle cx="666.1" cy="313.8" r="2.35"/><circle cx="666.3" cy="329" r="2.35"/><circle cx="666.4" cy="324.1" r="2.35"/><circle cx="666.5" cy="309.3" r="2.35"/><circle cx="666.6" cy="335.7" r="2.35"/><circle cx="666.7" cy="325.2" r="2.35"/><circle cx="666.9" cy="315.5" r="2.35"/><circle cx="667" cy="329.8" r="2.35"/><circle cx="667.1" cy="314.3" r="2.35"/><circle cx="667.2" cy="299.6" r="2.35"/><circle cx="667.4" cy="308.3" r="2.35"/><circle cx="667.5" cy="321.9" r="2.35"/><circle cx="667.6" cy="322.3" r="2.35"/><circle cx="667.7" cy="307.2" r="2.35"/><circle cx="667.8" cy="318.8" r="2.35"/><circle cx="667.9" cy="310" r="2.35"/><circle cx="668" cy="328.2" r="2.35"/><circle cx="668.2" cy="322.6" r="2.35"/><circle cx="668.3" cy="314.1" r="2.35"/><circle cx="668.4" cy="328.9" r="2.35"/><circle cx="668.5" cy="316.3" r="2.35"/><circle cx="668.6" cy="318.1" r="2.35"/><circle cx="668.7" cy="327.3" r="2.35"/><circle cx="668.8" cy="333.8" r="2.35"/><circle cx="669" cy="301.1" r="2.35"/><circle cx="669.1" cy="325.4" r="2.35"/><circle cx="669.2" cy="309.5" r="2.35"/><circle cx="669.4" cy="328.4" r="2.35"/><circle cx="669.4" cy="315.4" r="2.35"/><circle cx="669.5" cy="312.9" r="2.35"/><circle cx="669.7" cy="316.5" r="2.35"/><circle cx="669.8" cy="309.6" r="2.35"/><circle cx="669.9" cy="309.9" r="2.35"/><circle cx="670" cy="315" r="2.35"/><circle cx="670.2" cy="332.3" r="2.35"/><circle cx="670.3" cy="315.7" r="2.35"/><circle cx="670.4" cy="323.6" r="2.35"/><circle cx="670.5" cy="315.2" r="2.35"/><circle cx="670.7" cy="307.5" r="2.35"/><circle cx="670.7" cy="329.1" r="2.35"/><circle cx="670.8" cy="334.1" r="2.35"/><circle cx="671" cy="315.8" r="2.35"/><circle cx="671.1" cy="316.2" r="2.35"/><circle cx="671.2" cy="310.4" r="2.35"/><circle cx="671.4" cy="327.7" r="2.35"/><circle cx="671.4" cy="304.3" r="2.35"/><circle cx="671.6" cy="314.3" r="2.35"/><circle cx="671.7" cy="319.9" r="2.35"/><circle cx="671.8" cy="334.6" r="2.35"/><circle cx="671.9" cy="313.6" r="2.35"/><circle cx="672" cy="323" r="2.35"/><circle cx="672.1" cy="316.2" r="2.35"/><circle cx="672.3" cy="331.4" r="2.35"/><circle cx="672.3" cy="320.5" r="2.35"/><circle cx="672.5" cy="314.6" r="2.35"/><circle cx="672.6" cy="325.1" r="2.35"/><circle cx="672.7" cy="317.2" r="2.35"/><circle cx="672.9" cy="316.3" r="2.35"/><circle cx="673" cy="333.9" r="2.35"/><circle cx="673.1" cy="307.6" r="2.35"/><circle cx="673.2" cy="322.5" r="2.35"/><circle cx="673.4" cy="318.7" r="2.35"/><circle cx="673.4" cy="323.9" r="2.35"/><circle cx="673.6" cy="318" r="2.35"/><circle cx="673.7" cy="320.2" r="2.35"/><circle cx="673.8" cy="324.5" r="2.35"/><circle cx="673.9" cy="325.8" r="2.35"/><circle cx="674.1" cy="315.6" r="2.35"/><circle cx="674.1" cy="326.3" r="2.35"/><circle cx="674.3" cy="316.9" r="2.35"/><circle cx="674.3" cy="301.5" r="2.35"/><circle cx="674.5" cy="332.5" r="2.35"/><circle cx="674.6" cy="311.4" r="2.35"/><circle cx="674.7" cy="311" r="2.35"/><circle cx="674.9" cy="310.2" r="2.35"/><circle cx="675" cy="311.9" r="2.35"/><circle cx="675" cy="303.6" r="2.35"/><circle cx="675.2" cy="318.5" r="2.35"/><circle cx="675.3" cy="323.1" r="2.35"/><circle cx="675.4" cy="318.4" r="2.35"/><circle cx="675.6" cy="310.2" r="2.35"/><circle cx="675.7" cy="321.9" r="2.35"/><circle cx="675.8" cy="318" r="2.35"/><circle cx="675.9" cy="329.7" r="2.35"/><circle cx="676" cy="334" r="2.35"/><circle cx="676.2" cy="318.1" r="2.35"/><circle cx="676.3" cy="337.2" r="2.35"/><circle cx="676.4" cy="336" r="2.35"/><circle cx="676.5" cy="320.9" r="2.35"/><circle cx="676.6" cy="309.2" r="2.35"/><circle cx="676.7" cy="331.1" r="2.35"/><circle cx="676.9" cy="309" r="2.35"/><circle cx="677" cy="314.2" r="2.35"/><circle cx="677.1" cy="319.2" r="2.35"/><circle cx="677.3" cy="313.6" r="2.35"/><circle cx="677.3" cy="315.8" r="2.35"/><circle cx="677.4" cy="307.7" r="2.35"/><circle cx="677.5" cy="327.9" r="2.35"/><circle cx="677.7" cy="313.5" r="2.35"/><circle cx="677.8" cy="318.5" r="2.35"/><circle cx="677.9" cy="322.3" r="2.35"/><circle cx="678" cy="308.5" r="2.35"/><circle cx="678.1" cy="319.3" r="2.35"/><circle cx="678.3" cy="320.9" r="2.35"/><circle cx="678.4" cy="317.4" r="2.35"/><circle cx="678.5" cy="315" r="2.35"/><circle cx="678.6" cy="327.4" r="2.35"/><circle cx="678.7" cy="304.1" r="2.35"/><circle cx="678.8" cy="323" r="2.35"/><circle cx="679" cy="313.3" r="2.35"/><circle cx="679.1" cy="316.9" r="2.35"/><circle cx="679.3" cy="321.6" r="2.35"/><circle cx="679.3" cy="312.2" r="2.35"/><circle cx="679.4" cy="320.8" r="2.35"/><circle cx="679.6" cy="325.1" r="2.35"/><circle cx="679.7" cy="301.4" r="2.35"/><circle cx="679.8" cy="332" r="2.35"/><circle cx="679.9" cy="309.7" r="2.35"/><circle cx="680.1" cy="318.7" r="2.35"/><circle cx="680.1" cy="323.8" r="2.35"/><circle cx="680.2" cy="309.1" r="2.35"/><circle cx="680.4" cy="306.5" r="2.35"/><circle cx="680.5" cy="310.9" r="2.35"/><circle cx="680.6" cy="323.5" r="2.35"/><circle cx="680.8" cy="311.6" r="2.35"/><circle cx="680.8" cy="319.5" r="2.35"/><circle cx="681" cy="307.7" r="2.35"/><circle cx="681.1" cy="328.4" r="2.35"/><circle cx="681.2" cy="316.2" r="2.35"/><circle cx="681.4" cy="322.3" r="2.35"/><circle cx="681.4" cy="315.5" r="2.35"/><circle cx="681.6" cy="322.6" r="2.35"/><circle cx="681.7" cy="319.8" r="2.35"/><circle cx="681.8" cy="318.2" r="2.35"/><circle cx="681.9" cy="316.3" r="2.35"/><circle cx="682.1" cy="316.6" r="2.35"/><circle cx="682.1" cy="321.6" r="2.35"/><circle cx="682.3" cy="320.8" r="2.35"/><circle cx="682.4" cy="320.2" r="2.35"/><circle cx="682.5" cy="322.7" r="2.35"/><circle cx="682.7" cy="328" r="2.35"/><circle cx="682.7" cy="320" r="2.35"/><circle cx="682.9" cy="314.1" r="2.35"/><circle cx="682.9" cy="313.9" r="2.35"/><circle cx="683.1" cy="320" r="2.35"/><circle cx="683.2" cy="320.2" r="2.35"/><circle cx="683.4" cy="322.2" r="2.35"/><circle cx="683.5" cy="312" r="2.35"/><circle cx="683.5" cy="321.4" r="2.35"/><circle cx="683.6" cy="320.7" r="2.35"/><circle cx="683.8" cy="298.3" r="2.35"/><circle cx="683.9" cy="325.4" r="2.35"/><circle cx="684.1" cy="321.4" r="2.35"/><circle cx="684.1" cy="320.5" r="2.35"/><circle cx="684.2" cy="325.5" r="2.35"/><circle cx="684.3" cy="314.1" r="2.35"/><circle cx="684.5" cy="314.3" r="2.35"/><circle cx="684.6" cy="327.7" r="2.35"/><circle cx="684.7" cy="334.2" r="2.35"/><circle cx="684.8" cy="316.5" r="2.35"/><circle cx="685" cy="327" r="2.35"/><circle cx="685.1" cy="333" r="2.35"/><circle cx="685.2" cy="308.6" r="2.35"/><circle cx="685.3" cy="308.9" r="2.35"/><circle cx="685.4" cy="317.2" r="2.35"/><circle cx="685.6" cy="310.8" r="2.35"/><circle cx="685.7" cy="313.7" r="2.35"/><circle cx="685.8" cy="311.9" r="2.35"/><circle cx="685.9" cy="313.6" r="2.35"/><circle cx="686.1" cy="320.9" r="2.35"/><circle cx="686.2" cy="315.6" r="2.35"/><circle cx="686.3" cy="318.7" r="2.35"/><circle cx="686.4" cy="320.3" r="2.35"/><circle cx="686.5" cy="315.2" r="2.35"/><circle cx="686.7" cy="326.3" r="2.35"/><circle cx="686.7" cy="323.4" r="2.35"/><circle cx="686.8" cy="314.3" r="2.35"/><circle cx="687" cy="311.3" r="2.35"/><circle cx="687" cy="314.9" r="2.35"/><circle cx="687.2" cy="323.7" r="2.35"/><circle cx="687.4" cy="323.9" r="2.35"/><circle cx="687.4" cy="311.4" r="2.35"/><circle cx="687.5" cy="322.3" r="2.35"/><circle cx="687.7" cy="315.6" r="2.35"/><circle cx="687.8" cy="320" r="2.35"/><circle cx="687.9" cy="317.2" r="2.35"/><circle cx="688.1" cy="319.7" r="2.35"/><circle cx="688.2" cy="316.3" r="2.35"/><circle cx="688.3" cy="307.1" r="2.35"/><circle cx="688.4" cy="317.4" r="2.35"/><circle cx="688.5" cy="314.8" r="2.35"/><circle cx="688.6" cy="331.8" r="2.35"/><circle cx="688.8" cy="318.5" r="2.35"/><circle cx="688.9" cy="313.7" r="2.35"/><circle cx="688.9" cy="329.1" r="2.35"/><circle cx="689.1" cy="314.8" r="2.35"/><circle cx="689.2" cy="327.3" r="2.35"/><circle cx="689.3" cy="319" r="2.35"/><circle cx="689.5" cy="309.5" r="2.35"/><circle cx="689.5" cy="325.2" r="2.35"/><circle cx="689.6" cy="321.3" r="2.35"/><circle cx="689.8" cy="319.6" r="2.35"/><circle cx="689.9" cy="309" r="2.35"/><circle cx="690.1" cy="321.9" r="2.35"/><circle cx="690.1" cy="314" r="2.35"/><circle cx="690.3" cy="323.2" r="2.35"/><circle cx="690.4" cy="330" r="2.35"/><circle cx="690.5" cy="316" r="2.35"/><circle cx="690.7" cy="317.3" r="2.35"/><circle cx="690.7" cy="308.3" r="2.35"/><circle cx="690.8" cy="302.9" r="2.35"/><circle cx="691" cy="313.1" r="2.35"/><circle cx="691" cy="324.8" r="2.35"/><circle cx="691.2" cy="314.7" r="2.35"/><circle cx="691.4" cy="319.9" r="2.35"/><circle cx="691.4" cy="315.1" r="2.35"/><circle cx="691.6" cy="308.2" r="2.35"/><circle cx="691.7" cy="315.9" r="2.35"/><circle cx="691.8" cy="303.5" r="2.35"/><circle cx="691.9" cy="328.5" r="2.35"/><circle cx="692" cy="322.3" r="2.35"/><circle cx="692.1" cy="313.6" r="2.35"/><circle cx="692.3" cy="327" r="2.35"/><circle cx="692.4" cy="317.2" r="2.35"/><circle cx="692.5" cy="318" r="2.35"/><circle cx="692.6" cy="333.5" r="2.35"/><circle cx="692.7" cy="310.7" r="2.35"/><circle cx="692.8" cy="324.9" r="2.35"/><circle cx="693" cy="319.3" r="2.35"/><circle cx="693.1" cy="308.9" r="2.35"/><circle cx="693.2" cy="327.8" r="2.35"/><circle cx="693.4" cy="333.4" r="2.35"/><circle cx="693.5" cy="308.7" r="2.35"/><circle cx="693.6" cy="319.2" r="2.35"/><circle cx="693.6" cy="312.2" r="2.35"/><circle cx="693.9" cy="327.5" r="2.35"/><circle cx="694" cy="311" r="2.35"/><circle cx="694.1" cy="329" r="2.35"/><circle cx="694.1" cy="312.4" r="2.35"/><circle cx="694.3" cy="336.6" r="2.35"/><circle cx="694.4" cy="317.5" r="2.35"/><circle cx="694.5" cy="329.5" r="2.35"/><circle cx="694.6" cy="307.2" r="2.35"/><circle cx="694.8" cy="317.2" r="2.35"/><circle cx="694.8" cy="319.4" r="2.35"/><circle cx="695" cy="299.5" r="2.35"/><circle cx="695.2" cy="326.8" r="2.35"/><circle cx="695.2" cy="316.1" r="2.35"/><circle cx="695.4" cy="318.5" r="2.35"/><circle cx="695.4" cy="323.6" r="2.35"/><circle cx="695.6" cy="327" r="2.35"/><circle cx="695.7" cy="302.7" r="2.35"/><circle cx="695.8" cy="306.7" r="2.35"/><circle cx="696" cy="330" r="2.35"/><circle cx="696" cy="316.6" r="2.35"/><circle cx="696.2" cy="327.4" r="2.35"/><circle cx="696.3" cy="319.6" r="2.35"/><circle cx="696.4" cy="308.9" r="2.35"/><circle cx="696.5" cy="312.3" r="2.35"/><circle cx="696.6" cy="305.1" r="2.35"/><circle cx="696.8" cy="315.8" r="2.35"/><circle cx="696.9" cy="324.9" r="2.35"/><circle cx="697" cy="322.8" r="2.35"/><circle cx="697" cy="324.6" r="2.35"/><circle cx="697.3" cy="313.7" r="2.35"/><circle cx="697.3" cy="334.3" r="2.35"/><circle cx="697.4" cy="307.5" r="2.35"/><circle cx="697.6" cy="317" r="2.35"/><circle cx="697.7" cy="320.4" r="2.35"/><circle cx="697.8" cy="329.7" r="2.35"/><circle cx="697.9" cy="324.8" r="2.35"/><circle cx="698.1" cy="320.8" r="2.35"/><circle cx="698.2" cy="311" r="2.35"/><circle cx="698.2" cy="312.7" r="2.35"/><circle cx="698.3" cy="311.3" r="2.35"/><circle cx="698.5" cy="314.3" r="2.35"/><circle cx="698.6" cy="327.7" r="2.35"/><circle cx="698.8" cy="313.2" r="2.35"/><circle cx="698.8" cy="310.6" r="2.35"/><circle cx="698.9" cy="330.1" r="2.35"/><circle cx="699.1" cy="327.4" r="2.35"/><circle cx="699.2" cy="308.2" r="2.35"/><circle cx="699.3" cy="335.1" r="2.35"/><circle cx="699.5" cy="322.8" r="2.35"/><circle cx="699.5" cy="303.9" r="2.35"/><circle cx="699.7" cy="327" r="2.35"/><circle cx="699.8" cy="318.7" r="2.35"/><circle cx="699.9" cy="327.7" r="2.35"/><circle cx="700" cy="315.1" r="2.35"/><circle cx="700.2" cy="326.9" r="2.35"/><circle cx="700.3" cy="318.4" r="2.35"/><circle cx="700.4" cy="311.9" r="2.35"/><circle cx="700.5" cy="326" r="2.35"/><circle cx="700.7" cy="332.8" r="2.35"/><circle cx="700.8" cy="319.2" r="2.35"/><circle cx="700.9" cy="311.4" r="2.35"/><circle cx="701" cy="315.7" r="2.35"/><circle cx="701" cy="326.1" r="2.35"/><circle cx="701.2" cy="319.9" r="2.35"/><circle cx="701.4" cy="321.5" r="2.35"/><circle cx="701.4" cy="321.2" r="2.35"/><circle cx="701.5" cy="318.7" r="2.35"/><circle cx="701.6" cy="327.2" r="2.35"/><circle cx="701.8" cy="323" r="2.35"/><circle cx="701.9" cy="315.1" r="2.35"/><circle cx="702" cy="323.1" r="2.35"/><circle cx="702.1" cy="323.2" r="2.35"/><circle cx="702.3" cy="323.4" r="2.35"/><circle cx="702.4" cy="316.8" r="2.35"/><circle cx="702.5" cy="312.9" r="2.35"/><circle cx="702.6" cy="322.7" r="2.35"/><circle cx="702.7" cy="322.9" r="2.35"/><circle cx="702.9" cy="324.3" r="2.35"/><circle cx="702.9" cy="326.5" r="2.35"/><circle cx="703" cy="316.9" r="2.35"/><circle cx="703.2" cy="323.1" r="2.35"/><circle cx="703.3" cy="322" r="2.35"/><circle cx="703.5" cy="314.4" r="2.35"/><circle cx="703.5" cy="309.9" r="2.35"/><circle cx="703.7" cy="314.9" r="2.35"/><circle cx="703.8" cy="322.6" r="2.35"/><circle cx="704" cy="324.8" r="2.35"/><circle cx="704" cy="318.5" r="2.35"/><circle cx="704.2" cy="311.7" r="2.35"/><circle cx="704.2" cy="327.3" r="2.35"/><circle cx="704.4" cy="307.8" r="2.35"/><circle cx="704.5" cy="316" r="2.35"/><circle cx="704.6" cy="313.9" r="2.35"/><circle cx="704.7" cy="314.3" r="2.35"/><circle cx="704.9" cy="336" r="2.35"/><circle cx="705" cy="314" r="2.35"/><circle cx="705.1" cy="328.4" r="2.35"/><circle cx="705.2" cy="322.2" r="2.35"/><circle cx="705.4" cy="322.6" r="2.35"/><circle cx="705.4" cy="324.4" r="2.35"/><circle cx="705.6" cy="316.5" r="2.35"/><circle cx="705.7" cy="306" r="2.35"/><circle cx="705.8" cy="327.8" r="2.35"/><circle cx="706" cy="317.9" r="2.35"/><circle cx="706" cy="325.1" r="2.35"/><circle cx="706.2" cy="306.6" r="2.35"/><circle cx="706.3" cy="329.5" r="2.35"/><circle cx="706.4" cy="309.3" r="2.35"/><circle cx="706.5" cy="319.6" r="2.35"/><circle cx="706.6" cy="311.3" r="2.35"/><circle cx="706.7" cy="322.5" r="2.35"/><circle cx="706.8" cy="327.8" r="2.35"/><circle cx="707" cy="307.6" r="2.35"/><circle cx="707.1" cy="312.5" r="2.35"/><circle cx="707.2" cy="314" r="2.35"/><circle cx="707.3" cy="305.5" r="2.35"/><circle cx="707.5" cy="318.2" r="2.35"/><circle cx="707.6" cy="331.3" r="2.35"/><circle cx="707.6" cy="311.9" r="2.35"/><circle cx="707.8" cy="322.3" r="2.35"/><circle cx="707.9" cy="321.9" r="2.35"/><circle cx="708.1" cy="322.6" r="2.35"/><circle cx="708.2" cy="307.2" r="2.35"/><circle cx="708.3" cy="319.8" r="2.35"/><circle cx="708.4" cy="314.7" r="2.35"/><circle cx="708.5" cy="325" r="2.35"/><circle cx="708.6" cy="302.3" r="2.35"/><circle cx="708.7" cy="331.1" r="2.35"/><circle cx="708.9" cy="335.7" r="2.35"/><circle cx="709" cy="308.1" r="2.35"/><circle cx="709.1" cy="332.2" r="2.35"/><circle cx="709.2" cy="309.9" r="2.35"/><circle cx="709.4" cy="320.6" r="2.35"/><circle cx="709.5" cy="309.3" r="2.35"/><circle cx="709.6" cy="319.4" r="2.35"/><circle cx="709.7" cy="337.9" r="2.35"/><circle cx="709.8" cy="325.7" r="2.35"/><circle cx="709.9" cy="312.9" r="2.35"/><circle cx="710" cy="300" r="2.35"/><circle cx="710.2" cy="323.5" r="2.35"/><circle cx="710.3" cy="301.7" r="2.35"/><circle cx="710.4" cy="321" r="2.35"/><circle cx="710.5" cy="331.6" r="2.35"/><circle cx="710.6" cy="328.5" r="2.35"/><circle cx="710.8" cy="329.9" r="2.35"/><circle cx="710.9" cy="320.9" r="2.35"/><circle cx="711" cy="313.4" r="2.35"/><circle cx="711.1" cy="305.1" r="2.35"/><circle cx="711.3" cy="316.7" r="2.35"/><circle cx="711.4" cy="325.4" r="2.35"/><circle cx="711.5" cy="325.5" r="2.35"/><circle cx="711.6" cy="323" r="2.35"/><circle cx="711.6" cy="328.1" r="2.35"/><circle cx="711.9" cy="325.3" r="2.35"/><circle cx="711.9" cy="308" r="2.35"/><circle cx="712" cy="306.3" r="2.35"/><circle cx="712.1" cy="311.9" r="2.35"/><circle cx="712.3" cy="317.3" r="2.35"/><circle cx="712.4" cy="308.6" r="2.35"/><circle cx="712.5" cy="321.2" r="2.35"/><circle cx="712.7" cy="326.9" r="2.35"/><circle cx="712.7" cy="324.3" r="2.35"/><circle cx="712.9" cy="318" r="2.35"/><circle cx="713" cy="324" r="2.35"/><circle cx="713.1" cy="304.3" r="2.35"/><circle cx="713.2" cy="323.6" r="2.35"/><circle cx="713.3" cy="313.6" r="2.35"/><circle cx="713.5" cy="338" r="2.35"/><circle cx="713.5" cy="324.2" r="2.35"/><circle cx="713.7" cy="326.3" r="2.35"/><circle cx="713.7" cy="328.9" r="2.35"/><circle cx="714" cy="307.1" r="2.35"/><circle cx="714" cy="315.5" r="2.35"/><circle cx="714.1" cy="314.1" r="2.35"/><circle cx="714.2" cy="313.5" r="2.35"/><circle cx="714.4" cy="321.3" r="2.35"/><circle cx="714.5" cy="311.3" r="2.35"/><circle cx="714.7" cy="322.9" r="2.35"/><circle cx="714.7" cy="336.8" r="2.35"/><circle cx="714.9" cy="308.8" r="2.35"/><circle cx="715" cy="314.6" r="2.35"/><circle cx="715.1" cy="311.6" r="2.35"/><circle cx="715.2" cy="328.9" r="2.35"/><circle cx="715.3" cy="311.6" r="2.35"/><circle cx="715.5" cy="311.5" r="2.35"/><circle cx="715.5" cy="305.7" r="2.35"/><circle cx="715.7" cy="320.3" r="2.35"/><circle cx="715.8" cy="309" r="2.35"/><circle cx="715.9" cy="332.4" r="2.35"/><circle cx="716" cy="327.4" r="2.35"/><circle cx="716.2" cy="322.5" r="2.35"/><circle cx="716.3" cy="305.6" r="2.35"/><circle cx="716.4" cy="318.9" r="2.35"/><circle cx="716.5" cy="320" r="2.35"/><circle cx="716.6" cy="323" r="2.35"/><circle cx="716.8" cy="309.5" r="2.35"/><circle cx="716.8" cy="312.5" r="2.35"/><circle cx="717" cy="310.9" r="2.35"/><circle cx="717.1" cy="311.1" r="2.35"/><circle cx="717.2" cy="314.8" r="2.35"/><circle cx="717.4" cy="311.5" r="2.35"/><circle cx="717.4" cy="325.5" r="2.35"/><circle cx="717.5" cy="307.3" r="2.35"/><circle cx="717.7" cy="324.4" r="2.35"/><circle cx="717.8" cy="322.5" r="2.35"/><circle cx="718" cy="323.2" r="2.35"/><circle cx="718.1" cy="314.1" r="2.35"/><circle cx="718.2" cy="327.1" r="2.35"/><circle cx="718.3" cy="313.2" r="2.35"/><circle cx="718.4" cy="316.4" r="2.35"/><circle cx="718.6" cy="314.8" r="2.35"/><circle cx="718.6" cy="321.6" r="2.35"/><circle cx="718.7" cy="326.6" r="2.35"/><circle cx="718.9" cy="316.2" r="2.35"/><circle cx="718.9" cy="334.2" r="2.35"/><circle cx="719.1" cy="329.3" r="2.35"/><circle cx="719.2" cy="310.1" r="2.35"/><circle cx="719.4" cy="325.5" r="2.35"/><circle cx="719.5" cy="319.7" r="2.35"/><circle cx="719.5" cy="318.3" r="2.35"/><circle cx="719.7" cy="326.5" r="2.35"/><circle cx="719.8" cy="318" r="2.35"/><circle cx="719.9" cy="332.5" r="2.35"/><circle cx="720.1" cy="318.9" r="2.35"/><circle cx="720.2" cy="326.7" r="2.35"/><circle cx="720.2" cy="337.6" r="2.35"/><circle cx="720.4" cy="320.5" r="2.35"/><circle cx="720.6" cy="309.7" r="2.35"/><circle cx="720.7" cy="323.3" r="2.35"/><circle cx="720.8" cy="315.2" r="2.35"/><circle cx="720.8" cy="331" r="2.35"/><circle cx="721" cy="302.2" r="2.35"/><circle cx="721.2" cy="309.6" r="2.35"/><circle cx="721.2" cy="321.5" r="2.35"/><circle cx="721.3" cy="311.2" r="2.35"/><circle cx="721.4" cy="330.8" r="2.35"/><circle cx="721.6" cy="320.5" r="2.35"/><circle cx="721.7" cy="331.5" r="2.35"/><circle cx="721.8" cy="322.1" r="2.35"/><circle cx="722" cy="307.1" r="2.35"/><circle cx="722" cy="319.8" r="2.35"/><circle cx="722.2" cy="336.5" r="2.35"/><circle cx="722.3" cy="306" r="2.35"/><circle cx="722.4" cy="315.9" r="2.35"/><circle cx="722.6" cy="308" r="2.35"/><circle cx="722.6" cy="313.5" r="2.35"/><circle cx="722.8" cy="306.9" r="2.35"/><circle cx="722.9" cy="325.1" r="2.35"/><circle cx="723" cy="323.8" r="2.35"/><circle cx="723.1" cy="331.2" r="2.35"/><circle cx="723.3" cy="320" r="2.35"/><circle cx="723.3" cy="329.9" r="2.35"/><circle cx="723.5" cy="313.5" r="2.35"/><circle cx="723.6" cy="326.7" r="2.35"/><circle cx="723.7" cy="326.8" r="2.35"/><circle cx="723.8" cy="328.7" r="2.35"/><circle cx="723.9" cy="331.2" r="2.35"/><circle cx="724.1" cy="326.9" r="2.35"/><circle cx="724.1" cy="327.5" r="2.35"/><circle cx="724.3" cy="304.1" r="2.35"/><circle cx="724.4" cy="323.1" r="2.35"/><circle cx="724.5" cy="322.9" r="2.35"/><circle cx="724.7" cy="325.7" r="2.35"/><circle cx="724.7" cy="315.7" r="2.35"/><circle cx="724.9" cy="323.4" r="2.35"/><circle cx="725" cy="318.4" r="2.35"/><circle cx="725.2" cy="309.9" r="2.35"/><circle cx="725.2" cy="327.4" r="2.35"/><circle cx="725.3" cy="321.4" r="2.35"/><circle cx="725.4" cy="320.2" r="2.35"/><circle cx="725.6" cy="325.4" r="2.35"/><circle cx="725.7" cy="334.7" r="2.35"/><circle cx="725.8" cy="317.3" r="2.35"/><circle cx="726" cy="323.4" r="2.35"/><circle cx="726" cy="326.4" r="2.35"/><circle cx="726.1" cy="319.1" r="2.35"/><circle cx="726.3" cy="325" r="2.35"/><circle cx="726.4" cy="332.9" r="2.35"/><circle cx="726.5" cy="309.9" r="2.35"/><circle cx="726.6" cy="308.7" r="2.35"/><circle cx="726.7" cy="324.9" r="2.35"/><circle cx="726.9" cy="317.2" r="2.35"/><circle cx="727" cy="339.2" r="2.35"/><circle cx="727.1" cy="313.5" r="2.35"/><circle cx="727.2" cy="310.6" r="2.35"/><circle cx="727.3" cy="318" r="2.35"/><circle cx="727.5" cy="306" r="2.35"/><circle cx="727.5" cy="329.9" r="2.35"/><circle cx="727.7" cy="318.3" r="2.35"/><circle cx="727.8" cy="317.7" r="2.35"/><circle cx="727.9" cy="334.6" r="2.35"/><circle cx="728" cy="327.9" r="2.35"/><circle cx="728.2" cy="302.6" r="2.35"/><circle cx="728.3" cy="311.2" r="2.35"/><circle cx="728.3" cy="326.2" r="2.35"/><circle cx="728.5" cy="318" r="2.35"/><circle cx="728.6" cy="309.5" r="2.35"/><circle cx="728.7" cy="315.3" r="2.35"/><circle cx="728.9" cy="318" r="2.35"/><circle cx="729" cy="309.6" r="2.35"/><circle cx="729.1" cy="320.9" r="2.35"/><circle cx="729.2" cy="312.2" r="2.35"/><circle cx="729.4" cy="306.6" r="2.35"/><circle cx="729.4" cy="308.4" r="2.35"/><circle cx="729.6" cy="310.7" r="2.35"/><circle cx="729.7" cy="318.5" r="2.35"/><circle cx="729.8" cy="325.5" r="2.35"/><circle cx="729.9" cy="319.7" r="2.35"/><circle cx="730.1" cy="311" r="2.35"/><circle cx="730.2" cy="313.2" r="2.35"/><circle cx="730.2" cy="328.6" r="2.35"/><circle cx="730.4" cy="326.4" r="2.35"/><circle cx="730.5" cy="308.6" r="2.35"/><circle cx="730.6" cy="326.4" r="2.35"/><circle cx="730.7" cy="311.2" r="2.35"/><circle cx="730.9" cy="313.1" r="2.35"/><circle cx="731" cy="320.8" r="2.35"/><circle cx="731.1" cy="326.7" r="2.35"/><circle cx="731.2" cy="306.7" r="2.35"/><circle cx="731.3" cy="328.4" r="2.35"/><circle cx="731.5" cy="327.6" r="2.35"/><circle cx="731.6" cy="325.1" r="2.35"/><circle cx="731.7" cy="315" r="2.35"/><circle cx="731.9" cy="320.7" r="2.35"/><circle cx="732" cy="310" r="2.35"/><circle cx="732.1" cy="316.5" r="2.35"/><circle cx="732.2" cy="330.5" r="2.35"/><circle cx="732.2" cy="311.7" r="2.35"/><circle cx="732.4" cy="307.1" r="2.35"/><circle cx="732.5" cy="314.6" r="2.35"/><circle cx="732.6" cy="320.9" r="2.35"/><circle cx="732.8" cy="330.2" r="2.35"/><circle cx="732.9" cy="315.7" r="2.35"/><circle cx="733" cy="321.3" r="2.35"/><circle cx="733.2" cy="307.6" r="2.35"/><circle cx="733.2" cy="318.6" r="2.35"/><circle cx="733.4" cy="321.8" r="2.35"/><circle cx="733.4" cy="304.4" r="2.35"/><circle cx="733.6" cy="301.3" r="2.35"/><circle cx="733.7" cy="323.2" r="2.35"/><circle cx="733.8" cy="308.7" r="2.35"/><circle cx="733.9" cy="312.9" r="2.35"/><circle cx="734" cy="323.8" r="2.35"/><circle cx="734.2" cy="324.6" r="2.35"/><circle cx="734.3" cy="315.9" r="2.35"/><circle cx="734.4" cy="305.3" r="2.35"/><circle cx="734.5" cy="317.4" r="2.35"/><circle cx="734.6" cy="319.7" r="2.35"/><circle cx="734.8" cy="337.4" r="2.35"/><circle cx="734.9" cy="311" r="2.35"/><circle cx="735" cy="325.8" r="2.35"/><circle cx="735" cy="331.6" r="2.35"/><circle cx="735.2" cy="318.9" r="2.35"/><circle cx="735.3" cy="330.8" r="2.35"/><circle cx="735.5" cy="321.1" r="2.35"/><circle cx="735.6" cy="313.4" r="2.35"/><circle cx="735.7" cy="320.5" r="2.35"/><circle cx="735.8" cy="326.1" r="2.35"/><circle cx="735.9" cy="322.8" r="2.35"/><circle cx="736" cy="328.7" r="2.35"/><circle cx="736.2" cy="321.4" r="2.35"/><circle cx="736.3" cy="324.2" r="2.35"/><circle cx="736.4" cy="308.7" r="2.35"/><circle cx="736.5" cy="308.1" r="2.35"/><circle cx="736.7" cy="325.2" r="2.35"/><circle cx="736.7" cy="322.4" r="2.35"/><circle cx="736.9" cy="303.2" r="2.35"/><circle cx="736.9" cy="341.7" r="2.35"/><circle cx="737.1" cy="314.8" r="2.35"/><circle cx="737.2" cy="294.8" r="2.35"/><circle cx="737.3" cy="330.1" r="2.35"/><circle cx="737.5" cy="312.6" r="2.35"/><circle cx="737.6" cy="328.4" r="2.35"/><circle cx="737.7" cy="324.2" r="2.35"/><circle cx="737.8" cy="316.3" r="2.35"/><circle cx="737.9" cy="329.6" r="2.35"/><circle cx="738.1" cy="318.7" r="2.35"/><circle cx="738.2" cy="323.8" r="2.35"/><circle cx="738.3" cy="314" r="2.35"/><circle cx="738.4" cy="315.8" r="2.35"/><circle cx="738.6" cy="299.5" r="2.35"/><circle cx="738.7" cy="318.1" r="2.35"/><circle cx="738.8" cy="328.2" r="2.35"/><circle cx="738.9" cy="318.8" r="2.35"/><circle cx="739" cy="303.3" r="2.35"/><circle cx="739.2" cy="305.7" r="2.35"/><circle cx="739.2" cy="318.3" r="2.35"/><circle cx="739.4" cy="319.8" r="2.35"/><circle cx="739.5" cy="313.3" r="2.35"/><circle cx="739.5" cy="320.4" r="2.35"/><circle cx="739.7" cy="315.4" r="2.35"/><circle cx="739.8" cy="321.9" r="2.35"/><circle cx="739.9" cy="307.4" r="2.35"/><circle cx="740" cy="320.7" r="2.35"/><circle cx="740.2" cy="321.9" r="2.35"/><circle cx="740.3" cy="314.2" r="2.35"/><circle cx="740.4" cy="329.2" r="2.35"/><circle cx="740.5" cy="323.3" r="2.35"/><circle cx="740.6" cy="321.7" r="2.35"/><circle cx="740.7" cy="313.9" r="2.35"/><circle cx="740.9" cy="324.7" r="2.35"/><circle cx="741" cy="315.2" r="2.35"/><circle cx="741.1" cy="320.1" r="2.35"/><circle cx="741.2" cy="326.6" r="2.35"/><circle cx="741.3" cy="311.7" r="2.35"/><circle cx="741.5" cy="316.7" r="2.35"/><circle cx="741.6" cy="307.4" r="2.35"/><circle cx="741.6" cy="322.8" r="2.35"/><circle cx="741.8" cy="331.2" r="2.35"/><circle cx="741.9" cy="316.9" r="2.35"/><circle cx="742" cy="311.9" r="2.35"/><circle cx="742.2" cy="310.1" r="2.35"/><circle cx="742.3" cy="322.6" r="2.35"/><circle cx="742.4" cy="314.3" r="2.35"/><circle cx="742.5" cy="318.7" r="2.35"/><circle cx="742.6" cy="314.1" r="2.35"/><circle cx="742.7" cy="318.7" r="2.35"/><circle cx="742.9" cy="312.5" r="2.35"/><circle cx="743" cy="311.9" r="2.35"/><circle cx="743.1" cy="321.5" r="2.35"/><circle cx="743.2" cy="332.2" r="2.35"/><circle cx="743.4" cy="312.6" r="2.35"/><circle cx="743.4" cy="315" r="2.35"/><circle cx="743.5" cy="324.8" r="2.35"/><circle cx="743.7" cy="314" r="2.35"/><circle cx="743.9" cy="324" r="2.35"/><circle cx="743.9" cy="315.7" r="2.35"/><circle cx="744.1" cy="312.8" r="2.35"/><circle cx="744.2" cy="325.7" r="2.35"/><circle cx="744.3" cy="321.1" r="2.35"/><circle cx="744.4" cy="322.3" r="2.35"/><circle cx="744.5" cy="332.1" r="2.35"/><circle cx="744.7" cy="327.3" r="2.35"/><circle cx="744.8" cy="305.5" r="2.35"/><circle cx="744.8" cy="308.7" r="2.35"/><circle cx="745" cy="312.9" r="2.35"/><circle cx="745.1" cy="321" r="2.35"/><circle cx="745.3" cy="312.8" r="2.35"/><circle cx="745.3" cy="318.9" r="2.35"/><circle cx="745.5" cy="334.5" r="2.35"/><circle cx="745.6" cy="324.3" r="2.35"/><circle cx="745.7" cy="322.4" r="2.35"/><circle cx="745.9" cy="317.2" r="2.35"/><circle cx="745.9" cy="322.9" r="2.35"/><circle cx="746" cy="330.1" r="2.35"/><circle cx="746.1" cy="336.4" r="2.35"/><circle cx="746.2" cy="324" r="2.35"/><circle cx="746.4" cy="306.9" r="2.35"/><circle cx="746.6" cy="324.3" r="2.35"/><circle cx="746.6" cy="321.9" r="2.35"/><circle cx="746.8" cy="317.3" r="2.35"/><circle cx="746.9" cy="305.9" r="2.35"/><circle cx="747" cy="330.9" r="2.35"/><circle cx="747.1" cy="329.6" r="2.35"/><circle cx="747.2" cy="313.1" r="2.35"/><circle cx="747.4" cy="309.9" r="2.35"/><circle cx="747.5" cy="338.6" r="2.35"/><circle cx="747.6" cy="319.2" r="2.35"/><circle cx="747.7" cy="320.6" r="2.35"/><circle cx="747.8" cy="318" r="2.35"/><circle cx="747.9" cy="320.2" r="2.35"/><circle cx="748.1" cy="332.9" r="2.35"/><circle cx="748.2" cy="329.9" r="2.35"/><circle cx="748.3" cy="305.2" r="2.35"/><circle cx="748.4" cy="336.7" r="2.35"/><circle cx="748.5" cy="325.5" r="2.35"/><circle cx="748.6" cy="310.5" r="2.35"/><circle cx="748.7" cy="324.6" r="2.35"/><circle cx="748.9" cy="326.3" r="2.35"/><circle cx="749" cy="334.1" r="2.35"/><circle cx="749.1" cy="327.7" r="2.35"/><circle cx="749.3" cy="321.4" r="2.35"/><circle cx="749.4" cy="311.5" r="2.35"/><circle cx="749.5" cy="330.7" r="2.35"/><circle cx="749.5" cy="316.8" r="2.35"/><circle cx="749.7" cy="318.5" r="2.35"/><circle cx="749.8" cy="321.2" r="2.35"/><circle cx="749.9" cy="314.4" r="2.35"/><circle cx="750.1" cy="328.3" r="2.35"/><circle cx="750.2" cy="318.8" r="2.35"/><circle cx="750.3" cy="315.3" r="2.35"/><circle cx="750.4" cy="312.3" r="2.35"/><circle cx="750.5" cy="306.6" r="2.35"/><circle cx="750.7" cy="330.3" r="2.35"/><circle cx="750.8" cy="313.9" r="2.35"/><circle cx="750.8" cy="325.4" r="2.35"/><circle cx="751" cy="323.4" r="2.35"/><circle cx="751.1" cy="316.5" r="2.35"/><circle cx="751.2" cy="313.2" r="2.35"/><circle cx="751.3" cy="319.7" r="2.35"/><circle cx="751.4" cy="320.8" r="2.35"/><circle cx="751.6" cy="293.8" r="2.35"/><circle cx="751.7" cy="320.7" r="2.35"/><circle cx="751.8" cy="328.5" r="2.35"/><circle cx="751.9" cy="315.1" r="2.35"/><circle cx="752" cy="322.7" r="2.35"/><circle cx="752.2" cy="318.3" r="2.35"/><circle cx="752.3" cy="310.2" r="2.35"/><circle cx="752.4" cy="318.1" r="2.35"/><circle cx="752.5" cy="314.7" r="2.35"/><circle cx="752.7" cy="322.7" r="2.35"/><circle cx="752.8" cy="321.9" r="2.35"/><circle cx="752.8" cy="319.6" r="2.35"/><circle cx="753.1" cy="318.3" r="2.35"/><circle cx="753.1" cy="305.2" r="2.35"/><circle cx="753.2" cy="312.7" r="2.35"/><circle cx="753.4" cy="331.8" r="2.35"/><circle cx="753.5" cy="326.6" r="2.35"/><circle cx="753.6" cy="320.2" r="2.35"/><circle cx="753.7" cy="310.8" r="2.35"/><circle cx="753.9" cy="318.5" r="2.35"/><circle cx="753.9" cy="315.2" r="2.35"/><circle cx="754.1" cy="308.5" r="2.35"/><circle cx="754.1" cy="312.9" r="2.35"/><circle cx="754.3" cy="322.6" r="2.35"/><circle cx="754.4" cy="320.4" r="2.35"/><circle cx="754.5" cy="316.2" r="2.35"/><circle cx="754.6" cy="306.6" r="2.35"/><circle cx="754.8" cy="333" r="2.35"/><circle cx="754.9" cy="320.4" r="2.35"/><circle cx="755" cy="320.4" r="2.35"/><circle cx="755.1" cy="317.6" r="2.35"/><circle cx="755.2" cy="312.7" r="2.35"/><circle cx="755.3" cy="334.3" r="2.35"/><circle cx="755.5" cy="326.9" r="2.35"/><circle cx="755.6" cy="332.6" r="2.35"/><circle cx="755.7" cy="319.3" r="2.35"/><circle cx="755.8" cy="330.1" r="2.35"/><circle cx="755.9" cy="316.8" r="2.35"/><circle cx="756.1" cy="307.6" r="2.35"/><circle cx="756.2" cy="312.7" r="2.35"/><circle cx="756.3" cy="309" r="2.35"/><circle cx="756.4" cy="337.6" r="2.35"/><circle cx="756.5" cy="312.5" r="2.35"/><circle cx="756.7" cy="317" r="2.35"/><circle cx="756.7" cy="306.3" r="2.35"/><circle cx="756.8" cy="321.2" r="2.35"/><circle cx="757" cy="313.2" r="2.35"/><circle cx="757.1" cy="330.4" r="2.35"/><circle cx="757.2" cy="313.5" r="2.35"/><circle cx="757.3" cy="324" r="2.35"/><circle cx="757.4" cy="301.6" r="2.35"/><circle cx="757.6" cy="319" r="2.35"/><circle cx="757.7" cy="322.3" r="2.35"/><circle cx="757.8" cy="315.6" r="2.35"/><circle cx="758" cy="322.5" r="2.35"/><circle cx="758.1" cy="309.4" r="2.35"/><circle cx="758.1" cy="325.6" r="2.35"/><circle cx="758.3" cy="315.6" r="2.35"/><circle cx="758.4" cy="320.5" r="2.35"/><circle cx="758.6" cy="331.5" r="2.35"/><circle cx="758.6" cy="309.6" r="2.35"/><circle cx="758.8" cy="311.6" r="2.35"/><circle cx="758.9" cy="313.2" r="2.35"/><circle cx="759" cy="310.5" r="2.35"/><circle cx="759.1" cy="322.7" r="2.35"/><circle cx="759.2" cy="322.8" r="2.35"/><circle cx="759.4" cy="311.3" r="2.35"/><circle cx="759.5" cy="313.7" r="2.35"/><circle cx="759.6" cy="324" r="2.35"/><circle cx="759.8" cy="314.1" r="2.35"/><circle cx="759.8" cy="311.5" r="2.35"/><circle cx="759.9" cy="318.5" r="2.35"/><circle cx="760.1" cy="315.8" r="2.35"/><circle cx="760.1" cy="303.6" r="2.35"/><circle cx="760.3" cy="335.4" r="2.35"/><circle cx="760.4" cy="324.5" r="2.35"/><circle cx="760.5" cy="322.5" r="2.35"/><circle cx="760.7" cy="335.5" r="2.35"/><circle cx="760.7" cy="322.2" r="2.35"/><circle cx="760.8" cy="325.2" r="2.35"/><circle cx="761" cy="330.4" r="2.35"/><circle cx="761.1" cy="327" r="2.35"/><circle cx="761.3" cy="318" r="2.35"/><circle cx="761.4" cy="324.6" r="2.35"/><circle cx="761.4" cy="323.8" r="2.35"/><circle cx="761.6" cy="324.9" r="2.35"/><circle cx="761.6" cy="312.4" r="2.35"/><circle cx="761.8" cy="323.1" r="2.35"/><circle cx="762" cy="309.7" r="2.35"/><circle cx="762.1" cy="324.7" r="2.35"/><circle cx="762.1" cy="306.5" r="2.35"/><circle cx="762.3" cy="319.4" r="2.35"/><circle cx="762.4" cy="309.9" r="2.35"/><circle cx="762.5" cy="316.4" r="2.35"/><circle cx="762.6" cy="324.5" r="2.35"/><circle cx="762.8" cy="317.6" r="2.35"/><circle cx="762.9" cy="312.6" r="2.35"/><circle cx="762.9" cy="319.6" r="2.35"/><circle cx="763.1" cy="311.4" r="2.35"/><circle cx="763.2" cy="314.4" r="2.35"/><circle cx="763.4" cy="305.2" r="2.35"/><circle cx="763.5" cy="320" r="2.35"/><circle cx="763.5" cy="311.3" r="2.35"/><circle cx="763.7" cy="323" r="2.35"/><circle cx="763.8" cy="316.1" r="2.35"/><circle cx="764" cy="322.2" r="2.35"/><circle cx="764" cy="332.8" r="2.35"/><circle cx="764.1" cy="321.7" r="2.35"/><circle cx="764.3" cy="318.4" r="2.35"/><circle cx="764.4" cy="312.1" r="2.35"/><circle cx="764.6" cy="320.6" r="2.35"/><circle cx="764.6" cy="321" r="2.35"/><circle cx="764.8" cy="318.8" r="2.35"/><circle cx="764.9" cy="312.4" r="2.35"/><circle cx="765" cy="313.8" r="2.35"/><circle cx="765.2" cy="322" r="2.35"/><circle cx="765.2" cy="317.9" r="2.35"/><circle cx="765.3" cy="317.5" r="2.35"/><circle cx="765.4" cy="302.6" r="2.35"/><circle cx="765.6" cy="329" r="2.35"/><circle cx="765.7" cy="329.5" r="2.35"/><circle cx="765.8" cy="316" r="2.35"/><circle cx="765.9" cy="317.4" r="2.35"/><circle cx="766" cy="301" r="2.35"/><circle cx="766.2" cy="303.9" r="2.35"/><circle cx="766.3" cy="315.2" r="2.35"/><circle cx="766.4" cy="322.4" r="2.35"/><circle cx="766.5" cy="312.2" r="2.35"/><circle cx="766.7" cy="321.9" r="2.35"/><circle cx="766.8" cy="322.5" r="2.35"/><circle cx="766.9" cy="322.8" r="2.35"/><circle cx="767" cy="312" r="2.35"/><circle cx="767.2" cy="330" r="2.35"/><circle cx="767.2" cy="308.8" r="2.35"/><circle cx="767.4" cy="320.1" r="2.35"/><circle cx="767.5" cy="326.8" r="2.35"/><circle cx="767.6" cy="332.5" r="2.35"/><circle cx="767.7" cy="325.9" r="2.35"/><circle cx="767.8" cy="318.6" r="2.35"/><circle cx="767.9" cy="309.6" r="2.35"/><circle cx="768" cy="314" r="2.35"/><circle cx="768.2" cy="320.7" r="2.35"/><circle cx="768.2" cy="327.3" r="2.35"/><circle cx="768.4" cy="322" r="2.35"/><circle cx="768.6" cy="333.7" r="2.35"/><circle cx="768.6" cy="316.8" r="2.35"/><circle cx="768.8" cy="328.7" r="2.35"/><circle cx="768.8" cy="310.8" r="2.35"/><circle cx="768.9" cy="315.5" r="2.35"/><circle cx="769.1" cy="323.5" r="2.35"/><circle cx="769.2" cy="327.1" r="2.35"/><circle cx="769.4" cy="331.1" r="2.35"/><circle cx="769.5" cy="311.8" r="2.35"/><circle cx="769.6" cy="331.6" r="2.35"/><circle cx="769.8" cy="304.8" r="2.35"/><circle cx="769.8" cy="316" r="2.35"/><circle cx="769.9" cy="318.6" r="2.35"/><circle cx="770.1" cy="324" r="2.35"/><circle cx="770.1" cy="322.6" r="2.35"/><circle cx="770.3" cy="312.1" r="2.35"/><circle cx="770.4" cy="305.6" r="2.35"/><circle cx="770.6" cy="320" r="2.35"/><circle cx="770.7" cy="330.4" r="2.35"/><circle cx="770.8" cy="304.7" r="2.35"/><circle cx="770.9" cy="318.8" r="2.35"/><circle cx="771" cy="303.9" r="2.35"/><circle cx="771.1" cy="309.4" r="2.35"/><circle cx="771.3" cy="315" r="2.35"/><circle cx="771.4" cy="307.7" r="2.35"/><circle cx="771.5" cy="311.1" r="2.35"/><circle cx="771.6" cy="319.2" r="2.35"/><circle cx="771.7" cy="310.6" r="2.35"/><circle cx="771.8" cy="308.4" r="2.35"/><circle cx="772" cy="333.1" r="2.35"/><circle cx="772" cy="324.9" r="2.35"/><circle cx="772.2" cy="314.7" r="2.35"/><circle cx="772.3" cy="327.6" r="2.35"/><circle cx="772.4" cy="314.2" r="2.35"/><circle cx="772.5" cy="323.4" r="2.35"/><circle cx="772.6" cy="321.1" r="2.35"/><circle cx="772.7" cy="321.3" r="2.35"/><circle cx="772.9" cy="320.3" r="2.35"/><circle cx="773" cy="321" r="2.35"/><circle cx="773.1" cy="318.9" r="2.35"/><circle cx="773.3" cy="313.7" r="2.35"/><circle cx="773.4" cy="306.1" r="2.35"/><circle cx="773.4" cy="329.4" r="2.35"/><circle cx="773.6" cy="307.6" r="2.35"/><circle cx="773.7" cy="315.5" r="2.35"/><circle cx="773.9" cy="339.5" r="2.35"/><circle cx="773.9" cy="331.3" r="2.35"/><circle cx="774" cy="328.5" r="2.35"/><circle cx="774.1" cy="328.2" r="2.35"/><circle cx="774.3" cy="322.1" r="2.35"/><circle cx="774.4" cy="316.9" r="2.35"/><circle cx="774.5" cy="321.9" r="2.35"/><circle cx="774.7" cy="329.8" r="2.35"/><circle cx="774.8" cy="343.3" r="2.35"/><circle cx="774.9" cy="325.2" r="2.35"/><circle cx="775" cy="316.7" r="2.35"/><circle cx="775.1" cy="310.5" r="2.35"/><circle cx="775.2" cy="313.9" r="2.35"/><circle cx="775.4" cy="321.5" r="2.35"/><circle cx="775.5" cy="326.2" r="2.35"/><circle cx="775.6" cy="312.7" r="2.35"/><circle cx="775.7" cy="307.6" r="2.35"/><circle cx="775.9" cy="318.3" r="2.35"/><circle cx="776" cy="314.3" r="2.35"/><circle cx="776.1" cy="323.1" r="2.35"/><circle cx="776.2" cy="307.4" r="2.35"/><circle cx="776.3" cy="323.6" r="2.35"/><circle cx="776.4" cy="326.4" r="2.35"/><circle cx="776.5" cy="318.9" r="2.35"/><circle cx="776.7" cy="308.6" r="2.35"/><circle cx="776.8" cy="305.1" r="2.35"/><circle cx="776.9" cy="315.2" r="2.35"/><circle cx="777" cy="320.5" r="2.35"/><circle cx="777.1" cy="307" r="2.35"/><circle cx="777.2" cy="326.3" r="2.35"/><circle cx="777.4" cy="319.4" r="2.35"/><circle cx="777.5" cy="327.9" r="2.35"/><circle cx="777.6" cy="319.5" r="2.35"/><circle cx="777.7" cy="318.5" r="2.35"/><circle cx="777.8" cy="311.1" r="2.35"/><circle cx="777.9" cy="310.7" r="2.35"/><circle cx="778" cy="333.8" r="2.35"/><circle cx="778.2" cy="316.7" r="2.35"/><circle cx="778.3" cy="323.6" r="2.35"/><circle cx="778.4" cy="313.8" r="2.35"/><circle cx="778.5" cy="316.7" r="2.35"/><circle cx="778.7" cy="325.7" r="2.35"/><circle cx="778.7" cy="322.6" r="2.35"/><circle cx="778.9" cy="315" r="2.35"/><circle cx="779" cy="313.5" r="2.35"/><circle cx="779.1" cy="324.5" r="2.35"/><circle cx="779.2" cy="310" r="2.35"/><circle cx="779.3" cy="304.8" r="2.35"/><circle cx="779.5" cy="320.7" r="2.35"/><circle cx="779.6" cy="324.6" r="2.35"/><circle cx="779.7" cy="317.1" r="2.35"/><circle cx="779.8" cy="298.8" r="2.35"/><circle cx="779.9" cy="324" r="2.35"/><circle cx="780.1" cy="320" r="2.35"/><circle cx="780.2" cy="324.9" r="2.35"/><circle cx="780.3" cy="322.9" r="2.35"/><circle cx="780.4" cy="333" r="2.35"/><circle cx="780.5" cy="321.4" r="2.35"/><circle cx="780.7" cy="323.4" r="2.35"/><circle cx="780.8" cy="312.8" r="2.35"/><circle cx="780.9" cy="327.5" r="2.35"/><circle cx="781" cy="315.5" r="2.35"/><circle cx="781.1" cy="327.6" r="2.35"/><circle cx="781.3" cy="321.1" r="2.35"/><circle cx="781.3" cy="327.6" r="2.35"/><circle cx="781.5" cy="319" r="2.35"/><circle cx="781.6" cy="327.1" r="2.35"/><circle cx="781.7" cy="318.4" r="2.35"/><circle cx="781.8" cy="307" r="2.35"/><circle cx="781.9" cy="314.1" r="2.35"/><circle cx="782.1" cy="321.4" r="2.35"/><circle cx="782.1" cy="320.9" r="2.35"/><circle cx="782.3" cy="328.6" r="2.35"/><circle cx="782.4" cy="314.1" r="2.35"/><circle cx="782.5" cy="310.9" r="2.35"/><circle cx="782.6" cy="337.5" r="2.35"/><circle cx="782.8" cy="298.9" r="2.35"/><circle cx="782.9" cy="318.5" r="2.35"/><circle cx="783" cy="314.6" r="2.35"/><circle cx="783.1" cy="326.1" r="2.35"/><circle cx="783.2" cy="330.1" r="2.35"/><circle cx="783.4" cy="322.2" r="2.35"/><circle cx="783.4" cy="325.3" r="2.35"/><circle cx="783.5" cy="335.1" r="2.35"/><circle cx="783.7" cy="304" r="2.35"/><circle cx="783.8" cy="319.4" r="2.35"/><circle cx="783.9" cy="317.2" r="2.35"/><circle cx="535.9" cy="285.9" r="2.35"/><circle cx="586.4" cy="283.7" r="2.35"/><circle cx="710.3" cy="267.9" r="2.35"/><circle cx="570.6" cy="364.8" r="2.35"/><circle cx="610.2" cy="364.8" r="2.35"/><circle cx="615.6" cy="354.9" r="2.35"/><circle cx="628.1" cy="367.5" r="2.35"/><circle cx="631.4" cy="359.3" r="2.35"/><circle cx="651.4" cy="357" r="2.35"/><circle cx="645" cy="402.2" r="2.35"/><circle cx="524.7" cy="346.7" r="2.35"/><circle cx="707.1" cy="361.6" r="2.35"/><circle cx="712.5" cy="359.3" r="2.35"/><circle cx="719.3" cy="356.2" r="2.35"/><circle cx="731.9" cy="360.7" r="2.35"/><circle cx="746.3" cy="370.6" r="2.35"/><circle cx="754" cy="372.9" r="2.35"/><circle cx="741.8" cy="356.2" r="2.35"/><circle cx="763.4" cy="287.3" r="2.35"/><circle cx="766.6" cy="288.6" r="2.35"/><circle cx="776.9" cy="289.5" r="2.35"/><circle cx="517.9" cy="297.6" r="2.35"/><circle cx="528.7" cy="295.4" r="2.35"/><circle cx="569.7" cy="293.1" r="2.35"/><circle cx="593.2" cy="292.7" r="2.35"/><circle cx="645" cy="292.7" r="2.35"/><circle cx="650.8" cy="293.6" r="2.35"/><circle cx="686.8" cy="291.8" r="2.35"/><circle cx="750.8" cy="297.6" r="2.35"/></g>
<path d="M509 292.9H790M509 347.8H790" stroke="#e43c3c" stroke-width="1.5"/>
<path d="M508 250V412.2M505 412H790" stroke="#111" stroke-width="1.8" fill="none"/>
<path d="M504.5 264.1h3.5M504.5 282.7h3.5M504.5 301.3h3.5M504.5 319.9h3.5M504.5 338.5h3.5M504.5 357.1h3.5M504.5 375.7h3.5M504.5 394.3h3.5" stroke="#111" stroke-width="1.1"/>
<text x="501.6" y="268.2" font-size="11" text-anchor="end" fill="#231f20" stroke="#231f20" stroke-width="0.1">6</text>
<text x="501.6" y="286.8" font-size="11" text-anchor="end" fill="#231f20" stroke="#231f20" stroke-width="0.1">4</text>
<text x="501.6" y="305.4" font-size="11" text-anchor="end" fill="#231f20" stroke="#231f20" stroke-width="0.1">2</text>
<text x="501.6" y="324" font-size="11" text-anchor="end" fill="#231f20" stroke="#231f20" stroke-width="0.1">0</text>
<text x="501.6" y="342.6" font-size="11" text-anchor="end" fill="#231f20" stroke="#231f20" stroke-width="0.1">-2</text>
<text x="501.6" y="361.2" font-size="11" text-anchor="end" fill="#231f20" stroke="#231f20" stroke-width="0.1">-4</text>
<text x="501.6" y="379.8" font-size="11" text-anchor="end" fill="#231f20" stroke="#231f20" stroke-width="0.1">-6</text>
<text x="501.6" y="398.4" font-size="11" text-anchor="end" fill="#231f20" stroke="#231f20" stroke-width="0.1">-8</text>
<text x="481.6" y="316.8" font-size="10.5" text-anchor="middle" fill="#231f20" stroke="#231f20" stroke-width="0.22" textLength="38.7" lengthAdjust="spacingAndGlyphs" transform="rotate(-90 481.6 316.8)">z-score</text>
<text x="665.4" y="424.5" font-size="10" text-anchor="middle" fill="#231f20" stroke="#231f20" stroke-width="0.22" textLength="98" lengthAdjust="spacingAndGlyphs">compounds (2320)</text></svg>
</body></html>
